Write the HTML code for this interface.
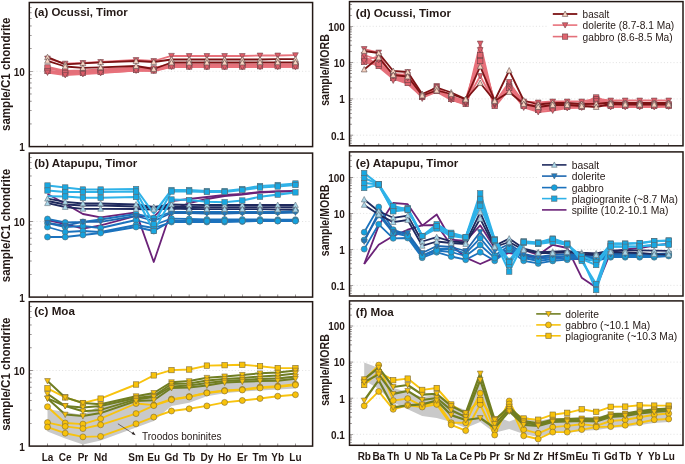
<!DOCTYPE html>
<html><head><meta charset="utf-8"><title>REE and trace element patterns</title>
<style>html,body{margin:0;padding:0;background:#fff;width:685px;height:464px;overflow:hidden}
body{position:relative;font-family:"Liberation Sans",sans-serif} svg text{} .t{will-change:transform}</style></head>
<body>
<svg width="685" height="464" viewBox="0 0 685 464" style="position:absolute;left:0;top:0;will-change:transform">
<rect width="685" height="464" fill="#ffffff"/>
<g font-family="Liberation Sans, sans-serif" fill="#231815">
<line x1="29.70" y1="123.93" x2="31.70" y2="123.93" stroke="#231815" stroke-width="0.6" opacity="0.8"/>
<line x1="29.70" y1="110.67" x2="31.70" y2="110.67" stroke="#231815" stroke-width="0.6" opacity="0.8"/>
<line x1="29.70" y1="101.26" x2="31.70" y2="101.26" stroke="#231815" stroke-width="0.6" opacity="0.8"/>
<line x1="29.70" y1="93.97" x2="31.70" y2="93.97" stroke="#231815" stroke-width="0.6" opacity="0.8"/>
<line x1="29.70" y1="88.01" x2="31.70" y2="88.01" stroke="#231815" stroke-width="0.6" opacity="0.8"/>
<line x1="29.70" y1="82.96" x2="31.70" y2="82.96" stroke="#231815" stroke-width="0.6" opacity="0.8"/>
<line x1="29.70" y1="78.60" x2="31.70" y2="78.60" stroke="#231815" stroke-width="0.6" opacity="0.8"/>
<line x1="29.70" y1="74.75" x2="31.70" y2="74.75" stroke="#231815" stroke-width="0.6" opacity="0.8"/>
<line x1="29.70" y1="71.30" x2="32.90" y2="71.30" stroke="#231815" stroke-width="0.6" opacity="0.8"/>
<line x1="29.70" y1="48.63" x2="31.70" y2="48.63" stroke="#231815" stroke-width="0.6" opacity="0.8"/>
<line x1="29.70" y1="35.37" x2="31.70" y2="35.37" stroke="#231815" stroke-width="0.6" opacity="0.8"/>
<line x1="29.70" y1="25.96" x2="31.70" y2="25.96" stroke="#231815" stroke-width="0.6" opacity="0.8"/>
<line x1="29.70" y1="18.67" x2="31.70" y2="18.67" stroke="#231815" stroke-width="0.6" opacity="0.8"/>
<line x1="29.70" y1="12.71" x2="31.70" y2="12.71" stroke="#231815" stroke-width="0.6" opacity="0.8"/>
<line x1="29.70" y1="7.66" x2="31.70" y2="7.66" stroke="#231815" stroke-width="0.6" opacity="0.8"/>
<line x1="33.30" y1="71.30" x2="310.60" y2="71.30" stroke="#d9d9d9" stroke-width="0.8" stroke-dasharray="1 2.2"/>
<line x1="47.50" y1="146.60" x2="47.50" y2="144.00" stroke="#231815" stroke-width="0.6" opacity="0.8"/>
<line x1="65.21" y1="146.60" x2="65.21" y2="144.00" stroke="#231815" stroke-width="0.6" opacity="0.8"/>
<line x1="82.92" y1="146.60" x2="82.92" y2="144.00" stroke="#231815" stroke-width="0.6" opacity="0.8"/>
<line x1="100.63" y1="146.60" x2="100.63" y2="144.00" stroke="#231815" stroke-width="0.6" opacity="0.8"/>
<line x1="118.34" y1="146.60" x2="118.34" y2="144.00" stroke="#231815" stroke-width="0.6" opacity="0.8"/>
<line x1="136.05" y1="146.60" x2="136.05" y2="144.00" stroke="#231815" stroke-width="0.6" opacity="0.8"/>
<line x1="153.76" y1="146.60" x2="153.76" y2="144.00" stroke="#231815" stroke-width="0.6" opacity="0.8"/>
<line x1="171.47" y1="146.60" x2="171.47" y2="144.00" stroke="#231815" stroke-width="0.6" opacity="0.8"/>
<line x1="189.18" y1="146.60" x2="189.18" y2="144.00" stroke="#231815" stroke-width="0.6" opacity="0.8"/>
<line x1="206.89" y1="146.60" x2="206.89" y2="144.00" stroke="#231815" stroke-width="0.6" opacity="0.8"/>
<line x1="224.60" y1="146.60" x2="224.60" y2="144.00" stroke="#231815" stroke-width="0.6" opacity="0.8"/>
<line x1="242.31" y1="146.60" x2="242.31" y2="144.00" stroke="#231815" stroke-width="0.6" opacity="0.8"/>
<line x1="260.02" y1="146.60" x2="260.02" y2="144.00" stroke="#231815" stroke-width="0.6" opacity="0.8"/>
<line x1="277.73" y1="146.60" x2="277.73" y2="144.00" stroke="#231815" stroke-width="0.6" opacity="0.8"/>
<line x1="295.44" y1="146.60" x2="295.44" y2="144.00" stroke="#231815" stroke-width="0.6" opacity="0.8"/>
<text x="24.90" y="75.70" font-size="10" font-weight="bold" text-anchor="end" >10</text>
<text x="24.90" y="151.00" font-size="10" font-weight="bold" text-anchor="end" >1</text>
<text x="34.20" y="16.10" font-size="10.5" font-weight="bold" text-anchor="start" textLength="93.60000000000001" lengthAdjust="spacingAndGlyphs" >(a) Ocussi, Timor</text>
<text transform="translate(9.7,74.30) rotate(-90)" font-size="12" font-weight="bold" text-anchor="middle" textLength="113.3" lengthAdjust="spacingAndGlyphs">sample/C1 chondrite</text>
<line x1="29.70" y1="274.34" x2="31.70" y2="274.34" stroke="#231815" stroke-width="0.6" opacity="0.8"/>
<line x1="29.70" y1="261.03" x2="31.70" y2="261.03" stroke="#231815" stroke-width="0.6" opacity="0.8"/>
<line x1="29.70" y1="251.58" x2="31.70" y2="251.58" stroke="#231815" stroke-width="0.6" opacity="0.8"/>
<line x1="29.70" y1="244.26" x2="31.70" y2="244.26" stroke="#231815" stroke-width="0.6" opacity="0.8"/>
<line x1="29.70" y1="238.27" x2="31.70" y2="238.27" stroke="#231815" stroke-width="0.6" opacity="0.8"/>
<line x1="29.70" y1="233.21" x2="31.70" y2="233.21" stroke="#231815" stroke-width="0.6" opacity="0.8"/>
<line x1="29.70" y1="228.83" x2="31.70" y2="228.83" stroke="#231815" stroke-width="0.6" opacity="0.8"/>
<line x1="29.70" y1="224.96" x2="31.70" y2="224.96" stroke="#231815" stroke-width="0.6" opacity="0.8"/>
<line x1="29.70" y1="221.50" x2="32.90" y2="221.50" stroke="#231815" stroke-width="0.6" opacity="0.8"/>
<line x1="29.70" y1="198.74" x2="31.70" y2="198.74" stroke="#231815" stroke-width="0.6" opacity="0.8"/>
<line x1="29.70" y1="185.43" x2="31.70" y2="185.43" stroke="#231815" stroke-width="0.6" opacity="0.8"/>
<line x1="29.70" y1="175.98" x2="31.70" y2="175.98" stroke="#231815" stroke-width="0.6" opacity="0.8"/>
<line x1="29.70" y1="168.66" x2="31.70" y2="168.66" stroke="#231815" stroke-width="0.6" opacity="0.8"/>
<line x1="29.70" y1="162.67" x2="31.70" y2="162.67" stroke="#231815" stroke-width="0.6" opacity="0.8"/>
<line x1="29.70" y1="157.61" x2="31.70" y2="157.61" stroke="#231815" stroke-width="0.6" opacity="0.8"/>
<line x1="33.30" y1="221.50" x2="310.60" y2="221.50" stroke="#d9d9d9" stroke-width="0.8" stroke-dasharray="1 2.2"/>
<line x1="47.50" y1="297.10" x2="47.50" y2="294.50" stroke="#231815" stroke-width="0.6" opacity="0.8"/>
<line x1="65.21" y1="297.10" x2="65.21" y2="294.50" stroke="#231815" stroke-width="0.6" opacity="0.8"/>
<line x1="82.92" y1="297.10" x2="82.92" y2="294.50" stroke="#231815" stroke-width="0.6" opacity="0.8"/>
<line x1="100.63" y1="297.10" x2="100.63" y2="294.50" stroke="#231815" stroke-width="0.6" opacity="0.8"/>
<line x1="118.34" y1="297.10" x2="118.34" y2="294.50" stroke="#231815" stroke-width="0.6" opacity="0.8"/>
<line x1="136.05" y1="297.10" x2="136.05" y2="294.50" stroke="#231815" stroke-width="0.6" opacity="0.8"/>
<line x1="153.76" y1="297.10" x2="153.76" y2="294.50" stroke="#231815" stroke-width="0.6" opacity="0.8"/>
<line x1="171.47" y1="297.10" x2="171.47" y2="294.50" stroke="#231815" stroke-width="0.6" opacity="0.8"/>
<line x1="189.18" y1="297.10" x2="189.18" y2="294.50" stroke="#231815" stroke-width="0.6" opacity="0.8"/>
<line x1="206.89" y1="297.10" x2="206.89" y2="294.50" stroke="#231815" stroke-width="0.6" opacity="0.8"/>
<line x1="224.60" y1="297.10" x2="224.60" y2="294.50" stroke="#231815" stroke-width="0.6" opacity="0.8"/>
<line x1="242.31" y1="297.10" x2="242.31" y2="294.50" stroke="#231815" stroke-width="0.6" opacity="0.8"/>
<line x1="260.02" y1="297.10" x2="260.02" y2="294.50" stroke="#231815" stroke-width="0.6" opacity="0.8"/>
<line x1="277.73" y1="297.10" x2="277.73" y2="294.50" stroke="#231815" stroke-width="0.6" opacity="0.8"/>
<line x1="295.44" y1="297.10" x2="295.44" y2="294.50" stroke="#231815" stroke-width="0.6" opacity="0.8"/>
<text x="24.90" y="225.90" font-size="10" font-weight="bold" text-anchor="end" >10</text>
<text x="24.90" y="301.50" font-size="10" font-weight="bold" text-anchor="end" >1</text>
<text x="34.20" y="166.70" font-size="10.5" font-weight="bold" text-anchor="start" textLength="103.10000000000001" lengthAdjust="spacingAndGlyphs" >(b) Atapupu, Timor</text>
<text transform="translate(9.7,225.60) rotate(-90)" font-size="12" font-weight="bold" text-anchor="middle" textLength="113.3" lengthAdjust="spacingAndGlyphs">sample/C1 chondrite</text>
<line x1="29.70" y1="423.34" x2="31.70" y2="423.34" stroke="#231815" stroke-width="0.6" opacity="0.8"/>
<line x1="29.70" y1="410.03" x2="31.70" y2="410.03" stroke="#231815" stroke-width="0.6" opacity="0.8"/>
<line x1="29.70" y1="400.58" x2="31.70" y2="400.58" stroke="#231815" stroke-width="0.6" opacity="0.8"/>
<line x1="29.70" y1="393.26" x2="31.70" y2="393.26" stroke="#231815" stroke-width="0.6" opacity="0.8"/>
<line x1="29.70" y1="387.27" x2="31.70" y2="387.27" stroke="#231815" stroke-width="0.6" opacity="0.8"/>
<line x1="29.70" y1="382.21" x2="31.70" y2="382.21" stroke="#231815" stroke-width="0.6" opacity="0.8"/>
<line x1="29.70" y1="377.83" x2="31.70" y2="377.83" stroke="#231815" stroke-width="0.6" opacity="0.8"/>
<line x1="29.70" y1="373.96" x2="31.70" y2="373.96" stroke="#231815" stroke-width="0.6" opacity="0.8"/>
<line x1="29.70" y1="370.50" x2="32.90" y2="370.50" stroke="#231815" stroke-width="0.6" opacity="0.8"/>
<line x1="29.70" y1="347.74" x2="31.70" y2="347.74" stroke="#231815" stroke-width="0.6" opacity="0.8"/>
<line x1="29.70" y1="334.43" x2="31.70" y2="334.43" stroke="#231815" stroke-width="0.6" opacity="0.8"/>
<line x1="29.70" y1="324.98" x2="31.70" y2="324.98" stroke="#231815" stroke-width="0.6" opacity="0.8"/>
<line x1="29.70" y1="317.66" x2="31.70" y2="317.66" stroke="#231815" stroke-width="0.6" opacity="0.8"/>
<line x1="29.70" y1="311.67" x2="31.70" y2="311.67" stroke="#231815" stroke-width="0.6" opacity="0.8"/>
<line x1="29.70" y1="306.61" x2="31.70" y2="306.61" stroke="#231815" stroke-width="0.6" opacity="0.8"/>
<line x1="33.30" y1="370.50" x2="310.60" y2="370.50" stroke="#d9d9d9" stroke-width="0.8" stroke-dasharray="1 2.2"/>
<line x1="47.50" y1="446.10" x2="47.50" y2="443.50" stroke="#231815" stroke-width="0.6" opacity="0.8"/>
<line x1="65.21" y1="446.10" x2="65.21" y2="443.50" stroke="#231815" stroke-width="0.6" opacity="0.8"/>
<line x1="82.92" y1="446.10" x2="82.92" y2="443.50" stroke="#231815" stroke-width="0.6" opacity="0.8"/>
<line x1="100.63" y1="446.10" x2="100.63" y2="443.50" stroke="#231815" stroke-width="0.6" opacity="0.8"/>
<line x1="118.34" y1="446.10" x2="118.34" y2="443.50" stroke="#231815" stroke-width="0.6" opacity="0.8"/>
<line x1="136.05" y1="446.10" x2="136.05" y2="443.50" stroke="#231815" stroke-width="0.6" opacity="0.8"/>
<line x1="153.76" y1="446.10" x2="153.76" y2="443.50" stroke="#231815" stroke-width="0.6" opacity="0.8"/>
<line x1="171.47" y1="446.10" x2="171.47" y2="443.50" stroke="#231815" stroke-width="0.6" opacity="0.8"/>
<line x1="189.18" y1="446.10" x2="189.18" y2="443.50" stroke="#231815" stroke-width="0.6" opacity="0.8"/>
<line x1="206.89" y1="446.10" x2="206.89" y2="443.50" stroke="#231815" stroke-width="0.6" opacity="0.8"/>
<line x1="224.60" y1="446.10" x2="224.60" y2="443.50" stroke="#231815" stroke-width="0.6" opacity="0.8"/>
<line x1="242.31" y1="446.10" x2="242.31" y2="443.50" stroke="#231815" stroke-width="0.6" opacity="0.8"/>
<line x1="260.02" y1="446.10" x2="260.02" y2="443.50" stroke="#231815" stroke-width="0.6" opacity="0.8"/>
<line x1="277.73" y1="446.10" x2="277.73" y2="443.50" stroke="#231815" stroke-width="0.6" opacity="0.8"/>
<line x1="295.44" y1="446.10" x2="295.44" y2="443.50" stroke="#231815" stroke-width="0.6" opacity="0.8"/>
<text x="24.90" y="374.90" font-size="10" font-weight="bold" text-anchor="end" >10</text>
<text x="24.90" y="450.50" font-size="10" font-weight="bold" text-anchor="end" >1</text>
<text x="34.20" y="315.30" font-size="10.5" font-weight="bold" text-anchor="start" textLength="40.7" lengthAdjust="spacingAndGlyphs" >(c) Moa</text>
<text transform="translate(9.7,374.20) rotate(-90)" font-size="12" font-weight="bold" text-anchor="middle" textLength="113.3" lengthAdjust="spacingAndGlyphs">sample/C1 chondrite</text>
<line x1="349.90" y1="143.25" x2="351.90" y2="143.25" stroke="#231815" stroke-width="0.6" opacity="0.8"/>
<line x1="349.90" y1="140.82" x2="351.90" y2="140.82" stroke="#231815" stroke-width="0.6" opacity="0.8"/>
<line x1="349.90" y1="138.72" x2="351.90" y2="138.72" stroke="#231815" stroke-width="0.6" opacity="0.8"/>
<line x1="349.90" y1="136.86" x2="351.90" y2="136.86" stroke="#231815" stroke-width="0.6" opacity="0.8"/>
<line x1="349.90" y1="135.20" x2="353.10" y2="135.20" stroke="#231815" stroke-width="0.6" opacity="0.8"/>
<line x1="349.90" y1="124.27" x2="351.90" y2="124.27" stroke="#231815" stroke-width="0.6" opacity="0.8"/>
<line x1="349.90" y1="117.88" x2="351.90" y2="117.88" stroke="#231815" stroke-width="0.6" opacity="0.8"/>
<line x1="349.90" y1="113.35" x2="351.90" y2="113.35" stroke="#231815" stroke-width="0.6" opacity="0.8"/>
<line x1="349.90" y1="109.83" x2="351.90" y2="109.83" stroke="#231815" stroke-width="0.6" opacity="0.8"/>
<line x1="349.90" y1="106.95" x2="351.90" y2="106.95" stroke="#231815" stroke-width="0.6" opacity="0.8"/>
<line x1="349.90" y1="104.52" x2="351.90" y2="104.52" stroke="#231815" stroke-width="0.6" opacity="0.8"/>
<line x1="349.90" y1="102.42" x2="351.90" y2="102.42" stroke="#231815" stroke-width="0.6" opacity="0.8"/>
<line x1="349.90" y1="100.56" x2="351.90" y2="100.56" stroke="#231815" stroke-width="0.6" opacity="0.8"/>
<line x1="349.90" y1="98.90" x2="353.10" y2="98.90" stroke="#231815" stroke-width="0.6" opacity="0.8"/>
<line x1="349.90" y1="87.97" x2="351.90" y2="87.97" stroke="#231815" stroke-width="0.6" opacity="0.8"/>
<line x1="349.90" y1="81.58" x2="351.90" y2="81.58" stroke="#231815" stroke-width="0.6" opacity="0.8"/>
<line x1="349.90" y1="77.05" x2="351.90" y2="77.05" stroke="#231815" stroke-width="0.6" opacity="0.8"/>
<line x1="349.90" y1="73.53" x2="351.90" y2="73.53" stroke="#231815" stroke-width="0.6" opacity="0.8"/>
<line x1="349.90" y1="70.65" x2="351.90" y2="70.65" stroke="#231815" stroke-width="0.6" opacity="0.8"/>
<line x1="349.90" y1="68.22" x2="351.90" y2="68.22" stroke="#231815" stroke-width="0.6" opacity="0.8"/>
<line x1="349.90" y1="66.12" x2="351.90" y2="66.12" stroke="#231815" stroke-width="0.6" opacity="0.8"/>
<line x1="349.90" y1="64.26" x2="351.90" y2="64.26" stroke="#231815" stroke-width="0.6" opacity="0.8"/>
<line x1="349.90" y1="62.60" x2="353.10" y2="62.60" stroke="#231815" stroke-width="0.6" opacity="0.8"/>
<line x1="349.90" y1="51.67" x2="351.90" y2="51.67" stroke="#231815" stroke-width="0.6" opacity="0.8"/>
<line x1="349.90" y1="45.28" x2="351.90" y2="45.28" stroke="#231815" stroke-width="0.6" opacity="0.8"/>
<line x1="349.90" y1="40.75" x2="351.90" y2="40.75" stroke="#231815" stroke-width="0.6" opacity="0.8"/>
<line x1="349.90" y1="37.23" x2="351.90" y2="37.23" stroke="#231815" stroke-width="0.6" opacity="0.8"/>
<line x1="349.90" y1="34.35" x2="351.90" y2="34.35" stroke="#231815" stroke-width="0.6" opacity="0.8"/>
<line x1="349.90" y1="31.92" x2="351.90" y2="31.92" stroke="#231815" stroke-width="0.6" opacity="0.8"/>
<line x1="349.90" y1="29.82" x2="351.90" y2="29.82" stroke="#231815" stroke-width="0.6" opacity="0.8"/>
<line x1="349.90" y1="27.96" x2="351.90" y2="27.96" stroke="#231815" stroke-width="0.6" opacity="0.8"/>
<line x1="349.90" y1="26.30" x2="353.10" y2="26.30" stroke="#231815" stroke-width="0.6" opacity="0.8"/>
<line x1="349.90" y1="15.37" x2="351.90" y2="15.37" stroke="#231815" stroke-width="0.6" opacity="0.8"/>
<line x1="349.90" y1="8.98" x2="351.90" y2="8.98" stroke="#231815" stroke-width="0.6" opacity="0.8"/>
<line x1="349.90" y1="4.45" x2="351.90" y2="4.45" stroke="#231815" stroke-width="0.6" opacity="0.8"/>
<line x1="353.50" y1="26.30" x2="681.00" y2="26.30" stroke="#d9d9d9" stroke-width="0.8" stroke-dasharray="1 2.2"/>
<text x="344.90" y="30.60" font-size="10" font-weight="bold" text-anchor="end" >100</text>
<line x1="353.50" y1="62.60" x2="681.00" y2="62.60" stroke="#d9d9d9" stroke-width="0.8" stroke-dasharray="1 2.2"/>
<text x="344.90" y="66.90" font-size="10" font-weight="bold" text-anchor="end" >10</text>
<line x1="353.50" y1="98.90" x2="681.00" y2="98.90" stroke="#d9d9d9" stroke-width="0.8" stroke-dasharray="1 2.2"/>
<text x="344.90" y="103.20" font-size="10" font-weight="bold" text-anchor="end" >1</text>
<line x1="353.50" y1="135.20" x2="681.00" y2="135.20" stroke="#d9d9d9" stroke-width="0.8" stroke-dasharray="1 2.2"/>
<text x="344.90" y="139.50" font-size="10" font-weight="bold" text-anchor="end" >0.1</text>
<line x1="364.20" y1="145.80" x2="364.20" y2="143.20" stroke="#231815" stroke-width="0.6" opacity="0.8"/>
<line x1="378.70" y1="145.80" x2="378.70" y2="143.20" stroke="#231815" stroke-width="0.6" opacity="0.8"/>
<line x1="393.20" y1="145.80" x2="393.20" y2="143.20" stroke="#231815" stroke-width="0.6" opacity="0.8"/>
<line x1="407.70" y1="145.80" x2="407.70" y2="143.20" stroke="#231815" stroke-width="0.6" opacity="0.8"/>
<line x1="422.20" y1="145.80" x2="422.20" y2="143.20" stroke="#231815" stroke-width="0.6" opacity="0.8"/>
<line x1="436.70" y1="145.80" x2="436.70" y2="143.20" stroke="#231815" stroke-width="0.6" opacity="0.8"/>
<line x1="451.20" y1="145.80" x2="451.20" y2="143.20" stroke="#231815" stroke-width="0.6" opacity="0.8"/>
<line x1="465.70" y1="145.80" x2="465.70" y2="143.20" stroke="#231815" stroke-width="0.6" opacity="0.8"/>
<line x1="480.20" y1="145.80" x2="480.20" y2="143.20" stroke="#231815" stroke-width="0.6" opacity="0.8"/>
<line x1="494.70" y1="145.80" x2="494.70" y2="143.20" stroke="#231815" stroke-width="0.6" opacity="0.8"/>
<line x1="509.20" y1="145.80" x2="509.20" y2="143.20" stroke="#231815" stroke-width="0.6" opacity="0.8"/>
<line x1="523.70" y1="145.80" x2="523.70" y2="143.20" stroke="#231815" stroke-width="0.6" opacity="0.8"/>
<line x1="538.20" y1="145.80" x2="538.20" y2="143.20" stroke="#231815" stroke-width="0.6" opacity="0.8"/>
<line x1="552.70" y1="145.80" x2="552.70" y2="143.20" stroke="#231815" stroke-width="0.6" opacity="0.8"/>
<line x1="567.20" y1="145.80" x2="567.20" y2="143.20" stroke="#231815" stroke-width="0.6" opacity="0.8"/>
<line x1="581.70" y1="145.80" x2="581.70" y2="143.20" stroke="#231815" stroke-width="0.6" opacity="0.8"/>
<line x1="596.20" y1="145.80" x2="596.20" y2="143.20" stroke="#231815" stroke-width="0.6" opacity="0.8"/>
<line x1="610.70" y1="145.80" x2="610.70" y2="143.20" stroke="#231815" stroke-width="0.6" opacity="0.8"/>
<line x1="625.20" y1="145.80" x2="625.20" y2="143.20" stroke="#231815" stroke-width="0.6" opacity="0.8"/>
<line x1="639.70" y1="145.80" x2="639.70" y2="143.20" stroke="#231815" stroke-width="0.6" opacity="0.8"/>
<line x1="654.20" y1="145.80" x2="654.20" y2="143.20" stroke="#231815" stroke-width="0.6" opacity="0.8"/>
<line x1="668.70" y1="145.80" x2="668.70" y2="143.20" stroke="#231815" stroke-width="0.6" opacity="0.8"/>
<text x="355.80" y="16.90" font-size="10.5" font-weight="bold" text-anchor="start" textLength="95.2" lengthAdjust="spacingAndGlyphs" >(d) Ocussi, Timor</text>
<text transform="translate(329.0,70.00) rotate(-90)" font-size="12.2" font-weight="bold" text-anchor="middle" textLength="71.6" lengthAdjust="spacingAndGlyphs">sample/MORB</text>
<line x1="349.90" y1="293.33" x2="351.90" y2="293.33" stroke="#231815" stroke-width="0.6" opacity="0.8"/>
<line x1="349.90" y1="290.92" x2="351.90" y2="290.92" stroke="#231815" stroke-width="0.6" opacity="0.8"/>
<line x1="349.90" y1="288.83" x2="351.90" y2="288.83" stroke="#231815" stroke-width="0.6" opacity="0.8"/>
<line x1="349.90" y1="286.99" x2="351.90" y2="286.99" stroke="#231815" stroke-width="0.6" opacity="0.8"/>
<line x1="349.90" y1="285.35" x2="353.10" y2="285.35" stroke="#231815" stroke-width="0.6" opacity="0.8"/>
<line x1="349.90" y1="274.53" x2="351.90" y2="274.53" stroke="#231815" stroke-width="0.6" opacity="0.8"/>
<line x1="349.90" y1="268.20" x2="351.90" y2="268.20" stroke="#231815" stroke-width="0.6" opacity="0.8"/>
<line x1="349.90" y1="263.71" x2="351.90" y2="263.71" stroke="#231815" stroke-width="0.6" opacity="0.8"/>
<line x1="349.90" y1="260.22" x2="351.90" y2="260.22" stroke="#231815" stroke-width="0.6" opacity="0.8"/>
<line x1="349.90" y1="257.38" x2="351.90" y2="257.38" stroke="#231815" stroke-width="0.6" opacity="0.8"/>
<line x1="349.90" y1="254.97" x2="351.90" y2="254.97" stroke="#231815" stroke-width="0.6" opacity="0.8"/>
<line x1="349.90" y1="252.88" x2="351.90" y2="252.88" stroke="#231815" stroke-width="0.6" opacity="0.8"/>
<line x1="349.90" y1="251.04" x2="351.90" y2="251.04" stroke="#231815" stroke-width="0.6" opacity="0.8"/>
<line x1="349.90" y1="249.40" x2="353.10" y2="249.40" stroke="#231815" stroke-width="0.6" opacity="0.8"/>
<line x1="349.90" y1="238.58" x2="351.90" y2="238.58" stroke="#231815" stroke-width="0.6" opacity="0.8"/>
<line x1="349.90" y1="232.25" x2="351.90" y2="232.25" stroke="#231815" stroke-width="0.6" opacity="0.8"/>
<line x1="349.90" y1="227.76" x2="351.90" y2="227.76" stroke="#231815" stroke-width="0.6" opacity="0.8"/>
<line x1="349.90" y1="224.27" x2="351.90" y2="224.27" stroke="#231815" stroke-width="0.6" opacity="0.8"/>
<line x1="349.90" y1="221.43" x2="351.90" y2="221.43" stroke="#231815" stroke-width="0.6" opacity="0.8"/>
<line x1="349.90" y1="219.02" x2="351.90" y2="219.02" stroke="#231815" stroke-width="0.6" opacity="0.8"/>
<line x1="349.90" y1="216.93" x2="351.90" y2="216.93" stroke="#231815" stroke-width="0.6" opacity="0.8"/>
<line x1="349.90" y1="215.09" x2="351.90" y2="215.09" stroke="#231815" stroke-width="0.6" opacity="0.8"/>
<line x1="349.90" y1="213.45" x2="353.10" y2="213.45" stroke="#231815" stroke-width="0.6" opacity="0.8"/>
<line x1="349.90" y1="202.63" x2="351.90" y2="202.63" stroke="#231815" stroke-width="0.6" opacity="0.8"/>
<line x1="349.90" y1="196.30" x2="351.90" y2="196.30" stroke="#231815" stroke-width="0.6" opacity="0.8"/>
<line x1="349.90" y1="191.81" x2="351.90" y2="191.81" stroke="#231815" stroke-width="0.6" opacity="0.8"/>
<line x1="349.90" y1="188.32" x2="351.90" y2="188.32" stroke="#231815" stroke-width="0.6" opacity="0.8"/>
<line x1="349.90" y1="185.48" x2="351.90" y2="185.48" stroke="#231815" stroke-width="0.6" opacity="0.8"/>
<line x1="349.90" y1="183.07" x2="351.90" y2="183.07" stroke="#231815" stroke-width="0.6" opacity="0.8"/>
<line x1="349.90" y1="180.98" x2="351.90" y2="180.98" stroke="#231815" stroke-width="0.6" opacity="0.8"/>
<line x1="349.90" y1="179.14" x2="351.90" y2="179.14" stroke="#231815" stroke-width="0.6" opacity="0.8"/>
<line x1="349.90" y1="177.50" x2="353.10" y2="177.50" stroke="#231815" stroke-width="0.6" opacity="0.8"/>
<line x1="349.90" y1="166.68" x2="351.90" y2="166.68" stroke="#231815" stroke-width="0.6" opacity="0.8"/>
<line x1="349.90" y1="160.35" x2="351.90" y2="160.35" stroke="#231815" stroke-width="0.6" opacity="0.8"/>
<line x1="349.90" y1="155.86" x2="351.90" y2="155.86" stroke="#231815" stroke-width="0.6" opacity="0.8"/>
<line x1="353.50" y1="177.50" x2="681.00" y2="177.50" stroke="#d9d9d9" stroke-width="0.8" stroke-dasharray="1 2.2"/>
<text x="344.90" y="181.80" font-size="10" font-weight="bold" text-anchor="end" >100</text>
<line x1="353.50" y1="213.45" x2="681.00" y2="213.45" stroke="#d9d9d9" stroke-width="0.8" stroke-dasharray="1 2.2"/>
<text x="344.90" y="217.75" font-size="10" font-weight="bold" text-anchor="end" >10</text>
<line x1="353.50" y1="249.40" x2="681.00" y2="249.40" stroke="#d9d9d9" stroke-width="0.8" stroke-dasharray="1 2.2"/>
<text x="344.90" y="253.70" font-size="10" font-weight="bold" text-anchor="end" >1</text>
<line x1="353.50" y1="285.35" x2="681.00" y2="285.35" stroke="#d9d9d9" stroke-width="0.8" stroke-dasharray="1 2.2"/>
<text x="344.90" y="289.65" font-size="10" font-weight="bold" text-anchor="end" >0.1</text>
<line x1="364.20" y1="296.00" x2="364.20" y2="293.40" stroke="#231815" stroke-width="0.6" opacity="0.8"/>
<line x1="378.70" y1="296.00" x2="378.70" y2="293.40" stroke="#231815" stroke-width="0.6" opacity="0.8"/>
<line x1="393.20" y1="296.00" x2="393.20" y2="293.40" stroke="#231815" stroke-width="0.6" opacity="0.8"/>
<line x1="407.70" y1="296.00" x2="407.70" y2="293.40" stroke="#231815" stroke-width="0.6" opacity="0.8"/>
<line x1="422.20" y1="296.00" x2="422.20" y2="293.40" stroke="#231815" stroke-width="0.6" opacity="0.8"/>
<line x1="436.70" y1="296.00" x2="436.70" y2="293.40" stroke="#231815" stroke-width="0.6" opacity="0.8"/>
<line x1="451.20" y1="296.00" x2="451.20" y2="293.40" stroke="#231815" stroke-width="0.6" opacity="0.8"/>
<line x1="465.70" y1="296.00" x2="465.70" y2="293.40" stroke="#231815" stroke-width="0.6" opacity="0.8"/>
<line x1="480.20" y1="296.00" x2="480.20" y2="293.40" stroke="#231815" stroke-width="0.6" opacity="0.8"/>
<line x1="494.70" y1="296.00" x2="494.70" y2="293.40" stroke="#231815" stroke-width="0.6" opacity="0.8"/>
<line x1="509.20" y1="296.00" x2="509.20" y2="293.40" stroke="#231815" stroke-width="0.6" opacity="0.8"/>
<line x1="523.70" y1="296.00" x2="523.70" y2="293.40" stroke="#231815" stroke-width="0.6" opacity="0.8"/>
<line x1="538.20" y1="296.00" x2="538.20" y2="293.40" stroke="#231815" stroke-width="0.6" opacity="0.8"/>
<line x1="552.70" y1="296.00" x2="552.70" y2="293.40" stroke="#231815" stroke-width="0.6" opacity="0.8"/>
<line x1="567.20" y1="296.00" x2="567.20" y2="293.40" stroke="#231815" stroke-width="0.6" opacity="0.8"/>
<line x1="581.70" y1="296.00" x2="581.70" y2="293.40" stroke="#231815" stroke-width="0.6" opacity="0.8"/>
<line x1="596.20" y1="296.00" x2="596.20" y2="293.40" stroke="#231815" stroke-width="0.6" opacity="0.8"/>
<line x1="610.70" y1="296.00" x2="610.70" y2="293.40" stroke="#231815" stroke-width="0.6" opacity="0.8"/>
<line x1="625.20" y1="296.00" x2="625.20" y2="293.40" stroke="#231815" stroke-width="0.6" opacity="0.8"/>
<line x1="639.70" y1="296.00" x2="639.70" y2="293.40" stroke="#231815" stroke-width="0.6" opacity="0.8"/>
<line x1="654.20" y1="296.00" x2="654.20" y2="293.40" stroke="#231815" stroke-width="0.6" opacity="0.8"/>
<line x1="668.70" y1="296.00" x2="668.70" y2="293.40" stroke="#231815" stroke-width="0.6" opacity="0.8"/>
<text x="355.80" y="167.20" font-size="10.5" font-weight="bold" text-anchor="start" textLength="102.6" lengthAdjust="spacingAndGlyphs" >(e) Atapupu, Timor</text>
<text transform="translate(329.0,220.40) rotate(-90)" font-size="12.2" font-weight="bold" text-anchor="middle" textLength="71.6" lengthAdjust="spacingAndGlyphs">sample/MORB</text>
<line x1="349.90" y1="442.31" x2="351.90" y2="442.31" stroke="#231815" stroke-width="0.6" opacity="0.8"/>
<line x1="349.90" y1="439.89" x2="351.90" y2="439.89" stroke="#231815" stroke-width="0.6" opacity="0.8"/>
<line x1="349.90" y1="437.80" x2="351.90" y2="437.80" stroke="#231815" stroke-width="0.6" opacity="0.8"/>
<line x1="349.90" y1="435.95" x2="351.90" y2="435.95" stroke="#231815" stroke-width="0.6" opacity="0.8"/>
<line x1="349.90" y1="434.30" x2="353.10" y2="434.30" stroke="#231815" stroke-width="0.6" opacity="0.8"/>
<line x1="349.90" y1="423.43" x2="351.90" y2="423.43" stroke="#231815" stroke-width="0.6" opacity="0.8"/>
<line x1="349.90" y1="417.08" x2="351.90" y2="417.08" stroke="#231815" stroke-width="0.6" opacity="0.8"/>
<line x1="349.90" y1="412.57" x2="351.90" y2="412.57" stroke="#231815" stroke-width="0.6" opacity="0.8"/>
<line x1="349.90" y1="409.07" x2="351.90" y2="409.07" stroke="#231815" stroke-width="0.6" opacity="0.8"/>
<line x1="349.90" y1="406.21" x2="351.90" y2="406.21" stroke="#231815" stroke-width="0.6" opacity="0.8"/>
<line x1="349.90" y1="403.79" x2="351.90" y2="403.79" stroke="#231815" stroke-width="0.6" opacity="0.8"/>
<line x1="349.90" y1="401.70" x2="351.90" y2="401.70" stroke="#231815" stroke-width="0.6" opacity="0.8"/>
<line x1="349.90" y1="399.85" x2="351.90" y2="399.85" stroke="#231815" stroke-width="0.6" opacity="0.8"/>
<line x1="349.90" y1="398.20" x2="353.10" y2="398.20" stroke="#231815" stroke-width="0.6" opacity="0.8"/>
<line x1="349.90" y1="387.33" x2="351.90" y2="387.33" stroke="#231815" stroke-width="0.6" opacity="0.8"/>
<line x1="349.90" y1="380.98" x2="351.90" y2="380.98" stroke="#231815" stroke-width="0.6" opacity="0.8"/>
<line x1="349.90" y1="376.47" x2="351.90" y2="376.47" stroke="#231815" stroke-width="0.6" opacity="0.8"/>
<line x1="349.90" y1="372.97" x2="351.90" y2="372.97" stroke="#231815" stroke-width="0.6" opacity="0.8"/>
<line x1="349.90" y1="370.11" x2="351.90" y2="370.11" stroke="#231815" stroke-width="0.6" opacity="0.8"/>
<line x1="349.90" y1="367.69" x2="351.90" y2="367.69" stroke="#231815" stroke-width="0.6" opacity="0.8"/>
<line x1="349.90" y1="365.60" x2="351.90" y2="365.60" stroke="#231815" stroke-width="0.6" opacity="0.8"/>
<line x1="349.90" y1="363.75" x2="351.90" y2="363.75" stroke="#231815" stroke-width="0.6" opacity="0.8"/>
<line x1="349.90" y1="362.10" x2="353.10" y2="362.10" stroke="#231815" stroke-width="0.6" opacity="0.8"/>
<line x1="349.90" y1="351.23" x2="351.90" y2="351.23" stroke="#231815" stroke-width="0.6" opacity="0.8"/>
<line x1="349.90" y1="344.88" x2="351.90" y2="344.88" stroke="#231815" stroke-width="0.6" opacity="0.8"/>
<line x1="349.90" y1="340.37" x2="351.90" y2="340.37" stroke="#231815" stroke-width="0.6" opacity="0.8"/>
<line x1="349.90" y1="336.87" x2="351.90" y2="336.87" stroke="#231815" stroke-width="0.6" opacity="0.8"/>
<line x1="349.90" y1="334.01" x2="351.90" y2="334.01" stroke="#231815" stroke-width="0.6" opacity="0.8"/>
<line x1="349.90" y1="331.59" x2="351.90" y2="331.59" stroke="#231815" stroke-width="0.6" opacity="0.8"/>
<line x1="349.90" y1="329.50" x2="351.90" y2="329.50" stroke="#231815" stroke-width="0.6" opacity="0.8"/>
<line x1="349.90" y1="327.65" x2="351.90" y2="327.65" stroke="#231815" stroke-width="0.6" opacity="0.8"/>
<line x1="349.90" y1="326.00" x2="353.10" y2="326.00" stroke="#231815" stroke-width="0.6" opacity="0.8"/>
<line x1="349.90" y1="315.13" x2="351.90" y2="315.13" stroke="#231815" stroke-width="0.6" opacity="0.8"/>
<line x1="349.90" y1="308.78" x2="351.90" y2="308.78" stroke="#231815" stroke-width="0.6" opacity="0.8"/>
<line x1="349.90" y1="304.27" x2="351.90" y2="304.27" stroke="#231815" stroke-width="0.6" opacity="0.8"/>
<line x1="353.50" y1="326.00" x2="681.00" y2="326.00" stroke="#d9d9d9" stroke-width="0.8" stroke-dasharray="1 2.2"/>
<text x="344.90" y="330.30" font-size="10" font-weight="bold" text-anchor="end" >100</text>
<line x1="353.50" y1="362.10" x2="681.00" y2="362.10" stroke="#d9d9d9" stroke-width="0.8" stroke-dasharray="1 2.2"/>
<text x="344.90" y="366.40" font-size="10" font-weight="bold" text-anchor="end" >10</text>
<line x1="353.50" y1="398.20" x2="681.00" y2="398.20" stroke="#d9d9d9" stroke-width="0.8" stroke-dasharray="1 2.2"/>
<text x="344.90" y="402.50" font-size="10" font-weight="bold" text-anchor="end" >1</text>
<line x1="353.50" y1="434.30" x2="681.00" y2="434.30" stroke="#d9d9d9" stroke-width="0.8" stroke-dasharray="1 2.2"/>
<text x="344.90" y="438.60" font-size="10" font-weight="bold" text-anchor="end" >0.1</text>
<line x1="364.20" y1="445.30" x2="364.20" y2="442.70" stroke="#231815" stroke-width="0.6" opacity="0.8"/>
<line x1="378.70" y1="445.30" x2="378.70" y2="442.70" stroke="#231815" stroke-width="0.6" opacity="0.8"/>
<line x1="393.20" y1="445.30" x2="393.20" y2="442.70" stroke="#231815" stroke-width="0.6" opacity="0.8"/>
<line x1="407.70" y1="445.30" x2="407.70" y2="442.70" stroke="#231815" stroke-width="0.6" opacity="0.8"/>
<line x1="422.20" y1="445.30" x2="422.20" y2="442.70" stroke="#231815" stroke-width="0.6" opacity="0.8"/>
<line x1="436.70" y1="445.30" x2="436.70" y2="442.70" stroke="#231815" stroke-width="0.6" opacity="0.8"/>
<line x1="451.20" y1="445.30" x2="451.20" y2="442.70" stroke="#231815" stroke-width="0.6" opacity="0.8"/>
<line x1="465.70" y1="445.30" x2="465.70" y2="442.70" stroke="#231815" stroke-width="0.6" opacity="0.8"/>
<line x1="480.20" y1="445.30" x2="480.20" y2="442.70" stroke="#231815" stroke-width="0.6" opacity="0.8"/>
<line x1="494.70" y1="445.30" x2="494.70" y2="442.70" stroke="#231815" stroke-width="0.6" opacity="0.8"/>
<line x1="509.20" y1="445.30" x2="509.20" y2="442.70" stroke="#231815" stroke-width="0.6" opacity="0.8"/>
<line x1="523.70" y1="445.30" x2="523.70" y2="442.70" stroke="#231815" stroke-width="0.6" opacity="0.8"/>
<line x1="538.20" y1="445.30" x2="538.20" y2="442.70" stroke="#231815" stroke-width="0.6" opacity="0.8"/>
<line x1="552.70" y1="445.30" x2="552.70" y2="442.70" stroke="#231815" stroke-width="0.6" opacity="0.8"/>
<line x1="567.20" y1="445.30" x2="567.20" y2="442.70" stroke="#231815" stroke-width="0.6" opacity="0.8"/>
<line x1="581.70" y1="445.30" x2="581.70" y2="442.70" stroke="#231815" stroke-width="0.6" opacity="0.8"/>
<line x1="596.20" y1="445.30" x2="596.20" y2="442.70" stroke="#231815" stroke-width="0.6" opacity="0.8"/>
<line x1="610.70" y1="445.30" x2="610.70" y2="442.70" stroke="#231815" stroke-width="0.6" opacity="0.8"/>
<line x1="625.20" y1="445.30" x2="625.20" y2="442.70" stroke="#231815" stroke-width="0.6" opacity="0.8"/>
<line x1="639.70" y1="445.30" x2="639.70" y2="442.70" stroke="#231815" stroke-width="0.6" opacity="0.8"/>
<line x1="654.20" y1="445.30" x2="654.20" y2="442.70" stroke="#231815" stroke-width="0.6" opacity="0.8"/>
<line x1="668.70" y1="445.30" x2="668.70" y2="442.70" stroke="#231815" stroke-width="0.6" opacity="0.8"/>
<text x="355.80" y="316.20" font-size="10.5" font-weight="bold" text-anchor="start" textLength="38.0" lengthAdjust="spacingAndGlyphs" >(f) Moa</text>
<text transform="translate(329.0,370.00) rotate(-90)" font-size="12.2" font-weight="bold" text-anchor="middle" textLength="71.6" lengthAdjust="spacingAndGlyphs">sample/MORB</text>
<path d="M47.50,67.50L65.21,71.50L82.92,71.00L100.63,70.00L136.05,68.00L153.76,68.50L171.47,64.80L189.18,65.00L206.89,65.00L224.60,65.00L242.31,65.00L260.02,64.80L277.73,64.80L295.44,64.80" fill="none" stroke="#e4707a" stroke-width="3.2" stroke-linejoin="round"/>
<path d="M47.50,71.00L65.21,73.50L82.92,73.00L100.63,72.00L136.05,70.00L153.76,70.50L171.47,66.20L189.18,66.50L206.89,66.50L224.60,66.50L242.31,66.50L260.02,66.20L277.73,66.20L295.44,66.20" fill="none" stroke="#e4707a" stroke-width="3.2" stroke-linejoin="round"/>
<path d="M47.50,58.50L65.21,63.60L82.92,63.00L100.63,62.00L136.05,60.00L153.76,61.00L171.47,55.80L189.18,56.00L206.89,56.00L224.60,56.00L242.31,56.00L260.02,55.50L277.73,55.50L295.44,55.20" fill="none" stroke="#e8717b" stroke-width="1.8" stroke-linejoin="round"/>
<path d="M47.50,72.50L65.21,75.00L82.92,74.00L100.63,73.00L136.05,70.50L153.76,70.50L171.47,66.60L189.18,67.00L206.89,67.00L224.60,67.00L242.31,67.00L260.02,66.80L277.73,66.80L295.44,66.80" fill="none" stroke="#e8717b" stroke-width="1.8" stroke-linejoin="round"/>
<path d="M47.50,57.20L65.21,64.30L82.92,63.30L100.63,62.30L136.05,61.00L153.76,62.00L171.47,59.50L189.18,59.50L206.89,59.50L224.60,59.50L242.31,59.50L260.02,59.50L277.73,59.20L295.44,59.20" fill="none" stroke="#7c1214" stroke-width="1.8" stroke-linejoin="round"/>
<path d="M47.50,60.80L65.21,66.50L82.92,67.90L100.63,67.40L136.05,66.00L153.76,69.00L171.47,62.50L189.18,62.50L206.89,62.50L224.60,62.50L242.31,62.50L260.02,62.30L277.73,62.30L295.44,62.30" fill="none" stroke="#7c1214" stroke-width="1.8" stroke-linejoin="round"/>
<rect x="44.79" y="64.79" width="5.42" height="5.42" fill="#e0646e" stroke="#6e4046" stroke-width="0.6"/>
<rect x="62.50" y="68.79" width="5.42" height="5.42" fill="#e0646e" stroke="#6e4046" stroke-width="0.6"/>
<rect x="80.21" y="68.29" width="5.42" height="5.42" fill="#e0646e" stroke="#6e4046" stroke-width="0.6"/>
<rect x="97.92" y="67.29" width="5.42" height="5.42" fill="#e0646e" stroke="#6e4046" stroke-width="0.6"/>
<rect x="133.34" y="65.29" width="5.42" height="5.42" fill="#e0646e" stroke="#6e4046" stroke-width="0.6"/>
<rect x="151.05" y="65.79" width="5.42" height="5.42" fill="#e0646e" stroke="#6e4046" stroke-width="0.6"/>
<rect x="168.76" y="62.09" width="5.42" height="5.42" fill="#e0646e" stroke="#6e4046" stroke-width="0.6"/>
<rect x="186.47" y="62.29" width="5.42" height="5.42" fill="#e0646e" stroke="#6e4046" stroke-width="0.6"/>
<rect x="204.18" y="62.29" width="5.42" height="5.42" fill="#e0646e" stroke="#6e4046" stroke-width="0.6"/>
<rect x="221.89" y="62.29" width="5.42" height="5.42" fill="#e0646e" stroke="#6e4046" stroke-width="0.6"/>
<rect x="239.60" y="62.29" width="5.42" height="5.42" fill="#e0646e" stroke="#6e4046" stroke-width="0.6"/>
<rect x="257.31" y="62.09" width="5.42" height="5.42" fill="#e0646e" stroke="#6e4046" stroke-width="0.6"/>
<rect x="275.02" y="62.09" width="5.42" height="5.42" fill="#e0646e" stroke="#6e4046" stroke-width="0.6"/>
<rect x="292.73" y="62.09" width="5.42" height="5.42" fill="#e0646e" stroke="#6e4046" stroke-width="0.6"/>
<rect x="44.79" y="68.29" width="5.42" height="5.42" fill="#e0646e" stroke="#6e4046" stroke-width="0.6"/>
<rect x="62.50" y="70.79" width="5.42" height="5.42" fill="#e0646e" stroke="#6e4046" stroke-width="0.6"/>
<rect x="80.21" y="70.29" width="5.42" height="5.42" fill="#e0646e" stroke="#6e4046" stroke-width="0.6"/>
<rect x="97.92" y="69.29" width="5.42" height="5.42" fill="#e0646e" stroke="#6e4046" stroke-width="0.6"/>
<rect x="133.34" y="67.29" width="5.42" height="5.42" fill="#e0646e" stroke="#6e4046" stroke-width="0.6"/>
<rect x="151.05" y="67.79" width="5.42" height="5.42" fill="#e0646e" stroke="#6e4046" stroke-width="0.6"/>
<rect x="168.76" y="63.49" width="5.42" height="5.42" fill="#e0646e" stroke="#6e4046" stroke-width="0.6"/>
<rect x="186.47" y="63.79" width="5.42" height="5.42" fill="#e0646e" stroke="#6e4046" stroke-width="0.6"/>
<rect x="204.18" y="63.79" width="5.42" height="5.42" fill="#e0646e" stroke="#6e4046" stroke-width="0.6"/>
<rect x="221.89" y="63.79" width="5.42" height="5.42" fill="#e0646e" stroke="#6e4046" stroke-width="0.6"/>
<rect x="239.60" y="63.79" width="5.42" height="5.42" fill="#e0646e" stroke="#6e4046" stroke-width="0.6"/>
<rect x="257.31" y="63.49" width="5.42" height="5.42" fill="#e0646e" stroke="#6e4046" stroke-width="0.6"/>
<rect x="275.02" y="63.49" width="5.42" height="5.42" fill="#e0646e" stroke="#6e4046" stroke-width="0.6"/>
<rect x="292.73" y="63.49" width="5.42" height="5.42" fill="#e0646e" stroke="#6e4046" stroke-width="0.6"/>
<path d="M47.50,61.49L50.35,56.08L44.65,56.08Z" fill="#df5d69" stroke="#6e4046" stroke-width="0.6"/>
<path d="M65.21,66.59L68.06,61.18L62.36,61.18Z" fill="#df5d69" stroke="#6e4046" stroke-width="0.6"/>
<path d="M82.92,65.99L85.77,60.58L80.07,60.58Z" fill="#df5d69" stroke="#6e4046" stroke-width="0.6"/>
<path d="M100.63,64.99L103.48,59.58L97.78,59.58Z" fill="#df5d69" stroke="#6e4046" stroke-width="0.6"/>
<path d="M136.05,62.99L138.90,57.58L133.20,57.58Z" fill="#df5d69" stroke="#6e4046" stroke-width="0.6"/>
<path d="M153.76,63.99L156.61,58.58L150.91,58.58Z" fill="#df5d69" stroke="#6e4046" stroke-width="0.6"/>
<path d="M171.47,58.79L174.32,53.38L168.62,53.38Z" fill="#df5d69" stroke="#6e4046" stroke-width="0.6"/>
<path d="M189.18,58.99L192.03,53.58L186.33,53.58Z" fill="#df5d69" stroke="#6e4046" stroke-width="0.6"/>
<path d="M206.89,58.99L209.74,53.58L204.04,53.58Z" fill="#df5d69" stroke="#6e4046" stroke-width="0.6"/>
<path d="M224.60,58.99L227.45,53.58L221.75,53.58Z" fill="#df5d69" stroke="#6e4046" stroke-width="0.6"/>
<path d="M242.31,58.99L245.16,53.58L239.46,53.58Z" fill="#df5d69" stroke="#6e4046" stroke-width="0.6"/>
<path d="M260.02,58.49L262.87,53.08L257.17,53.08Z" fill="#df5d69" stroke="#6e4046" stroke-width="0.6"/>
<path d="M277.73,58.49L280.58,53.08L274.88,53.08Z" fill="#df5d69" stroke="#6e4046" stroke-width="0.6"/>
<path d="M295.44,58.19L298.29,52.78L292.59,52.78Z" fill="#df5d69" stroke="#6e4046" stroke-width="0.6"/>
<path d="M47.50,75.49L50.35,70.08L44.65,70.08Z" fill="#df5d69" stroke="#6e4046" stroke-width="0.6"/>
<path d="M65.21,77.99L68.06,72.58L62.36,72.58Z" fill="#df5d69" stroke="#6e4046" stroke-width="0.6"/>
<path d="M82.92,76.99L85.77,71.58L80.07,71.58Z" fill="#df5d69" stroke="#6e4046" stroke-width="0.6"/>
<path d="M100.63,75.99L103.48,70.58L97.78,70.58Z" fill="#df5d69" stroke="#6e4046" stroke-width="0.6"/>
<path d="M136.05,73.49L138.90,68.08L133.20,68.08Z" fill="#df5d69" stroke="#6e4046" stroke-width="0.6"/>
<path d="M153.76,73.49L156.61,68.08L150.91,68.08Z" fill="#df5d69" stroke="#6e4046" stroke-width="0.6"/>
<path d="M171.47,69.59L174.32,64.18L168.62,64.18Z" fill="#df5d69" stroke="#6e4046" stroke-width="0.6"/>
<path d="M189.18,69.99L192.03,64.58L186.33,64.58Z" fill="#df5d69" stroke="#6e4046" stroke-width="0.6"/>
<path d="M206.89,69.99L209.74,64.58L204.04,64.58Z" fill="#df5d69" stroke="#6e4046" stroke-width="0.6"/>
<path d="M224.60,69.99L227.45,64.58L221.75,64.58Z" fill="#df5d69" stroke="#6e4046" stroke-width="0.6"/>
<path d="M242.31,69.99L245.16,64.58L239.46,64.58Z" fill="#df5d69" stroke="#6e4046" stroke-width="0.6"/>
<path d="M260.02,69.79L262.87,64.38L257.17,64.38Z" fill="#df5d69" stroke="#6e4046" stroke-width="0.6"/>
<path d="M277.73,69.79L280.58,64.38L274.88,64.38Z" fill="#df5d69" stroke="#6e4046" stroke-width="0.6"/>
<path d="M295.44,69.79L298.29,64.38L292.59,64.38Z" fill="#df5d69" stroke="#6e4046" stroke-width="0.6"/>
<path d="M47.50,54.21L50.35,59.62L44.65,59.62Z" fill="#f8d4c2" stroke="#5e4a4a" stroke-width="0.6"/>
<path d="M65.21,61.31L68.06,66.72L62.36,66.72Z" fill="#f8d4c2" stroke="#5e4a4a" stroke-width="0.6"/>
<path d="M82.92,60.31L85.77,65.72L80.07,65.72Z" fill="#f8d4c2" stroke="#5e4a4a" stroke-width="0.6"/>
<path d="M100.63,59.31L103.48,64.72L97.78,64.72Z" fill="#f8d4c2" stroke="#5e4a4a" stroke-width="0.6"/>
<path d="M136.05,58.01L138.90,63.42L133.20,63.42Z" fill="#f8d4c2" stroke="#5e4a4a" stroke-width="0.6"/>
<path d="M153.76,59.01L156.61,64.42L150.91,64.42Z" fill="#f8d4c2" stroke="#5e4a4a" stroke-width="0.6"/>
<path d="M171.47,56.51L174.32,61.92L168.62,61.92Z" fill="#f8d4c2" stroke="#5e4a4a" stroke-width="0.6"/>
<path d="M189.18,56.51L192.03,61.92L186.33,61.92Z" fill="#f8d4c2" stroke="#5e4a4a" stroke-width="0.6"/>
<path d="M206.89,56.51L209.74,61.92L204.04,61.92Z" fill="#f8d4c2" stroke="#5e4a4a" stroke-width="0.6"/>
<path d="M224.60,56.51L227.45,61.92L221.75,61.92Z" fill="#f8d4c2" stroke="#5e4a4a" stroke-width="0.6"/>
<path d="M242.31,56.51L245.16,61.92L239.46,61.92Z" fill="#f8d4c2" stroke="#5e4a4a" stroke-width="0.6"/>
<path d="M260.02,56.51L262.87,61.92L257.17,61.92Z" fill="#f8d4c2" stroke="#5e4a4a" stroke-width="0.6"/>
<path d="M277.73,56.21L280.58,61.62L274.88,61.62Z" fill="#f8d4c2" stroke="#5e4a4a" stroke-width="0.6"/>
<path d="M295.44,56.21L298.29,61.62L292.59,61.62Z" fill="#f8d4c2" stroke="#5e4a4a" stroke-width="0.6"/>
<path d="M47.50,57.81L50.35,63.22L44.65,63.22Z" fill="#f8d4c2" stroke="#5e4a4a" stroke-width="0.6"/>
<path d="M65.21,63.51L68.06,68.92L62.36,68.92Z" fill="#f8d4c2" stroke="#5e4a4a" stroke-width="0.6"/>
<path d="M82.92,64.91L85.77,70.32L80.07,70.32Z" fill="#f8d4c2" stroke="#5e4a4a" stroke-width="0.6"/>
<path d="M100.63,64.41L103.48,69.82L97.78,69.82Z" fill="#f8d4c2" stroke="#5e4a4a" stroke-width="0.6"/>
<path d="M136.05,63.01L138.90,68.42L133.20,68.42Z" fill="#f8d4c2" stroke="#5e4a4a" stroke-width="0.6"/>
<path d="M153.76,66.01L156.61,71.42L150.91,71.42Z" fill="#f8d4c2" stroke="#5e4a4a" stroke-width="0.6"/>
<path d="M171.47,59.51L174.32,64.92L168.62,64.92Z" fill="#f8d4c2" stroke="#5e4a4a" stroke-width="0.6"/>
<path d="M189.18,59.51L192.03,64.92L186.33,64.92Z" fill="#f8d4c2" stroke="#5e4a4a" stroke-width="0.6"/>
<path d="M206.89,59.51L209.74,64.92L204.04,64.92Z" fill="#f8d4c2" stroke="#5e4a4a" stroke-width="0.6"/>
<path d="M224.60,59.51L227.45,64.92L221.75,64.92Z" fill="#f8d4c2" stroke="#5e4a4a" stroke-width="0.6"/>
<path d="M242.31,59.51L245.16,64.92L239.46,64.92Z" fill="#f8d4c2" stroke="#5e4a4a" stroke-width="0.6"/>
<path d="M260.02,59.31L262.87,64.72L257.17,64.72Z" fill="#f8d4c2" stroke="#5e4a4a" stroke-width="0.6"/>
<path d="M277.73,59.31L280.58,64.72L274.88,64.72Z" fill="#f8d4c2" stroke="#5e4a4a" stroke-width="0.6"/>
<path d="M295.44,59.31L298.29,64.72L292.59,64.72Z" fill="#f8d4c2" stroke="#5e4a4a" stroke-width="0.6"/>
<path d="M47.50,194.00L65.21,203.70L82.92,214.00L100.63,217.30L136.05,212.40L153.76,262.00L171.47,210.00L189.18,203.00L206.89,199.00L224.60,196.00L242.31,194.50L260.02,192.50L277.73,191.50L295.44,191.30" fill="none" stroke="#6b2278" stroke-width="1.8" stroke-linejoin="round"/>
<path d="M47.50,220.00L65.21,224.00L82.92,228.60L100.63,225.40L136.05,216.00L153.76,216.70L171.47,201.00L189.18,199.00L206.89,197.00L224.60,195.00L242.31,194.00L260.02,192.00L277.73,191.30L295.44,191.00" fill="none" stroke="#6b2278" stroke-width="1.8" stroke-linejoin="round"/>
<path d="M47.50,219.00L65.21,222.50L82.92,222.00L100.63,219.50L136.05,214.00L153.76,218.00L171.47,212.00L189.18,212.00L206.89,212.00L224.60,212.00L242.31,212.00L260.02,212.00L277.73,212.00L295.44,211.00" fill="none" stroke="#1b72bd" stroke-width="1.8" stroke-linejoin="round"/>
<path d="M47.50,223.00L65.21,227.00L82.92,226.00L100.63,228.00L136.05,220.00L153.76,225.00L171.47,218.60L189.18,219.00L206.89,219.50L224.60,219.50L242.31,219.50L260.02,219.50L277.73,219.70L295.44,219.70" fill="none" stroke="#1b72bd" stroke-width="1.8" stroke-linejoin="round"/>
<path d="M47.50,227.00L65.21,232.00L82.92,231.00L100.63,232.00L136.05,225.00L153.76,228.00L171.47,222.00L189.18,222.00L206.89,222.00L224.60,222.00L242.31,221.50L260.02,221.00L277.73,221.00L295.44,220.80" fill="none" stroke="#1b72bd" stroke-width="1.8" stroke-linejoin="round"/>
<path d="M47.50,237.00L65.21,237.00L82.92,235.00L100.63,233.00L136.05,227.00L153.76,231.00L171.47,221.00L189.18,221.00L206.89,221.00L224.60,221.00L242.31,221.00L260.02,221.00L277.73,221.00L295.44,221.00" fill="none" stroke="#1b72bd" stroke-width="1.8" stroke-linejoin="round"/>
<path d="M47.50,223.00L65.21,225.60L82.92,221.80L100.63,221.80L136.05,216.00L153.76,221.00L171.47,213.00L189.18,213.00L206.89,213.50L224.60,213.50L242.31,213.00L260.02,213.00L277.73,213.00L295.44,212.50" fill="none" stroke="#1d67b0" stroke-width="1.8" stroke-linejoin="round"/>
<path d="M47.50,198.70L65.21,201.80L82.92,203.50L100.63,203.50L136.05,204.50L153.76,207.00L171.47,204.50L189.18,204.80L206.89,205.00L224.60,205.00L242.31,205.00L260.02,205.00L277.73,205.00L295.44,205.00" fill="none" stroke="#1f2a5e" stroke-width="1.8" stroke-linejoin="round"/>
<path d="M47.50,201.00L65.21,204.50L82.92,205.50L100.63,205.50L136.05,206.50L153.76,208.00L171.47,206.80L189.18,207.00L206.89,207.20L224.60,207.20L242.31,207.20L260.02,207.20L277.73,207.20L295.44,207.20" fill="none" stroke="#1f2a5e" stroke-width="1.8" stroke-linejoin="round"/>
<path d="M47.50,203.20L65.21,207.00L82.92,208.80L100.63,208.80L136.05,209.00L153.76,209.50L171.47,208.70L189.18,209.00L206.89,209.20L224.60,209.20L242.31,209.20L260.02,209.20L277.73,209.50L295.44,209.50" fill="none" stroke="#1f2a5e" stroke-width="1.8" stroke-linejoin="round"/>
<path d="M47.50,185.50L65.21,187.50L82.92,189.50L100.63,189.50L136.05,189.00L153.76,213.50L171.47,190.00L189.18,190.00L206.89,191.00L224.60,191.00L242.31,189.00L260.02,186.00L277.73,185.00L295.44,183.50" fill="none" stroke="#2fb2e8" stroke-width="2.1" stroke-linejoin="round"/>
<path d="M47.50,190.50L65.21,192.00L82.92,192.00L100.63,192.00L136.05,191.50L153.76,224.00L171.47,191.50L189.18,191.50L206.89,192.00L224.60,192.00L242.31,190.00L260.02,187.50L277.73,186.50L295.44,185.00" fill="none" stroke="#2fb2e8" stroke-width="2.1" stroke-linejoin="round"/>
<path d="M47.50,196.30L65.21,196.50L82.92,197.80L100.63,197.80L136.05,197.00L153.76,231.00L171.47,199.50L189.18,200.00L206.89,201.80L224.60,202.20L242.31,200.50L260.02,196.70L277.73,194.60L295.44,192.40" fill="none" stroke="#2fb2e8" stroke-width="2.1" stroke-linejoin="round"/>
<circle cx="47.50" cy="219.00" r="2.99" fill="#14a1de" stroke="#56666f" stroke-width="0.6"/>
<circle cx="65.21" cy="222.50" r="2.99" fill="#14a1de" stroke="#56666f" stroke-width="0.6"/>
<circle cx="82.92" cy="222.00" r="2.99" fill="#14a1de" stroke="#56666f" stroke-width="0.6"/>
<circle cx="100.63" cy="219.50" r="2.99" fill="#14a1de" stroke="#56666f" stroke-width="0.6"/>
<circle cx="136.05" cy="214.00" r="2.99" fill="#14a1de" stroke="#56666f" stroke-width="0.6"/>
<circle cx="153.76" cy="218.00" r="2.99" fill="#14a1de" stroke="#56666f" stroke-width="0.6"/>
<circle cx="171.47" cy="212.00" r="2.99" fill="#14a1de" stroke="#56666f" stroke-width="0.6"/>
<circle cx="189.18" cy="212.00" r="2.99" fill="#14a1de" stroke="#56666f" stroke-width="0.6"/>
<circle cx="206.89" cy="212.00" r="2.99" fill="#14a1de" stroke="#56666f" stroke-width="0.6"/>
<circle cx="224.60" cy="212.00" r="2.99" fill="#14a1de" stroke="#56666f" stroke-width="0.6"/>
<circle cx="242.31" cy="212.00" r="2.99" fill="#14a1de" stroke="#56666f" stroke-width="0.6"/>
<circle cx="260.02" cy="212.00" r="2.99" fill="#14a1de" stroke="#56666f" stroke-width="0.6"/>
<circle cx="277.73" cy="212.00" r="2.99" fill="#14a1de" stroke="#56666f" stroke-width="0.6"/>
<circle cx="295.44" cy="211.00" r="2.99" fill="#14a1de" stroke="#56666f" stroke-width="0.6"/>
<circle cx="47.50" cy="223.00" r="2.99" fill="#14a1de" stroke="#56666f" stroke-width="0.6"/>
<circle cx="65.21" cy="227.00" r="2.99" fill="#14a1de" stroke="#56666f" stroke-width="0.6"/>
<circle cx="82.92" cy="226.00" r="2.99" fill="#14a1de" stroke="#56666f" stroke-width="0.6"/>
<circle cx="100.63" cy="228.00" r="2.99" fill="#14a1de" stroke="#56666f" stroke-width="0.6"/>
<circle cx="136.05" cy="220.00" r="2.99" fill="#14a1de" stroke="#56666f" stroke-width="0.6"/>
<circle cx="153.76" cy="225.00" r="2.99" fill="#14a1de" stroke="#56666f" stroke-width="0.6"/>
<circle cx="171.47" cy="218.60" r="2.99" fill="#14a1de" stroke="#56666f" stroke-width="0.6"/>
<circle cx="189.18" cy="219.00" r="2.99" fill="#14a1de" stroke="#56666f" stroke-width="0.6"/>
<circle cx="206.89" cy="219.50" r="2.99" fill="#14a1de" stroke="#56666f" stroke-width="0.6"/>
<circle cx="224.60" cy="219.50" r="2.99" fill="#14a1de" stroke="#56666f" stroke-width="0.6"/>
<circle cx="242.31" cy="219.50" r="2.99" fill="#14a1de" stroke="#56666f" stroke-width="0.6"/>
<circle cx="260.02" cy="219.50" r="2.99" fill="#14a1de" stroke="#56666f" stroke-width="0.6"/>
<circle cx="277.73" cy="219.70" r="2.99" fill="#14a1de" stroke="#56666f" stroke-width="0.6"/>
<circle cx="295.44" cy="219.70" r="2.99" fill="#14a1de" stroke="#56666f" stroke-width="0.6"/>
<circle cx="47.50" cy="227.00" r="2.99" fill="#14a1de" stroke="#56666f" stroke-width="0.6"/>
<circle cx="65.21" cy="232.00" r="2.99" fill="#14a1de" stroke="#56666f" stroke-width="0.6"/>
<circle cx="82.92" cy="231.00" r="2.99" fill="#14a1de" stroke="#56666f" stroke-width="0.6"/>
<circle cx="100.63" cy="232.00" r="2.99" fill="#14a1de" stroke="#56666f" stroke-width="0.6"/>
<circle cx="136.05" cy="225.00" r="2.99" fill="#14a1de" stroke="#56666f" stroke-width="0.6"/>
<circle cx="153.76" cy="228.00" r="2.99" fill="#14a1de" stroke="#56666f" stroke-width="0.6"/>
<circle cx="171.47" cy="222.00" r="2.99" fill="#14a1de" stroke="#56666f" stroke-width="0.6"/>
<circle cx="189.18" cy="222.00" r="2.99" fill="#14a1de" stroke="#56666f" stroke-width="0.6"/>
<circle cx="206.89" cy="222.00" r="2.99" fill="#14a1de" stroke="#56666f" stroke-width="0.6"/>
<circle cx="224.60" cy="222.00" r="2.99" fill="#14a1de" stroke="#56666f" stroke-width="0.6"/>
<circle cx="242.31" cy="221.50" r="2.99" fill="#14a1de" stroke="#56666f" stroke-width="0.6"/>
<circle cx="260.02" cy="221.00" r="2.99" fill="#14a1de" stroke="#56666f" stroke-width="0.6"/>
<circle cx="277.73" cy="221.00" r="2.99" fill="#14a1de" stroke="#56666f" stroke-width="0.6"/>
<circle cx="295.44" cy="220.80" r="2.99" fill="#14a1de" stroke="#56666f" stroke-width="0.6"/>
<circle cx="47.50" cy="237.00" r="2.99" fill="#14a1de" stroke="#56666f" stroke-width="0.6"/>
<circle cx="65.21" cy="237.00" r="2.99" fill="#14a1de" stroke="#56666f" stroke-width="0.6"/>
<circle cx="82.92" cy="235.00" r="2.99" fill="#14a1de" stroke="#56666f" stroke-width="0.6"/>
<circle cx="100.63" cy="233.00" r="2.99" fill="#14a1de" stroke="#56666f" stroke-width="0.6"/>
<circle cx="136.05" cy="227.00" r="2.99" fill="#14a1de" stroke="#56666f" stroke-width="0.6"/>
<circle cx="153.76" cy="231.00" r="2.99" fill="#14a1de" stroke="#56666f" stroke-width="0.6"/>
<circle cx="171.47" cy="221.00" r="2.99" fill="#14a1de" stroke="#56666f" stroke-width="0.6"/>
<circle cx="189.18" cy="221.00" r="2.99" fill="#14a1de" stroke="#56666f" stroke-width="0.6"/>
<circle cx="206.89" cy="221.00" r="2.99" fill="#14a1de" stroke="#56666f" stroke-width="0.6"/>
<circle cx="224.60" cy="221.00" r="2.99" fill="#14a1de" stroke="#56666f" stroke-width="0.6"/>
<circle cx="242.31" cy="221.00" r="2.99" fill="#14a1de" stroke="#56666f" stroke-width="0.6"/>
<circle cx="260.02" cy="221.00" r="2.99" fill="#14a1de" stroke="#56666f" stroke-width="0.6"/>
<circle cx="277.73" cy="221.00" r="2.99" fill="#14a1de" stroke="#56666f" stroke-width="0.6"/>
<circle cx="295.44" cy="221.00" r="2.99" fill="#14a1de" stroke="#56666f" stroke-width="0.6"/>
<path d="M47.50,225.99L50.35,220.58L44.65,220.58Z" fill="#1c7cc4" stroke="#4d5f70" stroke-width="0.6"/>
<path d="M65.21,228.59L68.06,223.18L62.36,223.18Z" fill="#1c7cc4" stroke="#4d5f70" stroke-width="0.6"/>
<path d="M82.92,224.79L85.77,219.38L80.07,219.38Z" fill="#1c7cc4" stroke="#4d5f70" stroke-width="0.6"/>
<path d="M100.63,224.79L103.48,219.38L97.78,219.38Z" fill="#1c7cc4" stroke="#4d5f70" stroke-width="0.6"/>
<path d="M136.05,218.99L138.90,213.58L133.20,213.58Z" fill="#1c7cc4" stroke="#4d5f70" stroke-width="0.6"/>
<path d="M153.76,223.99L156.61,218.58L150.91,218.58Z" fill="#1c7cc4" stroke="#4d5f70" stroke-width="0.6"/>
<path d="M171.47,215.99L174.32,210.58L168.62,210.58Z" fill="#1c7cc4" stroke="#4d5f70" stroke-width="0.6"/>
<path d="M189.18,215.99L192.03,210.58L186.33,210.58Z" fill="#1c7cc4" stroke="#4d5f70" stroke-width="0.6"/>
<path d="M206.89,216.49L209.74,211.08L204.04,211.08Z" fill="#1c7cc4" stroke="#4d5f70" stroke-width="0.6"/>
<path d="M224.60,216.49L227.45,211.08L221.75,211.08Z" fill="#1c7cc4" stroke="#4d5f70" stroke-width="0.6"/>
<path d="M242.31,215.99L245.16,210.58L239.46,210.58Z" fill="#1c7cc4" stroke="#4d5f70" stroke-width="0.6"/>
<path d="M260.02,215.99L262.87,210.58L257.17,210.58Z" fill="#1c7cc4" stroke="#4d5f70" stroke-width="0.6"/>
<path d="M277.73,215.99L280.58,210.58L274.88,210.58Z" fill="#1c7cc4" stroke="#4d5f70" stroke-width="0.6"/>
<path d="M295.44,215.49L298.29,210.08L292.59,210.08Z" fill="#1c7cc4" stroke="#4d5f70" stroke-width="0.6"/>
<path d="M47.50,195.71L50.35,201.12L44.65,201.12Z" fill="#a9d7ea" stroke="#66727c" stroke-width="0.6"/>
<path d="M65.21,198.81L68.06,204.22L62.36,204.22Z" fill="#a9d7ea" stroke="#66727c" stroke-width="0.6"/>
<path d="M82.92,200.51L85.77,205.92L80.07,205.92Z" fill="#a9d7ea" stroke="#66727c" stroke-width="0.6"/>
<path d="M100.63,200.51L103.48,205.92L97.78,205.92Z" fill="#a9d7ea" stroke="#66727c" stroke-width="0.6"/>
<path d="M136.05,201.51L138.90,206.92L133.20,206.92Z" fill="#a9d7ea" stroke="#66727c" stroke-width="0.6"/>
<path d="M153.76,204.01L156.61,209.42L150.91,209.42Z" fill="#a9d7ea" stroke="#66727c" stroke-width="0.6"/>
<path d="M171.47,201.51L174.32,206.92L168.62,206.92Z" fill="#a9d7ea" stroke="#66727c" stroke-width="0.6"/>
<path d="M189.18,201.81L192.03,207.22L186.33,207.22Z" fill="#a9d7ea" stroke="#66727c" stroke-width="0.6"/>
<path d="M206.89,202.01L209.74,207.42L204.04,207.42Z" fill="#a9d7ea" stroke="#66727c" stroke-width="0.6"/>
<path d="M224.60,202.01L227.45,207.42L221.75,207.42Z" fill="#a9d7ea" stroke="#66727c" stroke-width="0.6"/>
<path d="M242.31,202.01L245.16,207.42L239.46,207.42Z" fill="#a9d7ea" stroke="#66727c" stroke-width="0.6"/>
<path d="M260.02,202.01L262.87,207.42L257.17,207.42Z" fill="#a9d7ea" stroke="#66727c" stroke-width="0.6"/>
<path d="M277.73,202.01L280.58,207.42L274.88,207.42Z" fill="#a9d7ea" stroke="#66727c" stroke-width="0.6"/>
<path d="M295.44,202.01L298.29,207.42L292.59,207.42Z" fill="#a9d7ea" stroke="#66727c" stroke-width="0.6"/>
<path d="M47.50,200.21L50.35,205.62L44.65,205.62Z" fill="#a9d7ea" stroke="#66727c" stroke-width="0.6"/>
<path d="M65.21,204.01L68.06,209.42L62.36,209.42Z" fill="#a9d7ea" stroke="#66727c" stroke-width="0.6"/>
<path d="M82.92,205.81L85.77,211.22L80.07,211.22Z" fill="#a9d7ea" stroke="#66727c" stroke-width="0.6"/>
<path d="M100.63,205.81L103.48,211.22L97.78,211.22Z" fill="#a9d7ea" stroke="#66727c" stroke-width="0.6"/>
<path d="M136.05,206.01L138.90,211.42L133.20,211.42Z" fill="#a9d7ea" stroke="#66727c" stroke-width="0.6"/>
<path d="M153.76,206.51L156.61,211.92L150.91,211.92Z" fill="#a9d7ea" stroke="#66727c" stroke-width="0.6"/>
<path d="M171.47,205.71L174.32,211.12L168.62,211.12Z" fill="#a9d7ea" stroke="#66727c" stroke-width="0.6"/>
<path d="M189.18,206.01L192.03,211.42L186.33,211.42Z" fill="#a9d7ea" stroke="#66727c" stroke-width="0.6"/>
<path d="M206.89,206.21L209.74,211.62L204.04,211.62Z" fill="#a9d7ea" stroke="#66727c" stroke-width="0.6"/>
<path d="M224.60,206.21L227.45,211.62L221.75,211.62Z" fill="#a9d7ea" stroke="#66727c" stroke-width="0.6"/>
<path d="M242.31,206.21L245.16,211.62L239.46,211.62Z" fill="#a9d7ea" stroke="#66727c" stroke-width="0.6"/>
<path d="M260.02,206.21L262.87,211.62L257.17,211.62Z" fill="#a9d7ea" stroke="#66727c" stroke-width="0.6"/>
<path d="M277.73,206.51L280.58,211.92L274.88,211.92Z" fill="#a9d7ea" stroke="#66727c" stroke-width="0.6"/>
<path d="M295.44,206.51L298.29,211.92L292.59,211.92Z" fill="#a9d7ea" stroke="#66727c" stroke-width="0.6"/>
<rect x="44.79" y="182.79" width="5.42" height="5.42" fill="#18a8e2" stroke="#5a6a72" stroke-width="0.6"/>
<rect x="62.50" y="184.79" width="5.42" height="5.42" fill="#18a8e2" stroke="#5a6a72" stroke-width="0.6"/>
<rect x="80.21" y="186.79" width="5.42" height="5.42" fill="#18a8e2" stroke="#5a6a72" stroke-width="0.6"/>
<rect x="97.92" y="186.79" width="5.42" height="5.42" fill="#18a8e2" stroke="#5a6a72" stroke-width="0.6"/>
<rect x="133.34" y="186.29" width="5.42" height="5.42" fill="#18a8e2" stroke="#5a6a72" stroke-width="0.6"/>
<rect x="168.76" y="187.29" width="5.42" height="5.42" fill="#18a8e2" stroke="#5a6a72" stroke-width="0.6"/>
<rect x="186.47" y="187.29" width="5.42" height="5.42" fill="#18a8e2" stroke="#5a6a72" stroke-width="0.6"/>
<rect x="204.18" y="188.29" width="5.42" height="5.42" fill="#18a8e2" stroke="#5a6a72" stroke-width="0.6"/>
<rect x="221.89" y="188.29" width="5.42" height="5.42" fill="#18a8e2" stroke="#5a6a72" stroke-width="0.6"/>
<rect x="239.60" y="186.29" width="5.42" height="5.42" fill="#18a8e2" stroke="#5a6a72" stroke-width="0.6"/>
<rect x="257.31" y="183.29" width="5.42" height="5.42" fill="#18a8e2" stroke="#5a6a72" stroke-width="0.6"/>
<rect x="275.02" y="182.29" width="5.42" height="5.42" fill="#18a8e2" stroke="#5a6a72" stroke-width="0.6"/>
<rect x="292.73" y="180.79" width="5.42" height="5.42" fill="#18a8e2" stroke="#5a6a72" stroke-width="0.6"/>
<rect x="44.79" y="187.79" width="5.42" height="5.42" fill="#18a8e2" stroke="#5a6a72" stroke-width="0.6"/>
<rect x="62.50" y="189.29" width="5.42" height="5.42" fill="#18a8e2" stroke="#5a6a72" stroke-width="0.6"/>
<rect x="80.21" y="189.29" width="5.42" height="5.42" fill="#18a8e2" stroke="#5a6a72" stroke-width="0.6"/>
<rect x="97.92" y="189.29" width="5.42" height="5.42" fill="#18a8e2" stroke="#5a6a72" stroke-width="0.6"/>
<rect x="133.34" y="188.79" width="5.42" height="5.42" fill="#18a8e2" stroke="#5a6a72" stroke-width="0.6"/>
<rect x="151.05" y="221.29" width="5.42" height="5.42" fill="#18a8e2" stroke="#5a6a72" stroke-width="0.6"/>
<rect x="168.76" y="188.79" width="5.42" height="5.42" fill="#18a8e2" stroke="#5a6a72" stroke-width="0.6"/>
<rect x="186.47" y="188.79" width="5.42" height="5.42" fill="#18a8e2" stroke="#5a6a72" stroke-width="0.6"/>
<rect x="204.18" y="189.29" width="5.42" height="5.42" fill="#18a8e2" stroke="#5a6a72" stroke-width="0.6"/>
<rect x="221.89" y="189.29" width="5.42" height="5.42" fill="#18a8e2" stroke="#5a6a72" stroke-width="0.6"/>
<rect x="239.60" y="187.29" width="5.42" height="5.42" fill="#18a8e2" stroke="#5a6a72" stroke-width="0.6"/>
<rect x="257.31" y="184.79" width="5.42" height="5.42" fill="#18a8e2" stroke="#5a6a72" stroke-width="0.6"/>
<rect x="275.02" y="183.79" width="5.42" height="5.42" fill="#18a8e2" stroke="#5a6a72" stroke-width="0.6"/>
<rect x="292.73" y="182.29" width="5.42" height="5.42" fill="#18a8e2" stroke="#5a6a72" stroke-width="0.6"/>
<rect x="62.50" y="193.79" width="5.42" height="5.42" fill="#18a8e2" stroke="#5a6a72" stroke-width="0.6"/>
<rect x="80.21" y="195.09" width="5.42" height="5.42" fill="#18a8e2" stroke="#5a6a72" stroke-width="0.6"/>
<rect x="97.92" y="195.09" width="5.42" height="5.42" fill="#18a8e2" stroke="#5a6a72" stroke-width="0.6"/>
<rect x="133.34" y="194.29" width="5.42" height="5.42" fill="#18a8e2" stroke="#5a6a72" stroke-width="0.6"/>
<rect x="151.05" y="228.29" width="5.42" height="5.42" fill="#18a8e2" stroke="#5a6a72" stroke-width="0.6"/>
<rect x="168.76" y="196.79" width="5.42" height="5.42" fill="#18a8e2" stroke="#5a6a72" stroke-width="0.6"/>
<rect x="186.47" y="197.29" width="5.42" height="5.42" fill="#18a8e2" stroke="#5a6a72" stroke-width="0.6"/>
<rect x="204.18" y="199.09" width="5.42" height="5.42" fill="#18a8e2" stroke="#5a6a72" stroke-width="0.6"/>
<rect x="221.89" y="199.49" width="5.42" height="5.42" fill="#18a8e2" stroke="#5a6a72" stroke-width="0.6"/>
<rect x="239.60" y="197.79" width="5.42" height="5.42" fill="#18a8e2" stroke="#5a6a72" stroke-width="0.6"/>
<rect x="257.31" y="193.99" width="5.42" height="5.42" fill="#18a8e2" stroke="#5a6a72" stroke-width="0.6"/>
<rect x="275.02" y="191.89" width="5.42" height="5.42" fill="#18a8e2" stroke="#5a6a72" stroke-width="0.6"/>
<rect x="292.73" y="189.69" width="5.42" height="5.42" fill="#18a8e2" stroke="#5a6a72" stroke-width="0.6"/>
<path d="M47.50,409.00L65.21,412.00L82.92,415.00L100.63,405.00L136.05,396.00L153.76,393.00L171.47,386.00L189.18,385.00L206.89,382.00L224.60,380.00L242.31,379.00L260.02,378.00L277.73,377.00L295.44,376.00L295.44,388.40L277.73,389.40L260.02,390.40L242.31,391.40L224.60,393.30L206.89,396.20L189.18,402.70L171.47,405.90L153.76,421.10L136.05,427.50L100.63,440.40L82.92,444.50L65.21,438.40L47.50,431.60Z" fill="#c9c9c9" stroke="none"/>
<path d="M47.50,406.70L65.21,423.00L82.92,424.10L100.63,418.70L136.05,403.50L153.76,405.10L171.47,399.10L189.18,396.60L206.89,392.70L224.60,390.40L242.31,389.40L260.02,387.10L277.73,386.10L295.44,384.20" fill="none" stroke="#f8c30e" stroke-width="1.9" stroke-linejoin="round"/>
<path d="M47.50,422.60L65.21,426.40L82.92,428.60L100.63,424.80L136.05,413.60L153.76,405.60L171.47,399.80L189.18,397.00L206.89,393.00L224.60,391.00L242.31,390.00L260.02,388.00L277.73,387.00L295.44,385.00" fill="none" stroke="#f8c30e" stroke-width="1.9" stroke-linejoin="round"/>
<path d="M47.50,427.10L65.21,433.20L82.92,436.90L100.63,436.40L136.05,423.80L153.76,417.10L171.47,411.00L189.18,408.80L206.89,405.90L224.60,402.40L242.31,400.50L260.02,398.50L277.73,396.20L295.44,394.70" fill="none" stroke="#f8c30e" stroke-width="1.9" stroke-linejoin="round"/>
<path d="M47.50,388.30L65.21,397.40L82.92,403.00L100.63,398.60L136.05,384.50L153.76,375.40L171.47,370.10L189.18,369.50L206.89,365.60L224.60,365.20L242.31,364.80L260.02,366.20L277.73,368.10L295.44,368.10" fill="none" stroke="#f8c30e" stroke-width="1.9" stroke-linejoin="round"/>
<path d="M47.50,381.00L65.21,397.40L82.92,403.00L100.63,404.30L136.05,396.20L153.76,393.00L171.47,382.20L189.18,381.10L206.89,377.80L224.60,376.40L242.31,374.90L260.02,373.30L277.73,372.60L295.44,370.60" fill="none" stroke="#707e22" stroke-width="2.0" stroke-linejoin="round"/>
<path d="M47.50,393.90L65.21,406.00L82.92,407.50L100.63,406.00L136.05,398.00L153.76,396.00L171.47,384.00L189.18,383.50L206.89,380.50L224.60,379.00L242.31,378.00L260.02,376.50L277.73,375.50L295.44,373.50" fill="none" stroke="#707e22" stroke-width="2.0" stroke-linejoin="round"/>
<path d="M47.50,398.40L65.21,406.00L82.92,411.30L100.63,409.90L136.05,399.40L153.76,397.00L171.47,386.50L189.18,385.50L206.89,383.00L224.60,381.00L242.31,380.00L260.02,379.00L277.73,378.50L295.44,376.50" fill="none" stroke="#707e22" stroke-width="2.0" stroke-linejoin="round"/>
<path d="M47.50,398.40L65.21,414.60L82.92,416.10L100.63,413.10L136.05,401.00L153.76,400.20L171.47,388.00L189.18,387.50L206.89,385.50L224.60,382.60L242.31,381.70L260.02,381.10L277.73,380.70L295.44,378.80" fill="none" stroke="#707e22" stroke-width="2.0" stroke-linejoin="round"/>
<circle cx="47.50" cy="406.70" r="2.99" fill="#f8c20a" stroke="#7d6a35" stroke-width="0.6"/>
<circle cx="65.21" cy="423.00" r="2.99" fill="#f8c20a" stroke="#7d6a35" stroke-width="0.6"/>
<circle cx="82.92" cy="424.10" r="2.99" fill="#f8c20a" stroke="#7d6a35" stroke-width="0.6"/>
<circle cx="100.63" cy="418.70" r="2.99" fill="#f8c20a" stroke="#7d6a35" stroke-width="0.6"/>
<circle cx="136.05" cy="403.50" r="2.99" fill="#f8c20a" stroke="#7d6a35" stroke-width="0.6"/>
<circle cx="153.76" cy="405.10" r="2.99" fill="#f8c20a" stroke="#7d6a35" stroke-width="0.6"/>
<circle cx="171.47" cy="399.10" r="2.99" fill="#f8c20a" stroke="#7d6a35" stroke-width="0.6"/>
<circle cx="189.18" cy="396.60" r="2.99" fill="#f8c20a" stroke="#7d6a35" stroke-width="0.6"/>
<circle cx="206.89" cy="392.70" r="2.99" fill="#f8c20a" stroke="#7d6a35" stroke-width="0.6"/>
<circle cx="224.60" cy="390.40" r="2.99" fill="#f8c20a" stroke="#7d6a35" stroke-width="0.6"/>
<circle cx="242.31" cy="389.40" r="2.99" fill="#f8c20a" stroke="#7d6a35" stroke-width="0.6"/>
<circle cx="260.02" cy="387.10" r="2.99" fill="#f8c20a" stroke="#7d6a35" stroke-width="0.6"/>
<circle cx="277.73" cy="386.10" r="2.99" fill="#f8c20a" stroke="#7d6a35" stroke-width="0.6"/>
<circle cx="295.44" cy="384.20" r="2.99" fill="#f8c20a" stroke="#7d6a35" stroke-width="0.6"/>
<circle cx="47.50" cy="422.60" r="2.99" fill="#f8c20a" stroke="#7d6a35" stroke-width="0.6"/>
<circle cx="65.21" cy="426.40" r="2.99" fill="#f8c20a" stroke="#7d6a35" stroke-width="0.6"/>
<circle cx="82.92" cy="428.60" r="2.99" fill="#f8c20a" stroke="#7d6a35" stroke-width="0.6"/>
<circle cx="100.63" cy="424.80" r="2.99" fill="#f8c20a" stroke="#7d6a35" stroke-width="0.6"/>
<circle cx="136.05" cy="413.60" r="2.99" fill="#f8c20a" stroke="#7d6a35" stroke-width="0.6"/>
<circle cx="153.76" cy="405.60" r="2.99" fill="#f8c20a" stroke="#7d6a35" stroke-width="0.6"/>
<circle cx="171.47" cy="399.80" r="2.99" fill="#f8c20a" stroke="#7d6a35" stroke-width="0.6"/>
<circle cx="189.18" cy="397.00" r="2.99" fill="#f8c20a" stroke="#7d6a35" stroke-width="0.6"/>
<circle cx="206.89" cy="393.00" r="2.99" fill="#f8c20a" stroke="#7d6a35" stroke-width="0.6"/>
<circle cx="224.60" cy="391.00" r="2.99" fill="#f8c20a" stroke="#7d6a35" stroke-width="0.6"/>
<circle cx="242.31" cy="390.00" r="2.99" fill="#f8c20a" stroke="#7d6a35" stroke-width="0.6"/>
<circle cx="260.02" cy="388.00" r="2.99" fill="#f8c20a" stroke="#7d6a35" stroke-width="0.6"/>
<circle cx="277.73" cy="387.00" r="2.99" fill="#f8c20a" stroke="#7d6a35" stroke-width="0.6"/>
<circle cx="295.44" cy="385.00" r="2.99" fill="#f8c20a" stroke="#7d6a35" stroke-width="0.6"/>
<circle cx="47.50" cy="427.10" r="2.99" fill="#f8c20a" stroke="#7d6a35" stroke-width="0.6"/>
<circle cx="65.21" cy="433.20" r="2.99" fill="#f8c20a" stroke="#7d6a35" stroke-width="0.6"/>
<circle cx="82.92" cy="436.90" r="2.99" fill="#f8c20a" stroke="#7d6a35" stroke-width="0.6"/>
<circle cx="100.63" cy="436.40" r="2.99" fill="#f8c20a" stroke="#7d6a35" stroke-width="0.6"/>
<circle cx="136.05" cy="423.80" r="2.99" fill="#f8c20a" stroke="#7d6a35" stroke-width="0.6"/>
<circle cx="153.76" cy="417.10" r="2.99" fill="#f8c20a" stroke="#7d6a35" stroke-width="0.6"/>
<circle cx="171.47" cy="411.00" r="2.99" fill="#f8c20a" stroke="#7d6a35" stroke-width="0.6"/>
<circle cx="189.18" cy="408.80" r="2.99" fill="#f8c20a" stroke="#7d6a35" stroke-width="0.6"/>
<circle cx="206.89" cy="405.90" r="2.99" fill="#f8c20a" stroke="#7d6a35" stroke-width="0.6"/>
<circle cx="224.60" cy="402.40" r="2.99" fill="#f8c20a" stroke="#7d6a35" stroke-width="0.6"/>
<circle cx="242.31" cy="400.50" r="2.99" fill="#f8c20a" stroke="#7d6a35" stroke-width="0.6"/>
<circle cx="260.02" cy="398.50" r="2.99" fill="#f8c20a" stroke="#7d6a35" stroke-width="0.6"/>
<circle cx="277.73" cy="396.20" r="2.99" fill="#f8c20a" stroke="#7d6a35" stroke-width="0.6"/>
<circle cx="295.44" cy="394.70" r="2.99" fill="#f8c20a" stroke="#7d6a35" stroke-width="0.6"/>
<rect x="44.79" y="385.59" width="5.42" height="5.42" fill="#f8c20a" stroke="#7d6a35" stroke-width="0.6"/>
<rect x="62.50" y="394.69" width="5.42" height="5.42" fill="#f8c20a" stroke="#7d6a35" stroke-width="0.6"/>
<rect x="80.21" y="400.29" width="5.42" height="5.42" fill="#f8c20a" stroke="#7d6a35" stroke-width="0.6"/>
<rect x="97.92" y="395.89" width="5.42" height="5.42" fill="#f8c20a" stroke="#7d6a35" stroke-width="0.6"/>
<rect x="133.34" y="381.79" width="5.42" height="5.42" fill="#f8c20a" stroke="#7d6a35" stroke-width="0.6"/>
<rect x="151.05" y="372.69" width="5.42" height="5.42" fill="#f8c20a" stroke="#7d6a35" stroke-width="0.6"/>
<rect x="168.76" y="367.39" width="5.42" height="5.42" fill="#f8c20a" stroke="#7d6a35" stroke-width="0.6"/>
<rect x="186.47" y="366.79" width="5.42" height="5.42" fill="#f8c20a" stroke="#7d6a35" stroke-width="0.6"/>
<rect x="204.18" y="362.89" width="5.42" height="5.42" fill="#f8c20a" stroke="#7d6a35" stroke-width="0.6"/>
<rect x="221.89" y="362.49" width="5.42" height="5.42" fill="#f8c20a" stroke="#7d6a35" stroke-width="0.6"/>
<rect x="239.60" y="362.09" width="5.42" height="5.42" fill="#f8c20a" stroke="#7d6a35" stroke-width="0.6"/>
<rect x="257.31" y="363.49" width="5.42" height="5.42" fill="#f8c20a" stroke="#7d6a35" stroke-width="0.6"/>
<rect x="275.02" y="365.39" width="5.42" height="5.42" fill="#f8c20a" stroke="#7d6a35" stroke-width="0.6"/>
<rect x="292.73" y="365.39" width="5.42" height="5.42" fill="#f8c20a" stroke="#7d6a35" stroke-width="0.6"/>
<path d="M47.50,383.99L50.35,378.58L44.65,378.58Z" fill="#f8c20a" stroke="#7d6a35" stroke-width="0.6"/>
<path d="M65.21,400.39L68.06,394.98L62.36,394.98Z" fill="#f8c20a" stroke="#7d6a35" stroke-width="0.6"/>
<path d="M82.92,405.99L85.77,400.58L80.07,400.58Z" fill="#f8c20a" stroke="#7d6a35" stroke-width="0.6"/>
<path d="M100.63,407.29L103.48,401.88L97.78,401.88Z" fill="#f8c20a" stroke="#7d6a35" stroke-width="0.6"/>
<path d="M136.05,399.19L138.90,393.78L133.20,393.78Z" fill="#f8c20a" stroke="#7d6a35" stroke-width="0.6"/>
<path d="M153.76,395.99L156.61,390.58L150.91,390.58Z" fill="#f8c20a" stroke="#7d6a35" stroke-width="0.6"/>
<path d="M171.47,385.19L174.32,379.78L168.62,379.78Z" fill="#f8c20a" stroke="#7d6a35" stroke-width="0.6"/>
<path d="M189.18,384.09L192.03,378.68L186.33,378.68Z" fill="#f8c20a" stroke="#7d6a35" stroke-width="0.6"/>
<path d="M206.89,380.79L209.74,375.38L204.04,375.38Z" fill="#f8c20a" stroke="#7d6a35" stroke-width="0.6"/>
<path d="M224.60,379.39L227.45,373.98L221.75,373.98Z" fill="#f8c20a" stroke="#7d6a35" stroke-width="0.6"/>
<path d="M242.31,377.89L245.16,372.48L239.46,372.48Z" fill="#f8c20a" stroke="#7d6a35" stroke-width="0.6"/>
<path d="M260.02,376.29L262.87,370.88L257.17,370.88Z" fill="#f8c20a" stroke="#7d6a35" stroke-width="0.6"/>
<path d="M277.73,375.59L280.58,370.18L274.88,370.18Z" fill="#f8c20a" stroke="#7d6a35" stroke-width="0.6"/>
<path d="M295.44,373.59L298.29,368.18L292.59,368.18Z" fill="#f8c20a" stroke="#7d6a35" stroke-width="0.6"/>
<path d="M47.50,396.89L50.35,391.48L44.65,391.48Z" fill="#f8c20a" stroke="#7d6a35" stroke-width="0.6"/>
<path d="M65.21,408.99L68.06,403.58L62.36,403.58Z" fill="#f8c20a" stroke="#7d6a35" stroke-width="0.6"/>
<path d="M82.92,410.49L85.77,405.08L80.07,405.08Z" fill="#f8c20a" stroke="#7d6a35" stroke-width="0.6"/>
<path d="M100.63,408.99L103.48,403.58L97.78,403.58Z" fill="#f8c20a" stroke="#7d6a35" stroke-width="0.6"/>
<path d="M136.05,400.99L138.90,395.58L133.20,395.58Z" fill="#f8c20a" stroke="#7d6a35" stroke-width="0.6"/>
<path d="M153.76,398.99L156.61,393.58L150.91,393.58Z" fill="#f8c20a" stroke="#7d6a35" stroke-width="0.6"/>
<path d="M171.47,386.99L174.32,381.58L168.62,381.58Z" fill="#f8c20a" stroke="#7d6a35" stroke-width="0.6"/>
<path d="M189.18,386.49L192.03,381.08L186.33,381.08Z" fill="#f8c20a" stroke="#7d6a35" stroke-width="0.6"/>
<path d="M206.89,383.49L209.74,378.08L204.04,378.08Z" fill="#f8c20a" stroke="#7d6a35" stroke-width="0.6"/>
<path d="M224.60,381.99L227.45,376.58L221.75,376.58Z" fill="#f8c20a" stroke="#7d6a35" stroke-width="0.6"/>
<path d="M242.31,380.99L245.16,375.58L239.46,375.58Z" fill="#f8c20a" stroke="#7d6a35" stroke-width="0.6"/>
<path d="M260.02,379.49L262.87,374.08L257.17,374.08Z" fill="#f8c20a" stroke="#7d6a35" stroke-width="0.6"/>
<path d="M277.73,378.49L280.58,373.08L274.88,373.08Z" fill="#f8c20a" stroke="#7d6a35" stroke-width="0.6"/>
<path d="M295.44,376.49L298.29,371.08L292.59,371.08Z" fill="#f8c20a" stroke="#7d6a35" stroke-width="0.6"/>
<path d="M47.50,401.39L50.35,395.98L44.65,395.98Z" fill="#f8c20a" stroke="#7d6a35" stroke-width="0.6"/>
<path d="M65.21,408.99L68.06,403.58L62.36,403.58Z" fill="#f8c20a" stroke="#7d6a35" stroke-width="0.6"/>
<path d="M82.92,414.29L85.77,408.88L80.07,408.88Z" fill="#f8c20a" stroke="#7d6a35" stroke-width="0.6"/>
<path d="M100.63,412.89L103.48,407.48L97.78,407.48Z" fill="#f8c20a" stroke="#7d6a35" stroke-width="0.6"/>
<path d="M136.05,402.39L138.90,396.98L133.20,396.98Z" fill="#f8c20a" stroke="#7d6a35" stroke-width="0.6"/>
<path d="M153.76,399.99L156.61,394.58L150.91,394.58Z" fill="#f8c20a" stroke="#7d6a35" stroke-width="0.6"/>
<path d="M171.47,389.49L174.32,384.08L168.62,384.08Z" fill="#f8c20a" stroke="#7d6a35" stroke-width="0.6"/>
<path d="M189.18,388.49L192.03,383.08L186.33,383.08Z" fill="#f8c20a" stroke="#7d6a35" stroke-width="0.6"/>
<path d="M206.89,385.99L209.74,380.58L204.04,380.58Z" fill="#f8c20a" stroke="#7d6a35" stroke-width="0.6"/>
<path d="M224.60,383.99L227.45,378.58L221.75,378.58Z" fill="#f8c20a" stroke="#7d6a35" stroke-width="0.6"/>
<path d="M242.31,382.99L245.16,377.58L239.46,377.58Z" fill="#f8c20a" stroke="#7d6a35" stroke-width="0.6"/>
<path d="M260.02,381.99L262.87,376.58L257.17,376.58Z" fill="#f8c20a" stroke="#7d6a35" stroke-width="0.6"/>
<path d="M277.73,381.49L280.58,376.08L274.88,376.08Z" fill="#f8c20a" stroke="#7d6a35" stroke-width="0.6"/>
<path d="M295.44,379.49L298.29,374.08L292.59,374.08Z" fill="#f8c20a" stroke="#7d6a35" stroke-width="0.6"/>
<path d="M47.50,401.39L50.35,395.98L44.65,395.98Z" fill="#f8c20a" stroke="#7d6a35" stroke-width="0.6"/>
<path d="M65.21,417.59L68.06,412.18L62.36,412.18Z" fill="#f8c20a" stroke="#7d6a35" stroke-width="0.6"/>
<path d="M82.92,419.09L85.77,413.68L80.07,413.68Z" fill="#f8c20a" stroke="#7d6a35" stroke-width="0.6"/>
<path d="M100.63,416.09L103.48,410.68L97.78,410.68Z" fill="#f8c20a" stroke="#7d6a35" stroke-width="0.6"/>
<path d="M136.05,403.99L138.90,398.58L133.20,398.58Z" fill="#f8c20a" stroke="#7d6a35" stroke-width="0.6"/>
<path d="M153.76,403.19L156.61,397.78L150.91,397.78Z" fill="#f8c20a" stroke="#7d6a35" stroke-width="0.6"/>
<path d="M171.47,390.99L174.32,385.58L168.62,385.58Z" fill="#f8c20a" stroke="#7d6a35" stroke-width="0.6"/>
<path d="M189.18,390.49L192.03,385.08L186.33,385.08Z" fill="#f8c20a" stroke="#7d6a35" stroke-width="0.6"/>
<path d="M206.89,388.49L209.74,383.08L204.04,383.08Z" fill="#f8c20a" stroke="#7d6a35" stroke-width="0.6"/>
<path d="M224.60,385.59L227.45,380.18L221.75,380.18Z" fill="#f8c20a" stroke="#7d6a35" stroke-width="0.6"/>
<path d="M242.31,384.69L245.16,379.28L239.46,379.28Z" fill="#f8c20a" stroke="#7d6a35" stroke-width="0.6"/>
<path d="M260.02,384.09L262.87,378.68L257.17,378.68Z" fill="#f8c20a" stroke="#7d6a35" stroke-width="0.6"/>
<path d="M277.73,383.69L280.58,378.28L274.88,378.28Z" fill="#f8c20a" stroke="#7d6a35" stroke-width="0.6"/>
<path d="M295.44,381.79L298.29,376.38L292.59,376.38Z" fill="#f8c20a" stroke="#7d6a35" stroke-width="0.6"/>
<line x1="117.9" y1="423.8" x2="133.6" y2="433.9" stroke="#2a2222" stroke-width="0.6"/>
<path d="M135.6,435.2L131.6,433.9L133.2,431.6Z" fill="#2a2222"/>
<text x="142.00" y="439.50" font-size="10.4" font-weight="normal" text-anchor="start" textLength="79.5" lengthAdjust="spacingAndGlyphs" >Troodos boninites</text>
<path d="M364.20,57.50L378.70,66.00L393.20,78.00L407.70,83.00L422.20,96.00L436.70,89.00L451.20,97.00L465.70,102.00L480.20,55.00L494.70,104.00L509.20,86.00L523.70,105.00L538.20,108.00L552.70,107.00L567.20,106.00L581.70,106.00L596.20,97.50L610.70,105.00L625.20,105.00L639.70,105.00L654.20,105.00L668.70,105.00" fill="none" stroke="#e4707a" stroke-width="3.2" stroke-linejoin="round"/>
<path d="M364.20,62.00L378.70,64.00L393.20,76.00L407.70,80.00L422.20,97.00L436.70,91.00L451.20,99.00L465.70,104.00L480.20,61.00L494.70,106.00L509.20,88.00L523.70,106.00L538.20,110.00L552.70,108.00L567.20,107.00L581.70,107.00L596.20,99.50L610.70,106.00L625.20,106.00L639.70,106.00L654.20,106.00L668.70,106.00" fill="none" stroke="#e4707a" stroke-width="3.2" stroke-linejoin="round"/>
<path d="M364.20,49.00L378.70,52.50L393.20,80.50L407.70,72.00L422.20,98.50L436.70,86.00L451.20,100.00L465.70,104.00L480.20,43.50L494.70,105.00L509.20,87.00L523.70,107.50L538.20,112.00L552.70,110.50L567.20,108.00L581.70,107.50L596.20,104.00L610.70,107.00L625.20,107.00L639.70,107.00L654.20,107.00L668.70,106.50" fill="none" stroke="#e8717b" stroke-width="1.8" stroke-linejoin="round"/>
<path d="M364.20,61.00L378.70,56.00L393.20,76.00L407.70,78.00L422.20,97.00L436.70,88.00L451.20,98.00L465.70,103.00L480.20,50.00L494.70,104.00L509.20,84.00L523.70,101.50L538.20,102.50L552.70,101.50L567.20,101.50L581.70,101.50L596.20,99.00L610.70,100.50L625.20,100.50L639.70,100.50L654.20,100.50L668.70,100.50" fill="none" stroke="#e8717b" stroke-width="1.8" stroke-linejoin="round"/>
<path d="M364.20,55.00L378.70,60.00L393.20,74.00L407.70,75.00L422.20,96.00L436.70,87.00L451.20,97.00L465.70,102.00L480.20,76.00L494.70,103.00L509.20,82.00L523.70,103.50L538.20,106.00L552.70,105.00L567.20,105.00L581.70,105.00L596.20,101.00L610.70,104.00L625.20,104.00L639.70,104.00L654.20,104.00L668.70,104.00" fill="none" stroke="#e8717b" stroke-width="1.8" stroke-linejoin="round"/>
<path d="M364.20,51.00L378.70,53.00L393.20,71.00L407.70,72.00L422.20,94.00L436.70,87.50L451.20,92.50L465.70,99.00L480.20,66.50L494.70,100.50L509.20,70.50L523.70,100.50L538.20,104.50L552.70,103.00L567.20,103.00L581.70,104.00L596.20,103.80L610.70,102.50L625.20,103.00L639.70,103.00L654.20,103.00L668.70,103.00" fill="none" stroke="#7c1214" stroke-width="1.8" stroke-linejoin="round"/>
<path d="M364.20,69.50L378.70,57.50L393.20,75.00L407.70,76.50L422.20,95.50L436.70,90.50L451.20,94.00L465.70,99.50L480.20,83.00L494.70,101.00L509.20,92.00L523.70,104.00L538.20,107.00L552.70,105.00L567.20,105.00L581.70,106.00L596.20,107.00L610.70,104.00L625.20,104.50L639.70,104.50L654.20,104.50L668.70,104.50" fill="none" stroke="#7c1214" stroke-width="1.8" stroke-linejoin="round"/>
<rect x="361.49" y="54.79" width="5.42" height="5.42" fill="#e0646e" stroke="#6e4046" stroke-width="0.6"/>
<rect x="375.99" y="63.29" width="5.42" height="5.42" fill="#e0646e" stroke="#6e4046" stroke-width="0.6"/>
<rect x="390.49" y="75.29" width="5.42" height="5.42" fill="#e0646e" stroke="#6e4046" stroke-width="0.6"/>
<rect x="404.99" y="80.29" width="5.42" height="5.42" fill="#e0646e" stroke="#6e4046" stroke-width="0.6"/>
<rect x="419.49" y="93.29" width="5.42" height="5.42" fill="#e0646e" stroke="#6e4046" stroke-width="0.6"/>
<rect x="433.99" y="86.29" width="5.42" height="5.42" fill="#e0646e" stroke="#6e4046" stroke-width="0.6"/>
<rect x="448.49" y="94.29" width="5.42" height="5.42" fill="#e0646e" stroke="#6e4046" stroke-width="0.6"/>
<rect x="462.99" y="99.29" width="5.42" height="5.42" fill="#e0646e" stroke="#6e4046" stroke-width="0.6"/>
<rect x="477.49" y="52.29" width="5.42" height="5.42" fill="#e0646e" stroke="#6e4046" stroke-width="0.6"/>
<rect x="491.99" y="101.29" width="5.42" height="5.42" fill="#e0646e" stroke="#6e4046" stroke-width="0.6"/>
<rect x="506.49" y="83.29" width="5.42" height="5.42" fill="#e0646e" stroke="#6e4046" stroke-width="0.6"/>
<rect x="520.99" y="102.29" width="5.42" height="5.42" fill="#e0646e" stroke="#6e4046" stroke-width="0.6"/>
<rect x="535.49" y="105.29" width="5.42" height="5.42" fill="#e0646e" stroke="#6e4046" stroke-width="0.6"/>
<rect x="549.99" y="104.29" width="5.42" height="5.42" fill="#e0646e" stroke="#6e4046" stroke-width="0.6"/>
<rect x="564.49" y="103.29" width="5.42" height="5.42" fill="#e0646e" stroke="#6e4046" stroke-width="0.6"/>
<rect x="578.99" y="103.29" width="5.42" height="5.42" fill="#e0646e" stroke="#6e4046" stroke-width="0.6"/>
<rect x="593.49" y="94.79" width="5.42" height="5.42" fill="#e0646e" stroke="#6e4046" stroke-width="0.6"/>
<rect x="607.99" y="102.29" width="5.42" height="5.42" fill="#e0646e" stroke="#6e4046" stroke-width="0.6"/>
<rect x="622.49" y="102.29" width="5.42" height="5.42" fill="#e0646e" stroke="#6e4046" stroke-width="0.6"/>
<rect x="636.99" y="102.29" width="5.42" height="5.42" fill="#e0646e" stroke="#6e4046" stroke-width="0.6"/>
<rect x="651.49" y="102.29" width="5.42" height="5.42" fill="#e0646e" stroke="#6e4046" stroke-width="0.6"/>
<rect x="665.99" y="102.29" width="5.42" height="5.42" fill="#e0646e" stroke="#6e4046" stroke-width="0.6"/>
<rect x="361.49" y="59.29" width="5.42" height="5.42" fill="#e0646e" stroke="#6e4046" stroke-width="0.6"/>
<rect x="375.99" y="61.29" width="5.42" height="5.42" fill="#e0646e" stroke="#6e4046" stroke-width="0.6"/>
<rect x="390.49" y="73.29" width="5.42" height="5.42" fill="#e0646e" stroke="#6e4046" stroke-width="0.6"/>
<rect x="404.99" y="77.29" width="5.42" height="5.42" fill="#e0646e" stroke="#6e4046" stroke-width="0.6"/>
<rect x="419.49" y="94.29" width="5.42" height="5.42" fill="#e0646e" stroke="#6e4046" stroke-width="0.6"/>
<rect x="433.99" y="88.29" width="5.42" height="5.42" fill="#e0646e" stroke="#6e4046" stroke-width="0.6"/>
<rect x="448.49" y="96.29" width="5.42" height="5.42" fill="#e0646e" stroke="#6e4046" stroke-width="0.6"/>
<rect x="462.99" y="101.29" width="5.42" height="5.42" fill="#e0646e" stroke="#6e4046" stroke-width="0.6"/>
<rect x="477.49" y="58.29" width="5.42" height="5.42" fill="#e0646e" stroke="#6e4046" stroke-width="0.6"/>
<rect x="491.99" y="103.29" width="5.42" height="5.42" fill="#e0646e" stroke="#6e4046" stroke-width="0.6"/>
<rect x="506.49" y="85.29" width="5.42" height="5.42" fill="#e0646e" stroke="#6e4046" stroke-width="0.6"/>
<rect x="520.99" y="103.29" width="5.42" height="5.42" fill="#e0646e" stroke="#6e4046" stroke-width="0.6"/>
<rect x="535.49" y="107.29" width="5.42" height="5.42" fill="#e0646e" stroke="#6e4046" stroke-width="0.6"/>
<rect x="549.99" y="105.29" width="5.42" height="5.42" fill="#e0646e" stroke="#6e4046" stroke-width="0.6"/>
<rect x="564.49" y="104.29" width="5.42" height="5.42" fill="#e0646e" stroke="#6e4046" stroke-width="0.6"/>
<rect x="578.99" y="104.29" width="5.42" height="5.42" fill="#e0646e" stroke="#6e4046" stroke-width="0.6"/>
<rect x="593.49" y="96.79" width="5.42" height="5.42" fill="#e0646e" stroke="#6e4046" stroke-width="0.6"/>
<rect x="607.99" y="103.29" width="5.42" height="5.42" fill="#e0646e" stroke="#6e4046" stroke-width="0.6"/>
<rect x="622.49" y="103.29" width="5.42" height="5.42" fill="#e0646e" stroke="#6e4046" stroke-width="0.6"/>
<rect x="636.99" y="103.29" width="5.42" height="5.42" fill="#e0646e" stroke="#6e4046" stroke-width="0.6"/>
<rect x="651.49" y="103.29" width="5.42" height="5.42" fill="#e0646e" stroke="#6e4046" stroke-width="0.6"/>
<rect x="665.99" y="103.29" width="5.42" height="5.42" fill="#e0646e" stroke="#6e4046" stroke-width="0.6"/>
<path d="M364.20,51.99L367.05,46.58L361.35,46.58Z" fill="#df5d69" stroke="#6e4046" stroke-width="0.6"/>
<path d="M378.70,55.49L381.55,50.08L375.85,50.08Z" fill="#df5d69" stroke="#6e4046" stroke-width="0.6"/>
<path d="M393.20,83.49L396.05,78.08L390.35,78.08Z" fill="#df5d69" stroke="#6e4046" stroke-width="0.6"/>
<path d="M407.70,74.99L410.55,69.58L404.85,69.58Z" fill="#df5d69" stroke="#6e4046" stroke-width="0.6"/>
<path d="M422.20,101.49L425.05,96.08L419.35,96.08Z" fill="#df5d69" stroke="#6e4046" stroke-width="0.6"/>
<path d="M436.70,88.99L439.55,83.58L433.85,83.58Z" fill="#df5d69" stroke="#6e4046" stroke-width="0.6"/>
<path d="M451.20,102.99L454.05,97.58L448.35,97.58Z" fill="#df5d69" stroke="#6e4046" stroke-width="0.6"/>
<path d="M465.70,106.99L468.55,101.58L462.85,101.58Z" fill="#df5d69" stroke="#6e4046" stroke-width="0.6"/>
<path d="M480.20,46.49L483.05,41.08L477.35,41.08Z" fill="#df5d69" stroke="#6e4046" stroke-width="0.6"/>
<path d="M494.70,107.99L497.55,102.58L491.85,102.58Z" fill="#df5d69" stroke="#6e4046" stroke-width="0.6"/>
<path d="M509.20,89.99L512.05,84.58L506.35,84.58Z" fill="#df5d69" stroke="#6e4046" stroke-width="0.6"/>
<path d="M523.70,110.49L526.55,105.08L520.85,105.08Z" fill="#df5d69" stroke="#6e4046" stroke-width="0.6"/>
<path d="M538.20,114.99L541.05,109.58L535.35,109.58Z" fill="#df5d69" stroke="#6e4046" stroke-width="0.6"/>
<path d="M552.70,113.49L555.55,108.08L549.85,108.08Z" fill="#df5d69" stroke="#6e4046" stroke-width="0.6"/>
<path d="M567.20,110.99L570.05,105.58L564.35,105.58Z" fill="#df5d69" stroke="#6e4046" stroke-width="0.6"/>
<path d="M581.70,110.49L584.55,105.08L578.85,105.08Z" fill="#df5d69" stroke="#6e4046" stroke-width="0.6"/>
<path d="M596.20,106.99L599.05,101.58L593.35,101.58Z" fill="#df5d69" stroke="#6e4046" stroke-width="0.6"/>
<path d="M610.70,109.99L613.55,104.58L607.85,104.58Z" fill="#df5d69" stroke="#6e4046" stroke-width="0.6"/>
<path d="M625.20,109.99L628.05,104.58L622.35,104.58Z" fill="#df5d69" stroke="#6e4046" stroke-width="0.6"/>
<path d="M639.70,109.99L642.55,104.58L636.85,104.58Z" fill="#df5d69" stroke="#6e4046" stroke-width="0.6"/>
<path d="M654.20,109.99L657.05,104.58L651.35,104.58Z" fill="#df5d69" stroke="#6e4046" stroke-width="0.6"/>
<path d="M668.70,109.49L671.55,104.08L665.85,104.08Z" fill="#df5d69" stroke="#6e4046" stroke-width="0.6"/>
<path d="M364.20,63.99L367.05,58.58L361.35,58.58Z" fill="#df5d69" stroke="#6e4046" stroke-width="0.6"/>
<path d="M378.70,58.99L381.55,53.58L375.85,53.58Z" fill="#df5d69" stroke="#6e4046" stroke-width="0.6"/>
<path d="M393.20,78.99L396.05,73.58L390.35,73.58Z" fill="#df5d69" stroke="#6e4046" stroke-width="0.6"/>
<path d="M407.70,80.99L410.55,75.58L404.85,75.58Z" fill="#df5d69" stroke="#6e4046" stroke-width="0.6"/>
<path d="M422.20,99.99L425.05,94.58L419.35,94.58Z" fill="#df5d69" stroke="#6e4046" stroke-width="0.6"/>
<path d="M436.70,90.99L439.55,85.58L433.85,85.58Z" fill="#df5d69" stroke="#6e4046" stroke-width="0.6"/>
<path d="M451.20,100.99L454.05,95.58L448.35,95.58Z" fill="#df5d69" stroke="#6e4046" stroke-width="0.6"/>
<path d="M465.70,105.99L468.55,100.58L462.85,100.58Z" fill="#df5d69" stroke="#6e4046" stroke-width="0.6"/>
<path d="M480.20,52.99L483.05,47.58L477.35,47.58Z" fill="#df5d69" stroke="#6e4046" stroke-width="0.6"/>
<path d="M494.70,106.99L497.55,101.58L491.85,101.58Z" fill="#df5d69" stroke="#6e4046" stroke-width="0.6"/>
<path d="M509.20,86.99L512.05,81.58L506.35,81.58Z" fill="#df5d69" stroke="#6e4046" stroke-width="0.6"/>
<path d="M523.70,104.49L526.55,99.08L520.85,99.08Z" fill="#df5d69" stroke="#6e4046" stroke-width="0.6"/>
<path d="M538.20,105.49L541.05,100.08L535.35,100.08Z" fill="#df5d69" stroke="#6e4046" stroke-width="0.6"/>
<path d="M552.70,104.49L555.55,99.08L549.85,99.08Z" fill="#df5d69" stroke="#6e4046" stroke-width="0.6"/>
<path d="M567.20,104.49L570.05,99.08L564.35,99.08Z" fill="#df5d69" stroke="#6e4046" stroke-width="0.6"/>
<path d="M581.70,104.49L584.55,99.08L578.85,99.08Z" fill="#df5d69" stroke="#6e4046" stroke-width="0.6"/>
<path d="M596.20,101.99L599.05,96.58L593.35,96.58Z" fill="#df5d69" stroke="#6e4046" stroke-width="0.6"/>
<path d="M610.70,103.49L613.55,98.08L607.85,98.08Z" fill="#df5d69" stroke="#6e4046" stroke-width="0.6"/>
<path d="M625.20,103.49L628.05,98.08L622.35,98.08Z" fill="#df5d69" stroke="#6e4046" stroke-width="0.6"/>
<path d="M639.70,103.49L642.55,98.08L636.85,98.08Z" fill="#df5d69" stroke="#6e4046" stroke-width="0.6"/>
<path d="M654.20,103.49L657.05,98.08L651.35,98.08Z" fill="#df5d69" stroke="#6e4046" stroke-width="0.6"/>
<path d="M668.70,103.49L671.55,98.08L665.85,98.08Z" fill="#df5d69" stroke="#6e4046" stroke-width="0.6"/>
<path d="M364.20,57.99L367.05,52.58L361.35,52.58Z" fill="#df5d69" stroke="#6e4046" stroke-width="0.6"/>
<path d="M378.70,62.99L381.55,57.58L375.85,57.58Z" fill="#df5d69" stroke="#6e4046" stroke-width="0.6"/>
<path d="M393.20,76.99L396.05,71.58L390.35,71.58Z" fill="#df5d69" stroke="#6e4046" stroke-width="0.6"/>
<path d="M407.70,77.99L410.55,72.58L404.85,72.58Z" fill="#df5d69" stroke="#6e4046" stroke-width="0.6"/>
<path d="M422.20,98.99L425.05,93.58L419.35,93.58Z" fill="#df5d69" stroke="#6e4046" stroke-width="0.6"/>
<path d="M436.70,89.99L439.55,84.58L433.85,84.58Z" fill="#df5d69" stroke="#6e4046" stroke-width="0.6"/>
<path d="M451.20,99.99L454.05,94.58L448.35,94.58Z" fill="#df5d69" stroke="#6e4046" stroke-width="0.6"/>
<path d="M465.70,104.99L468.55,99.58L462.85,99.58Z" fill="#df5d69" stroke="#6e4046" stroke-width="0.6"/>
<path d="M480.20,78.99L483.05,73.58L477.35,73.58Z" fill="#df5d69" stroke="#6e4046" stroke-width="0.6"/>
<path d="M494.70,105.99L497.55,100.58L491.85,100.58Z" fill="#df5d69" stroke="#6e4046" stroke-width="0.6"/>
<path d="M509.20,84.99L512.05,79.58L506.35,79.58Z" fill="#df5d69" stroke="#6e4046" stroke-width="0.6"/>
<path d="M523.70,106.49L526.55,101.08L520.85,101.08Z" fill="#df5d69" stroke="#6e4046" stroke-width="0.6"/>
<path d="M538.20,108.99L541.05,103.58L535.35,103.58Z" fill="#df5d69" stroke="#6e4046" stroke-width="0.6"/>
<path d="M552.70,107.99L555.55,102.58L549.85,102.58Z" fill="#df5d69" stroke="#6e4046" stroke-width="0.6"/>
<path d="M567.20,107.99L570.05,102.58L564.35,102.58Z" fill="#df5d69" stroke="#6e4046" stroke-width="0.6"/>
<path d="M581.70,107.99L584.55,102.58L578.85,102.58Z" fill="#df5d69" stroke="#6e4046" stroke-width="0.6"/>
<path d="M596.20,103.99L599.05,98.58L593.35,98.58Z" fill="#df5d69" stroke="#6e4046" stroke-width="0.6"/>
<path d="M610.70,106.99L613.55,101.58L607.85,101.58Z" fill="#df5d69" stroke="#6e4046" stroke-width="0.6"/>
<path d="M625.20,106.99L628.05,101.58L622.35,101.58Z" fill="#df5d69" stroke="#6e4046" stroke-width="0.6"/>
<path d="M639.70,106.99L642.55,101.58L636.85,101.58Z" fill="#df5d69" stroke="#6e4046" stroke-width="0.6"/>
<path d="M654.20,106.99L657.05,101.58L651.35,101.58Z" fill="#df5d69" stroke="#6e4046" stroke-width="0.6"/>
<path d="M668.70,106.99L671.55,101.58L665.85,101.58Z" fill="#df5d69" stroke="#6e4046" stroke-width="0.6"/>
<path d="M364.20,48.01L367.05,53.42L361.35,53.42Z" fill="#f8d4c2" stroke="#5e4a4a" stroke-width="0.6"/>
<path d="M378.70,50.01L381.55,55.42L375.85,55.42Z" fill="#f8d4c2" stroke="#5e4a4a" stroke-width="0.6"/>
<path d="M393.20,68.01L396.05,73.42L390.35,73.42Z" fill="#f8d4c2" stroke="#5e4a4a" stroke-width="0.6"/>
<path d="M407.70,69.01L410.55,74.42L404.85,74.42Z" fill="#f8d4c2" stroke="#5e4a4a" stroke-width="0.6"/>
<path d="M422.20,91.01L425.05,96.42L419.35,96.42Z" fill="#f8d4c2" stroke="#5e4a4a" stroke-width="0.6"/>
<path d="M436.70,84.51L439.55,89.92L433.85,89.92Z" fill="#f8d4c2" stroke="#5e4a4a" stroke-width="0.6"/>
<path d="M451.20,89.51L454.05,94.92L448.35,94.92Z" fill="#f8d4c2" stroke="#5e4a4a" stroke-width="0.6"/>
<path d="M465.70,96.01L468.55,101.42L462.85,101.42Z" fill="#f8d4c2" stroke="#5e4a4a" stroke-width="0.6"/>
<path d="M480.20,63.51L483.05,68.92L477.35,68.92Z" fill="#f8d4c2" stroke="#5e4a4a" stroke-width="0.6"/>
<path d="M494.70,97.51L497.55,102.92L491.85,102.92Z" fill="#f8d4c2" stroke="#5e4a4a" stroke-width="0.6"/>
<path d="M509.20,67.51L512.05,72.92L506.35,72.92Z" fill="#f8d4c2" stroke="#5e4a4a" stroke-width="0.6"/>
<path d="M523.70,97.51L526.55,102.92L520.85,102.92Z" fill="#f8d4c2" stroke="#5e4a4a" stroke-width="0.6"/>
<path d="M538.20,101.51L541.05,106.92L535.35,106.92Z" fill="#f8d4c2" stroke="#5e4a4a" stroke-width="0.6"/>
<path d="M552.70,100.01L555.55,105.42L549.85,105.42Z" fill="#f8d4c2" stroke="#5e4a4a" stroke-width="0.6"/>
<path d="M567.20,100.01L570.05,105.42L564.35,105.42Z" fill="#f8d4c2" stroke="#5e4a4a" stroke-width="0.6"/>
<path d="M581.70,101.01L584.55,106.42L578.85,106.42Z" fill="#f8d4c2" stroke="#5e4a4a" stroke-width="0.6"/>
<path d="M596.20,100.81L599.05,106.22L593.35,106.22Z" fill="#f8d4c2" stroke="#5e4a4a" stroke-width="0.6"/>
<path d="M610.70,99.51L613.55,104.92L607.85,104.92Z" fill="#f8d4c2" stroke="#5e4a4a" stroke-width="0.6"/>
<path d="M625.20,100.01L628.05,105.42L622.35,105.42Z" fill="#f8d4c2" stroke="#5e4a4a" stroke-width="0.6"/>
<path d="M639.70,100.01L642.55,105.42L636.85,105.42Z" fill="#f8d4c2" stroke="#5e4a4a" stroke-width="0.6"/>
<path d="M654.20,100.01L657.05,105.42L651.35,105.42Z" fill="#f8d4c2" stroke="#5e4a4a" stroke-width="0.6"/>
<path d="M668.70,100.01L671.55,105.42L665.85,105.42Z" fill="#f8d4c2" stroke="#5e4a4a" stroke-width="0.6"/>
<path d="M364.20,66.51L367.05,71.92L361.35,71.92Z" fill="#f8d4c2" stroke="#5e4a4a" stroke-width="0.6"/>
<path d="M378.70,54.51L381.55,59.92L375.85,59.92Z" fill="#f8d4c2" stroke="#5e4a4a" stroke-width="0.6"/>
<path d="M393.20,72.01L396.05,77.42L390.35,77.42Z" fill="#f8d4c2" stroke="#5e4a4a" stroke-width="0.6"/>
<path d="M407.70,73.51L410.55,78.92L404.85,78.92Z" fill="#f8d4c2" stroke="#5e4a4a" stroke-width="0.6"/>
<path d="M422.20,92.51L425.05,97.92L419.35,97.92Z" fill="#f8d4c2" stroke="#5e4a4a" stroke-width="0.6"/>
<path d="M436.70,87.51L439.55,92.92L433.85,92.92Z" fill="#f8d4c2" stroke="#5e4a4a" stroke-width="0.6"/>
<path d="M451.20,91.01L454.05,96.42L448.35,96.42Z" fill="#f8d4c2" stroke="#5e4a4a" stroke-width="0.6"/>
<path d="M465.70,96.51L468.55,101.92L462.85,101.92Z" fill="#f8d4c2" stroke="#5e4a4a" stroke-width="0.6"/>
<path d="M480.20,80.01L483.05,85.42L477.35,85.42Z" fill="#f8d4c2" stroke="#5e4a4a" stroke-width="0.6"/>
<path d="M494.70,98.01L497.55,103.42L491.85,103.42Z" fill="#f8d4c2" stroke="#5e4a4a" stroke-width="0.6"/>
<path d="M509.20,89.01L512.05,94.42L506.35,94.42Z" fill="#f8d4c2" stroke="#5e4a4a" stroke-width="0.6"/>
<path d="M523.70,101.01L526.55,106.42L520.85,106.42Z" fill="#f8d4c2" stroke="#5e4a4a" stroke-width="0.6"/>
<path d="M538.20,104.01L541.05,109.42L535.35,109.42Z" fill="#f8d4c2" stroke="#5e4a4a" stroke-width="0.6"/>
<path d="M552.70,102.01L555.55,107.42L549.85,107.42Z" fill="#f8d4c2" stroke="#5e4a4a" stroke-width="0.6"/>
<path d="M567.20,102.01L570.05,107.42L564.35,107.42Z" fill="#f8d4c2" stroke="#5e4a4a" stroke-width="0.6"/>
<path d="M581.70,103.01L584.55,108.42L578.85,108.42Z" fill="#f8d4c2" stroke="#5e4a4a" stroke-width="0.6"/>
<path d="M596.20,104.01L599.05,109.42L593.35,109.42Z" fill="#f8d4c2" stroke="#5e4a4a" stroke-width="0.6"/>
<path d="M610.70,101.01L613.55,106.42L607.85,106.42Z" fill="#f8d4c2" stroke="#5e4a4a" stroke-width="0.6"/>
<path d="M625.20,101.51L628.05,106.92L622.35,106.92Z" fill="#f8d4c2" stroke="#5e4a4a" stroke-width="0.6"/>
<path d="M639.70,101.51L642.55,106.92L636.85,106.92Z" fill="#f8d4c2" stroke="#5e4a4a" stroke-width="0.6"/>
<path d="M654.20,101.51L657.05,106.92L651.35,106.92Z" fill="#f8d4c2" stroke="#5e4a4a" stroke-width="0.6"/>
<path d="M668.70,101.51L671.55,106.92L665.85,106.92Z" fill="#f8d4c2" stroke="#5e4a4a" stroke-width="0.6"/>
<path d="M364.20,264.00L378.70,225.60L393.20,203.00L407.70,204.20L422.20,225.60L436.70,214.50L451.20,239.70L465.70,241.00L480.20,225.30L494.70,247.90L509.20,252.00L523.70,250.00L538.20,255.00L552.70,244.80L567.20,248.00L581.70,277.70L596.20,287.50L610.70,252.00L625.20,249.50L639.70,248.00L654.20,245.50L668.70,243.60" fill="none" stroke="#6b2278" stroke-width="1.8" stroke-linejoin="round"/>
<path d="M364.20,264.00L378.70,244.70L393.20,236.10L407.70,229.70L422.20,225.30L436.70,225.00L451.20,245.00L465.70,257.60L480.20,264.00L494.70,257.60L509.20,253.00L523.70,255.00L538.20,258.00L552.70,257.00L567.20,259.00L581.70,259.00L596.20,260.00L610.70,256.00L625.20,255.00L639.70,255.00L654.20,254.00L668.70,254.00" fill="none" stroke="#6b2278" stroke-width="1.8" stroke-linejoin="round"/>
<path d="M364.20,232.20L378.70,207.00L393.20,229.70L407.70,235.00L422.20,255.50L436.70,249.00L451.20,249.00L465.70,253.30L480.20,238.20L494.70,255.40L509.20,245.70L523.70,256.50L538.20,259.00L552.70,257.00L567.20,256.00L581.70,256.00L596.20,258.00L610.70,255.00L625.20,255.00L639.70,255.00L654.20,255.00L668.70,254.00" fill="none" stroke="#1b72bd" stroke-width="1.8" stroke-linejoin="round"/>
<path d="M364.20,249.10L378.70,224.30L393.20,238.30L407.70,238.00L422.20,257.70L436.70,252.20L451.20,256.50L465.70,259.70L480.20,252.20L494.70,260.80L509.20,250.00L523.70,260.80L538.20,263.40L552.70,260.90L567.20,259.70L581.70,258.40L596.20,260.90L610.70,257.20L625.20,257.20L639.70,257.20L654.20,257.20L668.70,256.00" fill="none" stroke="#1b72bd" stroke-width="1.8" stroke-linejoin="round"/>
<path d="M364.20,240.00L378.70,215.00L393.20,233.00L407.70,236.00L422.20,256.00L436.70,250.50L451.20,252.00L465.70,256.00L480.20,245.00L494.70,258.00L509.20,248.00L523.70,258.00L538.20,261.00L552.70,259.00L567.20,258.00L581.70,257.00L596.20,259.00L610.70,256.00L625.20,256.00L639.70,256.00L654.20,256.00L668.70,255.00" fill="none" stroke="#1b72bd" stroke-width="1.8" stroke-linejoin="round"/>
<path d="M364.20,241.50L378.70,212.40L393.20,231.80L407.70,233.00L422.20,253.00L436.70,246.00L451.20,247.00L465.70,251.00L480.20,232.00L494.70,251.00L509.20,244.00L523.70,254.00L538.20,257.00L552.70,255.00L567.20,254.00L581.70,255.00L596.20,256.00L610.70,254.00L625.20,254.00L639.70,254.00L654.20,254.00L668.70,253.50" fill="none" stroke="#1d67b0" stroke-width="1.8" stroke-linejoin="round"/>
<path d="M364.20,199.50L378.70,211.30L393.20,217.80L407.70,215.60L422.20,241.50L436.70,237.20L451.20,241.40L465.70,242.50L480.20,212.30L494.70,245.70L509.20,238.60L523.70,248.50L538.20,252.20L552.70,251.70L567.20,251.00L581.70,252.70L596.20,253.50L610.70,250.40L625.20,250.40L639.70,250.40L654.20,250.60L668.70,250.80" fill="none" stroke="#1f2a5e" stroke-width="1.8" stroke-linejoin="round"/>
<path d="M364.20,204.90L378.70,214.60L393.20,222.10L407.70,220.00L422.20,245.80L436.70,241.50L451.20,243.00L465.70,244.00L480.20,218.80L494.70,247.00L509.20,242.00L523.70,250.00L538.20,253.00L552.70,253.00L567.20,252.00L581.70,254.00L596.20,255.00L610.70,252.00L625.20,252.50L639.70,253.00L654.20,254.20L668.70,254.50" fill="none" stroke="#1f2a5e" stroke-width="1.8" stroke-linejoin="round"/>
<path d="M364.20,173.00L378.70,184.40L393.20,209.00L407.70,208.00L422.20,236.00L436.70,224.20L451.20,232.80L465.70,237.10L480.20,193.40L494.70,239.30L509.20,260.80L523.70,241.40L538.20,242.50L552.70,238.60L567.20,243.50L581.70,260.90L596.20,284.00L610.70,243.60L625.20,243.60L639.70,243.00L654.20,241.10L668.70,240.50" fill="none" stroke="#2fb2e8" stroke-width="2.1" stroke-linejoin="round"/>
<path d="M364.20,178.00L378.70,184.40L393.20,211.00L407.70,209.00L422.20,236.00L436.70,226.00L451.20,234.00L465.70,237.50L480.20,200.00L494.70,240.00L509.20,265.00L523.70,242.00L538.20,243.50L552.70,240.00L567.20,244.00L581.70,258.00L596.20,290.00L610.70,246.20L625.20,246.50L639.70,246.30L654.20,245.00L668.70,244.50" fill="none" stroke="#2fb2e8" stroke-width="2.1" stroke-linejoin="round"/>
<path d="M364.20,188.00L378.70,185.00L393.20,211.30L407.70,210.00L422.20,236.00L436.70,228.50L451.20,236.00L465.70,238.00L480.20,205.90L494.70,241.00L509.20,271.60L523.70,243.00L538.20,244.00L552.70,242.00L567.20,245.00L581.70,256.00L596.20,262.00L610.70,243.80L625.20,243.80L639.70,243.20L654.20,241.30L668.70,240.70" fill="none" stroke="#2fb2e8" stroke-width="2.1" stroke-linejoin="round"/>
<path d="M364.20,183.00L378.70,184.40L393.20,206.00L407.70,209.50L422.20,236.00L436.70,226.00L451.20,234.00L465.70,237.00L480.20,199.00L494.70,240.00L509.20,262.00L523.70,242.00L538.20,243.00L552.70,239.00L567.20,244.00L581.70,259.00L596.20,265.00L610.70,246.50L625.20,246.80L639.70,246.50L654.20,245.00L668.70,244.50" fill="none" stroke="#2fb2e8" stroke-width="2.1" stroke-linejoin="round"/>
<circle cx="364.20" cy="232.20" r="2.99" fill="#14a1de" stroke="#56666f" stroke-width="0.6"/>
<circle cx="378.70" cy="207.00" r="2.99" fill="#14a1de" stroke="#56666f" stroke-width="0.6"/>
<circle cx="393.20" cy="229.70" r="2.99" fill="#14a1de" stroke="#56666f" stroke-width="0.6"/>
<circle cx="407.70" cy="235.00" r="2.99" fill="#14a1de" stroke="#56666f" stroke-width="0.6"/>
<circle cx="422.20" cy="255.50" r="2.99" fill="#14a1de" stroke="#56666f" stroke-width="0.6"/>
<circle cx="436.70" cy="249.00" r="2.99" fill="#14a1de" stroke="#56666f" stroke-width="0.6"/>
<circle cx="451.20" cy="249.00" r="2.99" fill="#14a1de" stroke="#56666f" stroke-width="0.6"/>
<circle cx="465.70" cy="253.30" r="2.99" fill="#14a1de" stroke="#56666f" stroke-width="0.6"/>
<circle cx="480.20" cy="238.20" r="2.99" fill="#14a1de" stroke="#56666f" stroke-width="0.6"/>
<circle cx="494.70" cy="255.40" r="2.99" fill="#14a1de" stroke="#56666f" stroke-width="0.6"/>
<circle cx="509.20" cy="245.70" r="2.99" fill="#14a1de" stroke="#56666f" stroke-width="0.6"/>
<circle cx="523.70" cy="256.50" r="2.99" fill="#14a1de" stroke="#56666f" stroke-width="0.6"/>
<circle cx="538.20" cy="259.00" r="2.99" fill="#14a1de" stroke="#56666f" stroke-width="0.6"/>
<circle cx="552.70" cy="257.00" r="2.99" fill="#14a1de" stroke="#56666f" stroke-width="0.6"/>
<circle cx="567.20" cy="256.00" r="2.99" fill="#14a1de" stroke="#56666f" stroke-width="0.6"/>
<circle cx="581.70" cy="256.00" r="2.99" fill="#14a1de" stroke="#56666f" stroke-width="0.6"/>
<circle cx="596.20" cy="258.00" r="2.99" fill="#14a1de" stroke="#56666f" stroke-width="0.6"/>
<circle cx="610.70" cy="255.00" r="2.99" fill="#14a1de" stroke="#56666f" stroke-width="0.6"/>
<circle cx="625.20" cy="255.00" r="2.99" fill="#14a1de" stroke="#56666f" stroke-width="0.6"/>
<circle cx="639.70" cy="255.00" r="2.99" fill="#14a1de" stroke="#56666f" stroke-width="0.6"/>
<circle cx="654.20" cy="255.00" r="2.99" fill="#14a1de" stroke="#56666f" stroke-width="0.6"/>
<circle cx="668.70" cy="254.00" r="2.99" fill="#14a1de" stroke="#56666f" stroke-width="0.6"/>
<circle cx="364.20" cy="249.10" r="2.99" fill="#14a1de" stroke="#56666f" stroke-width="0.6"/>
<circle cx="378.70" cy="224.30" r="2.99" fill="#14a1de" stroke="#56666f" stroke-width="0.6"/>
<circle cx="393.20" cy="238.30" r="2.99" fill="#14a1de" stroke="#56666f" stroke-width="0.6"/>
<circle cx="407.70" cy="238.00" r="2.99" fill="#14a1de" stroke="#56666f" stroke-width="0.6"/>
<circle cx="422.20" cy="257.70" r="2.99" fill="#14a1de" stroke="#56666f" stroke-width="0.6"/>
<circle cx="436.70" cy="252.20" r="2.99" fill="#14a1de" stroke="#56666f" stroke-width="0.6"/>
<circle cx="451.20" cy="256.50" r="2.99" fill="#14a1de" stroke="#56666f" stroke-width="0.6"/>
<circle cx="465.70" cy="259.70" r="2.99" fill="#14a1de" stroke="#56666f" stroke-width="0.6"/>
<circle cx="480.20" cy="252.20" r="2.99" fill="#14a1de" stroke="#56666f" stroke-width="0.6"/>
<circle cx="494.70" cy="260.80" r="2.99" fill="#14a1de" stroke="#56666f" stroke-width="0.6"/>
<circle cx="509.20" cy="250.00" r="2.99" fill="#14a1de" stroke="#56666f" stroke-width="0.6"/>
<circle cx="523.70" cy="260.80" r="2.99" fill="#14a1de" stroke="#56666f" stroke-width="0.6"/>
<circle cx="538.20" cy="263.40" r="2.99" fill="#14a1de" stroke="#56666f" stroke-width="0.6"/>
<circle cx="552.70" cy="260.90" r="2.99" fill="#14a1de" stroke="#56666f" stroke-width="0.6"/>
<circle cx="567.20" cy="259.70" r="2.99" fill="#14a1de" stroke="#56666f" stroke-width="0.6"/>
<circle cx="581.70" cy="258.40" r="2.99" fill="#14a1de" stroke="#56666f" stroke-width="0.6"/>
<circle cx="596.20" cy="260.90" r="2.99" fill="#14a1de" stroke="#56666f" stroke-width="0.6"/>
<circle cx="610.70" cy="257.20" r="2.99" fill="#14a1de" stroke="#56666f" stroke-width="0.6"/>
<circle cx="625.20" cy="257.20" r="2.99" fill="#14a1de" stroke="#56666f" stroke-width="0.6"/>
<circle cx="639.70" cy="257.20" r="2.99" fill="#14a1de" stroke="#56666f" stroke-width="0.6"/>
<circle cx="654.20" cy="257.20" r="2.99" fill="#14a1de" stroke="#56666f" stroke-width="0.6"/>
<circle cx="668.70" cy="256.00" r="2.99" fill="#14a1de" stroke="#56666f" stroke-width="0.6"/>
<circle cx="364.20" cy="240.00" r="2.99" fill="#14a1de" stroke="#56666f" stroke-width="0.6"/>
<circle cx="378.70" cy="215.00" r="2.99" fill="#14a1de" stroke="#56666f" stroke-width="0.6"/>
<circle cx="393.20" cy="233.00" r="2.99" fill="#14a1de" stroke="#56666f" stroke-width="0.6"/>
<circle cx="407.70" cy="236.00" r="2.99" fill="#14a1de" stroke="#56666f" stroke-width="0.6"/>
<circle cx="422.20" cy="256.00" r="2.99" fill="#14a1de" stroke="#56666f" stroke-width="0.6"/>
<circle cx="436.70" cy="250.50" r="2.99" fill="#14a1de" stroke="#56666f" stroke-width="0.6"/>
<circle cx="451.20" cy="252.00" r="2.99" fill="#14a1de" stroke="#56666f" stroke-width="0.6"/>
<circle cx="465.70" cy="256.00" r="2.99" fill="#14a1de" stroke="#56666f" stroke-width="0.6"/>
<circle cx="480.20" cy="245.00" r="2.99" fill="#14a1de" stroke="#56666f" stroke-width="0.6"/>
<circle cx="494.70" cy="258.00" r="2.99" fill="#14a1de" stroke="#56666f" stroke-width="0.6"/>
<circle cx="509.20" cy="248.00" r="2.99" fill="#14a1de" stroke="#56666f" stroke-width="0.6"/>
<circle cx="523.70" cy="258.00" r="2.99" fill="#14a1de" stroke="#56666f" stroke-width="0.6"/>
<circle cx="538.20" cy="261.00" r="2.99" fill="#14a1de" stroke="#56666f" stroke-width="0.6"/>
<circle cx="552.70" cy="259.00" r="2.99" fill="#14a1de" stroke="#56666f" stroke-width="0.6"/>
<circle cx="567.20" cy="258.00" r="2.99" fill="#14a1de" stroke="#56666f" stroke-width="0.6"/>
<circle cx="581.70" cy="257.00" r="2.99" fill="#14a1de" stroke="#56666f" stroke-width="0.6"/>
<circle cx="596.20" cy="259.00" r="2.99" fill="#14a1de" stroke="#56666f" stroke-width="0.6"/>
<circle cx="610.70" cy="256.00" r="2.99" fill="#14a1de" stroke="#56666f" stroke-width="0.6"/>
<circle cx="625.20" cy="256.00" r="2.99" fill="#14a1de" stroke="#56666f" stroke-width="0.6"/>
<circle cx="639.70" cy="256.00" r="2.99" fill="#14a1de" stroke="#56666f" stroke-width="0.6"/>
<circle cx="654.20" cy="256.00" r="2.99" fill="#14a1de" stroke="#56666f" stroke-width="0.6"/>
<circle cx="668.70" cy="255.00" r="2.99" fill="#14a1de" stroke="#56666f" stroke-width="0.6"/>
<path d="M364.20,244.49L367.05,239.08L361.35,239.08Z" fill="#1c7cc4" stroke="#4d5f70" stroke-width="0.6"/>
<path d="M378.70,215.39L381.55,209.98L375.85,209.98Z" fill="#1c7cc4" stroke="#4d5f70" stroke-width="0.6"/>
<path d="M393.20,234.79L396.05,229.38L390.35,229.38Z" fill="#1c7cc4" stroke="#4d5f70" stroke-width="0.6"/>
<path d="M407.70,235.99L410.55,230.58L404.85,230.58Z" fill="#1c7cc4" stroke="#4d5f70" stroke-width="0.6"/>
<path d="M422.20,255.99L425.05,250.58L419.35,250.58Z" fill="#1c7cc4" stroke="#4d5f70" stroke-width="0.6"/>
<path d="M436.70,248.99L439.55,243.58L433.85,243.58Z" fill="#1c7cc4" stroke="#4d5f70" stroke-width="0.6"/>
<path d="M451.20,249.99L454.05,244.58L448.35,244.58Z" fill="#1c7cc4" stroke="#4d5f70" stroke-width="0.6"/>
<path d="M465.70,253.99L468.55,248.58L462.85,248.58Z" fill="#1c7cc4" stroke="#4d5f70" stroke-width="0.6"/>
<path d="M480.20,234.99L483.05,229.58L477.35,229.58Z" fill="#1c7cc4" stroke="#4d5f70" stroke-width="0.6"/>
<path d="M494.70,253.99L497.55,248.58L491.85,248.58Z" fill="#1c7cc4" stroke="#4d5f70" stroke-width="0.6"/>
<path d="M509.20,246.99L512.05,241.58L506.35,241.58Z" fill="#1c7cc4" stroke="#4d5f70" stroke-width="0.6"/>
<path d="M523.70,256.99L526.55,251.58L520.85,251.58Z" fill="#1c7cc4" stroke="#4d5f70" stroke-width="0.6"/>
<path d="M538.20,259.99L541.05,254.58L535.35,254.58Z" fill="#1c7cc4" stroke="#4d5f70" stroke-width="0.6"/>
<path d="M552.70,257.99L555.55,252.58L549.85,252.58Z" fill="#1c7cc4" stroke="#4d5f70" stroke-width="0.6"/>
<path d="M567.20,256.99L570.05,251.58L564.35,251.58Z" fill="#1c7cc4" stroke="#4d5f70" stroke-width="0.6"/>
<path d="M581.70,257.99L584.55,252.58L578.85,252.58Z" fill="#1c7cc4" stroke="#4d5f70" stroke-width="0.6"/>
<path d="M596.20,258.99L599.05,253.58L593.35,253.58Z" fill="#1c7cc4" stroke="#4d5f70" stroke-width="0.6"/>
<path d="M610.70,256.99L613.55,251.58L607.85,251.58Z" fill="#1c7cc4" stroke="#4d5f70" stroke-width="0.6"/>
<path d="M625.20,256.99L628.05,251.58L622.35,251.58Z" fill="#1c7cc4" stroke="#4d5f70" stroke-width="0.6"/>
<path d="M639.70,256.99L642.55,251.58L636.85,251.58Z" fill="#1c7cc4" stroke="#4d5f70" stroke-width="0.6"/>
<path d="M654.20,256.99L657.05,251.58L651.35,251.58Z" fill="#1c7cc4" stroke="#4d5f70" stroke-width="0.6"/>
<path d="M668.70,256.49L671.55,251.08L665.85,251.08Z" fill="#1c7cc4" stroke="#4d5f70" stroke-width="0.6"/>
<path d="M364.20,196.51L367.05,201.92L361.35,201.92Z" fill="#a9d7ea" stroke="#66727c" stroke-width="0.6"/>
<path d="M378.70,208.31L381.55,213.72L375.85,213.72Z" fill="#a9d7ea" stroke="#66727c" stroke-width="0.6"/>
<path d="M393.20,214.81L396.05,220.22L390.35,220.22Z" fill="#a9d7ea" stroke="#66727c" stroke-width="0.6"/>
<path d="M407.70,212.61L410.55,218.02L404.85,218.02Z" fill="#a9d7ea" stroke="#66727c" stroke-width="0.6"/>
<path d="M422.20,238.51L425.05,243.92L419.35,243.92Z" fill="#a9d7ea" stroke="#66727c" stroke-width="0.6"/>
<path d="M436.70,234.21L439.55,239.62L433.85,239.62Z" fill="#a9d7ea" stroke="#66727c" stroke-width="0.6"/>
<path d="M451.20,238.41L454.05,243.82L448.35,243.82Z" fill="#a9d7ea" stroke="#66727c" stroke-width="0.6"/>
<path d="M465.70,239.51L468.55,244.92L462.85,244.92Z" fill="#a9d7ea" stroke="#66727c" stroke-width="0.6"/>
<path d="M480.20,209.31L483.05,214.72L477.35,214.72Z" fill="#a9d7ea" stroke="#66727c" stroke-width="0.6"/>
<path d="M494.70,242.71L497.55,248.12L491.85,248.12Z" fill="#a9d7ea" stroke="#66727c" stroke-width="0.6"/>
<path d="M509.20,235.61L512.05,241.02L506.35,241.02Z" fill="#a9d7ea" stroke="#66727c" stroke-width="0.6"/>
<path d="M523.70,245.51L526.55,250.92L520.85,250.92Z" fill="#a9d7ea" stroke="#66727c" stroke-width="0.6"/>
<path d="M538.20,249.21L541.05,254.62L535.35,254.62Z" fill="#a9d7ea" stroke="#66727c" stroke-width="0.6"/>
<path d="M552.70,248.71L555.55,254.12L549.85,254.12Z" fill="#a9d7ea" stroke="#66727c" stroke-width="0.6"/>
<path d="M567.20,248.01L570.05,253.42L564.35,253.42Z" fill="#a9d7ea" stroke="#66727c" stroke-width="0.6"/>
<path d="M581.70,249.71L584.55,255.12L578.85,255.12Z" fill="#a9d7ea" stroke="#66727c" stroke-width="0.6"/>
<path d="M596.20,250.51L599.05,255.92L593.35,255.92Z" fill="#a9d7ea" stroke="#66727c" stroke-width="0.6"/>
<path d="M610.70,247.41L613.55,252.82L607.85,252.82Z" fill="#a9d7ea" stroke="#66727c" stroke-width="0.6"/>
<path d="M625.20,247.41L628.05,252.82L622.35,252.82Z" fill="#a9d7ea" stroke="#66727c" stroke-width="0.6"/>
<path d="M639.70,247.41L642.55,252.82L636.85,252.82Z" fill="#a9d7ea" stroke="#66727c" stroke-width="0.6"/>
<path d="M654.20,247.61L657.05,253.02L651.35,253.02Z" fill="#a9d7ea" stroke="#66727c" stroke-width="0.6"/>
<path d="M668.70,247.81L671.55,253.22L665.85,253.22Z" fill="#a9d7ea" stroke="#66727c" stroke-width="0.6"/>
<path d="M364.20,201.91L367.05,207.32L361.35,207.32Z" fill="#a9d7ea" stroke="#66727c" stroke-width="0.6"/>
<path d="M378.70,211.61L381.55,217.02L375.85,217.02Z" fill="#a9d7ea" stroke="#66727c" stroke-width="0.6"/>
<path d="M393.20,219.11L396.05,224.52L390.35,224.52Z" fill="#a9d7ea" stroke="#66727c" stroke-width="0.6"/>
<path d="M407.70,217.01L410.55,222.42L404.85,222.42Z" fill="#a9d7ea" stroke="#66727c" stroke-width="0.6"/>
<path d="M422.20,242.81L425.05,248.22L419.35,248.22Z" fill="#a9d7ea" stroke="#66727c" stroke-width="0.6"/>
<path d="M436.70,238.51L439.55,243.92L433.85,243.92Z" fill="#a9d7ea" stroke="#66727c" stroke-width="0.6"/>
<path d="M451.20,240.01L454.05,245.42L448.35,245.42Z" fill="#a9d7ea" stroke="#66727c" stroke-width="0.6"/>
<path d="M465.70,241.01L468.55,246.42L462.85,246.42Z" fill="#a9d7ea" stroke="#66727c" stroke-width="0.6"/>
<path d="M480.20,215.81L483.05,221.22L477.35,221.22Z" fill="#a9d7ea" stroke="#66727c" stroke-width="0.6"/>
<path d="M494.70,244.01L497.55,249.42L491.85,249.42Z" fill="#a9d7ea" stroke="#66727c" stroke-width="0.6"/>
<path d="M509.20,239.01L512.05,244.42L506.35,244.42Z" fill="#a9d7ea" stroke="#66727c" stroke-width="0.6"/>
<path d="M523.70,247.01L526.55,252.42L520.85,252.42Z" fill="#a9d7ea" stroke="#66727c" stroke-width="0.6"/>
<path d="M538.20,250.01L541.05,255.42L535.35,255.42Z" fill="#a9d7ea" stroke="#66727c" stroke-width="0.6"/>
<path d="M552.70,250.01L555.55,255.42L549.85,255.42Z" fill="#a9d7ea" stroke="#66727c" stroke-width="0.6"/>
<path d="M567.20,249.01L570.05,254.42L564.35,254.42Z" fill="#a9d7ea" stroke="#66727c" stroke-width="0.6"/>
<path d="M581.70,251.01L584.55,256.42L578.85,256.42Z" fill="#a9d7ea" stroke="#66727c" stroke-width="0.6"/>
<path d="M596.20,252.01L599.05,257.42L593.35,257.42Z" fill="#a9d7ea" stroke="#66727c" stroke-width="0.6"/>
<path d="M610.70,249.01L613.55,254.42L607.85,254.42Z" fill="#a9d7ea" stroke="#66727c" stroke-width="0.6"/>
<path d="M625.20,249.51L628.05,254.92L622.35,254.92Z" fill="#a9d7ea" stroke="#66727c" stroke-width="0.6"/>
<path d="M639.70,250.01L642.55,255.42L636.85,255.42Z" fill="#a9d7ea" stroke="#66727c" stroke-width="0.6"/>
<path d="M654.20,251.21L657.05,256.62L651.35,256.62Z" fill="#a9d7ea" stroke="#66727c" stroke-width="0.6"/>
<path d="M668.70,251.51L671.55,256.92L665.85,256.92Z" fill="#a9d7ea" stroke="#66727c" stroke-width="0.6"/>
<rect x="361.49" y="170.29" width="5.42" height="5.42" fill="#18a8e2" stroke="#5a6a72" stroke-width="0.6"/>
<rect x="375.99" y="181.69" width="5.42" height="5.42" fill="#18a8e2" stroke="#5a6a72" stroke-width="0.6"/>
<rect x="390.49" y="206.29" width="5.42" height="5.42" fill="#18a8e2" stroke="#5a6a72" stroke-width="0.6"/>
<rect x="404.99" y="205.29" width="5.42" height="5.42" fill="#18a8e2" stroke="#5a6a72" stroke-width="0.6"/>
<rect x="419.49" y="233.29" width="5.42" height="5.42" fill="#18a8e2" stroke="#5a6a72" stroke-width="0.6"/>
<rect x="433.99" y="221.49" width="5.42" height="5.42" fill="#18a8e2" stroke="#5a6a72" stroke-width="0.6"/>
<rect x="448.49" y="230.09" width="5.42" height="5.42" fill="#18a8e2" stroke="#5a6a72" stroke-width="0.6"/>
<rect x="462.99" y="234.39" width="5.42" height="5.42" fill="#18a8e2" stroke="#5a6a72" stroke-width="0.6"/>
<rect x="477.49" y="190.69" width="5.42" height="5.42" fill="#18a8e2" stroke="#5a6a72" stroke-width="0.6"/>
<rect x="491.99" y="236.59" width="5.42" height="5.42" fill="#18a8e2" stroke="#5a6a72" stroke-width="0.6"/>
<rect x="506.49" y="258.09" width="5.42" height="5.42" fill="#18a8e2" stroke="#5a6a72" stroke-width="0.6"/>
<rect x="520.99" y="238.69" width="5.42" height="5.42" fill="#18a8e2" stroke="#5a6a72" stroke-width="0.6"/>
<rect x="535.49" y="239.79" width="5.42" height="5.42" fill="#18a8e2" stroke="#5a6a72" stroke-width="0.6"/>
<rect x="549.99" y="235.89" width="5.42" height="5.42" fill="#18a8e2" stroke="#5a6a72" stroke-width="0.6"/>
<rect x="564.49" y="240.79" width="5.42" height="5.42" fill="#18a8e2" stroke="#5a6a72" stroke-width="0.6"/>
<rect x="578.99" y="258.19" width="5.42" height="5.42" fill="#18a8e2" stroke="#5a6a72" stroke-width="0.6"/>
<rect x="593.49" y="281.29" width="5.42" height="5.42" fill="#18a8e2" stroke="#5a6a72" stroke-width="0.6"/>
<rect x="607.99" y="240.89" width="5.42" height="5.42" fill="#18a8e2" stroke="#5a6a72" stroke-width="0.6"/>
<rect x="622.49" y="240.89" width="5.42" height="5.42" fill="#18a8e2" stroke="#5a6a72" stroke-width="0.6"/>
<rect x="636.99" y="240.29" width="5.42" height="5.42" fill="#18a8e2" stroke="#5a6a72" stroke-width="0.6"/>
<rect x="651.49" y="238.39" width="5.42" height="5.42" fill="#18a8e2" stroke="#5a6a72" stroke-width="0.6"/>
<rect x="665.99" y="237.79" width="5.42" height="5.42" fill="#18a8e2" stroke="#5a6a72" stroke-width="0.6"/>
<rect x="361.49" y="175.29" width="5.42" height="5.42" fill="#18a8e2" stroke="#5a6a72" stroke-width="0.6"/>
<rect x="375.99" y="181.69" width="5.42" height="5.42" fill="#18a8e2" stroke="#5a6a72" stroke-width="0.6"/>
<rect x="390.49" y="208.29" width="5.42" height="5.42" fill="#18a8e2" stroke="#5a6a72" stroke-width="0.6"/>
<rect x="404.99" y="206.29" width="5.42" height="5.42" fill="#18a8e2" stroke="#5a6a72" stroke-width="0.6"/>
<rect x="419.49" y="233.29" width="5.42" height="5.42" fill="#18a8e2" stroke="#5a6a72" stroke-width="0.6"/>
<rect x="433.99" y="223.29" width="5.42" height="5.42" fill="#18a8e2" stroke="#5a6a72" stroke-width="0.6"/>
<rect x="448.49" y="231.29" width="5.42" height="5.42" fill="#18a8e2" stroke="#5a6a72" stroke-width="0.6"/>
<rect x="462.99" y="234.79" width="5.42" height="5.42" fill="#18a8e2" stroke="#5a6a72" stroke-width="0.6"/>
<rect x="477.49" y="197.29" width="5.42" height="5.42" fill="#18a8e2" stroke="#5a6a72" stroke-width="0.6"/>
<rect x="491.99" y="237.29" width="5.42" height="5.42" fill="#18a8e2" stroke="#5a6a72" stroke-width="0.6"/>
<rect x="506.49" y="262.29" width="5.42" height="5.42" fill="#18a8e2" stroke="#5a6a72" stroke-width="0.6"/>
<rect x="520.99" y="239.29" width="5.42" height="5.42" fill="#18a8e2" stroke="#5a6a72" stroke-width="0.6"/>
<rect x="535.49" y="240.79" width="5.42" height="5.42" fill="#18a8e2" stroke="#5a6a72" stroke-width="0.6"/>
<rect x="549.99" y="237.29" width="5.42" height="5.42" fill="#18a8e2" stroke="#5a6a72" stroke-width="0.6"/>
<rect x="564.49" y="241.29" width="5.42" height="5.42" fill="#18a8e2" stroke="#5a6a72" stroke-width="0.6"/>
<rect x="578.99" y="255.29" width="5.42" height="5.42" fill="#18a8e2" stroke="#5a6a72" stroke-width="0.6"/>
<rect x="593.49" y="287.29" width="5.42" height="5.42" fill="#18a8e2" stroke="#5a6a72" stroke-width="0.6"/>
<rect x="607.99" y="243.49" width="5.42" height="5.42" fill="#18a8e2" stroke="#5a6a72" stroke-width="0.6"/>
<rect x="622.49" y="243.79" width="5.42" height="5.42" fill="#18a8e2" stroke="#5a6a72" stroke-width="0.6"/>
<rect x="636.99" y="243.59" width="5.42" height="5.42" fill="#18a8e2" stroke="#5a6a72" stroke-width="0.6"/>
<rect x="651.49" y="242.29" width="5.42" height="5.42" fill="#18a8e2" stroke="#5a6a72" stroke-width="0.6"/>
<rect x="665.99" y="241.79" width="5.42" height="5.42" fill="#18a8e2" stroke="#5a6a72" stroke-width="0.6"/>
<rect x="361.49" y="185.29" width="5.42" height="5.42" fill="#18a8e2" stroke="#5a6a72" stroke-width="0.6"/>
<rect x="375.99" y="182.29" width="5.42" height="5.42" fill="#18a8e2" stroke="#5a6a72" stroke-width="0.6"/>
<rect x="390.49" y="208.59" width="5.42" height="5.42" fill="#18a8e2" stroke="#5a6a72" stroke-width="0.6"/>
<rect x="404.99" y="207.29" width="5.42" height="5.42" fill="#18a8e2" stroke="#5a6a72" stroke-width="0.6"/>
<rect x="419.49" y="233.29" width="5.42" height="5.42" fill="#18a8e2" stroke="#5a6a72" stroke-width="0.6"/>
<rect x="433.99" y="225.79" width="5.42" height="5.42" fill="#18a8e2" stroke="#5a6a72" stroke-width="0.6"/>
<rect x="448.49" y="233.29" width="5.42" height="5.42" fill="#18a8e2" stroke="#5a6a72" stroke-width="0.6"/>
<rect x="462.99" y="235.29" width="5.42" height="5.42" fill="#18a8e2" stroke="#5a6a72" stroke-width="0.6"/>
<rect x="477.49" y="203.19" width="5.42" height="5.42" fill="#18a8e2" stroke="#5a6a72" stroke-width="0.6"/>
<rect x="491.99" y="238.29" width="5.42" height="5.42" fill="#18a8e2" stroke="#5a6a72" stroke-width="0.6"/>
<rect x="506.49" y="268.89" width="5.42" height="5.42" fill="#18a8e2" stroke="#5a6a72" stroke-width="0.6"/>
<rect x="520.99" y="240.29" width="5.42" height="5.42" fill="#18a8e2" stroke="#5a6a72" stroke-width="0.6"/>
<rect x="535.49" y="241.29" width="5.42" height="5.42" fill="#18a8e2" stroke="#5a6a72" stroke-width="0.6"/>
<rect x="549.99" y="239.29" width="5.42" height="5.42" fill="#18a8e2" stroke="#5a6a72" stroke-width="0.6"/>
<rect x="564.49" y="242.29" width="5.42" height="5.42" fill="#18a8e2" stroke="#5a6a72" stroke-width="0.6"/>
<rect x="578.99" y="253.29" width="5.42" height="5.42" fill="#18a8e2" stroke="#5a6a72" stroke-width="0.6"/>
<rect x="593.49" y="259.29" width="5.42" height="5.42" fill="#18a8e2" stroke="#5a6a72" stroke-width="0.6"/>
<rect x="607.99" y="241.09" width="5.42" height="5.42" fill="#18a8e2" stroke="#5a6a72" stroke-width="0.6"/>
<rect x="622.49" y="241.09" width="5.42" height="5.42" fill="#18a8e2" stroke="#5a6a72" stroke-width="0.6"/>
<rect x="636.99" y="240.49" width="5.42" height="5.42" fill="#18a8e2" stroke="#5a6a72" stroke-width="0.6"/>
<rect x="651.49" y="238.59" width="5.42" height="5.42" fill="#18a8e2" stroke="#5a6a72" stroke-width="0.6"/>
<rect x="665.99" y="237.99" width="5.42" height="5.42" fill="#18a8e2" stroke="#5a6a72" stroke-width="0.6"/>
<rect x="361.49" y="180.29" width="5.42" height="5.42" fill="#18a8e2" stroke="#5a6a72" stroke-width="0.6"/>
<rect x="375.99" y="181.69" width="5.42" height="5.42" fill="#18a8e2" stroke="#5a6a72" stroke-width="0.6"/>
<rect x="390.49" y="203.29" width="5.42" height="5.42" fill="#18a8e2" stroke="#5a6a72" stroke-width="0.6"/>
<rect x="404.99" y="206.79" width="5.42" height="5.42" fill="#18a8e2" stroke="#5a6a72" stroke-width="0.6"/>
<rect x="419.49" y="233.29" width="5.42" height="5.42" fill="#18a8e2" stroke="#5a6a72" stroke-width="0.6"/>
<rect x="433.99" y="223.29" width="5.42" height="5.42" fill="#18a8e2" stroke="#5a6a72" stroke-width="0.6"/>
<rect x="448.49" y="231.29" width="5.42" height="5.42" fill="#18a8e2" stroke="#5a6a72" stroke-width="0.6"/>
<rect x="462.99" y="234.29" width="5.42" height="5.42" fill="#18a8e2" stroke="#5a6a72" stroke-width="0.6"/>
<rect x="477.49" y="196.29" width="5.42" height="5.42" fill="#18a8e2" stroke="#5a6a72" stroke-width="0.6"/>
<rect x="491.99" y="237.29" width="5.42" height="5.42" fill="#18a8e2" stroke="#5a6a72" stroke-width="0.6"/>
<rect x="506.49" y="259.29" width="5.42" height="5.42" fill="#18a8e2" stroke="#5a6a72" stroke-width="0.6"/>
<rect x="520.99" y="239.29" width="5.42" height="5.42" fill="#18a8e2" stroke="#5a6a72" stroke-width="0.6"/>
<rect x="535.49" y="240.29" width="5.42" height="5.42" fill="#18a8e2" stroke="#5a6a72" stroke-width="0.6"/>
<rect x="549.99" y="236.29" width="5.42" height="5.42" fill="#18a8e2" stroke="#5a6a72" stroke-width="0.6"/>
<rect x="564.49" y="241.29" width="5.42" height="5.42" fill="#18a8e2" stroke="#5a6a72" stroke-width="0.6"/>
<rect x="578.99" y="256.29" width="5.42" height="5.42" fill="#18a8e2" stroke="#5a6a72" stroke-width="0.6"/>
<rect x="593.49" y="262.29" width="5.42" height="5.42" fill="#18a8e2" stroke="#5a6a72" stroke-width="0.6"/>
<rect x="607.99" y="243.79" width="5.42" height="5.42" fill="#18a8e2" stroke="#5a6a72" stroke-width="0.6"/>
<rect x="622.49" y="244.09" width="5.42" height="5.42" fill="#18a8e2" stroke="#5a6a72" stroke-width="0.6"/>
<rect x="636.99" y="243.79" width="5.42" height="5.42" fill="#18a8e2" stroke="#5a6a72" stroke-width="0.6"/>
<rect x="651.49" y="242.29" width="5.42" height="5.42" fill="#18a8e2" stroke="#5a6a72" stroke-width="0.6"/>
<rect x="665.99" y="241.79" width="5.42" height="5.42" fill="#18a8e2" stroke="#5a6a72" stroke-width="0.6"/>
<path d="M364.20,362.40L378.70,368.00L393.20,388.00L407.70,392.00L422.20,397.00L436.70,395.00L451.20,405.00L465.70,410.00L480.20,379.60L494.70,416.00L509.20,421.40L523.70,416.00L538.20,421.00L552.70,418.00L567.20,418.00L581.70,417.00L596.20,417.00L610.70,414.00L625.20,413.00L639.70,411.00L654.20,409.00L668.70,408.00L668.70,422.00L654.20,423.00L639.70,425.00L625.20,427.00L610.70,428.00L596.20,430.00L581.70,431.00L567.20,433.00L552.70,433.00L538.20,437.00L523.70,434.00L509.20,429.00L494.70,432.80L480.20,422.00L465.70,428.00L451.20,421.90L436.70,418.00L422.20,416.00L407.70,409.30L393.20,402.50L378.70,389.00L364.20,380.20Z" fill="#c9c9c9" stroke="none"/>
<path d="M364.20,380.00L378.70,365.10L393.20,400.50L407.70,398.60L422.20,405.80L436.70,402.00L451.20,422.80L465.70,422.80L480.20,393.20L494.70,430.50L509.20,401.00L523.70,429.60L538.20,433.30L552.70,427.10L567.20,425.90L581.70,424.20L596.20,425.90L610.70,421.00L625.20,419.70L639.70,417.20L654.20,414.70L668.70,413.50" fill="none" stroke="#f8c30e" stroke-width="1.9" stroke-linejoin="round"/>
<path d="M364.20,405.80L378.70,391.40L393.20,409.30L407.70,405.40L422.20,407.00L436.70,404.40L451.20,424.80L465.70,430.60L480.20,404.50L494.70,435.00L509.20,404.00L523.70,435.80L538.20,439.00L552.70,432.10L567.20,432.10L581.70,429.60L596.20,427.10L610.70,426.60L625.20,425.20L639.70,422.70L654.20,419.70L668.70,419.00" fill="none" stroke="#f8c30e" stroke-width="1.9" stroke-linejoin="round"/>
<path d="M364.20,385.00L378.70,372.00L393.20,380.20L407.70,378.60L422.20,389.90L436.70,388.00L451.20,404.50L465.70,413.50L480.20,400.00L494.70,419.20L509.20,409.50L523.70,418.50L538.20,419.70L552.70,414.70L567.20,412.80L581.70,409.30L596.20,411.80L610.70,406.80L625.20,406.60L639.70,405.30L654.20,405.60L668.70,405.60" fill="none" stroke="#f8c30e" stroke-width="1.9" stroke-linejoin="round"/>
<path d="M364.20,379.20L378.70,367.60L393.20,387.00L407.70,385.00L422.20,394.70L436.70,393.80L451.20,406.00L465.70,413.10L480.20,373.50L494.70,420.00L509.20,406.70L523.70,421.00L538.20,423.40L552.70,419.70L567.20,419.20L581.70,418.50L596.20,419.20L610.70,414.20L625.20,413.50L639.70,411.00L654.20,409.30L668.70,408.50" fill="none" stroke="#707e22" stroke-width="2.2" stroke-linejoin="round"/>
<path d="M364.20,382.10L378.70,374.40L393.20,393.80L407.70,390.90L422.20,400.00L436.70,398.00L451.20,410.20L465.70,417.00L480.20,380.00L494.70,424.00L509.20,409.00L523.70,422.50L538.20,425.00L552.70,421.00L567.20,420.50L581.70,420.00L596.20,420.50L610.70,415.50L625.20,414.50L639.70,412.00L654.20,410.50L668.70,409.50" fill="none" stroke="#707e22" stroke-width="2.2" stroke-linejoin="round"/>
<path d="M364.20,400.50L378.70,380.20L393.20,407.30L407.70,405.40L422.20,404.40L436.70,400.50L451.20,415.10L465.70,420.00L480.20,418.00L494.70,428.00L509.20,411.30L523.70,424.80L538.20,426.00L552.70,422.00L567.20,421.50L581.70,421.00L596.20,421.50L610.70,417.00L625.20,416.00L639.70,413.50L654.20,412.00L668.70,411.00" fill="none" stroke="#707e22" stroke-width="2.2" stroke-linejoin="round"/>
<circle cx="364.20" cy="380.00" r="2.99" fill="#f8c20a" stroke="#7d6a35" stroke-width="0.6"/>
<circle cx="378.70" cy="365.10" r="2.99" fill="#f8c20a" stroke="#7d6a35" stroke-width="0.6"/>
<circle cx="393.20" cy="400.50" r="2.99" fill="#f8c20a" stroke="#7d6a35" stroke-width="0.6"/>
<circle cx="407.70" cy="398.60" r="2.99" fill="#f8c20a" stroke="#7d6a35" stroke-width="0.6"/>
<circle cx="422.20" cy="405.80" r="2.99" fill="#f8c20a" stroke="#7d6a35" stroke-width="0.6"/>
<circle cx="436.70" cy="402.00" r="2.99" fill="#f8c20a" stroke="#7d6a35" stroke-width="0.6"/>
<circle cx="451.20" cy="422.80" r="2.99" fill="#f8c20a" stroke="#7d6a35" stroke-width="0.6"/>
<circle cx="465.70" cy="422.80" r="2.99" fill="#f8c20a" stroke="#7d6a35" stroke-width="0.6"/>
<circle cx="480.20" cy="393.20" r="2.99" fill="#f8c20a" stroke="#7d6a35" stroke-width="0.6"/>
<circle cx="494.70" cy="430.50" r="2.99" fill="#f8c20a" stroke="#7d6a35" stroke-width="0.6"/>
<circle cx="509.20" cy="401.00" r="2.99" fill="#f8c20a" stroke="#7d6a35" stroke-width="0.6"/>
<circle cx="523.70" cy="429.60" r="2.99" fill="#f8c20a" stroke="#7d6a35" stroke-width="0.6"/>
<circle cx="538.20" cy="433.30" r="2.99" fill="#f8c20a" stroke="#7d6a35" stroke-width="0.6"/>
<circle cx="552.70" cy="427.10" r="2.99" fill="#f8c20a" stroke="#7d6a35" stroke-width="0.6"/>
<circle cx="567.20" cy="425.90" r="2.99" fill="#f8c20a" stroke="#7d6a35" stroke-width="0.6"/>
<circle cx="581.70" cy="424.20" r="2.99" fill="#f8c20a" stroke="#7d6a35" stroke-width="0.6"/>
<circle cx="596.20" cy="425.90" r="2.99" fill="#f8c20a" stroke="#7d6a35" stroke-width="0.6"/>
<circle cx="610.70" cy="421.00" r="2.99" fill="#f8c20a" stroke="#7d6a35" stroke-width="0.6"/>
<circle cx="625.20" cy="419.70" r="2.99" fill="#f8c20a" stroke="#7d6a35" stroke-width="0.6"/>
<circle cx="639.70" cy="417.20" r="2.99" fill="#f8c20a" stroke="#7d6a35" stroke-width="0.6"/>
<circle cx="654.20" cy="414.70" r="2.99" fill="#f8c20a" stroke="#7d6a35" stroke-width="0.6"/>
<circle cx="668.70" cy="413.50" r="2.99" fill="#f8c20a" stroke="#7d6a35" stroke-width="0.6"/>
<circle cx="364.20" cy="405.80" r="2.99" fill="#f8c20a" stroke="#7d6a35" stroke-width="0.6"/>
<circle cx="378.70" cy="391.40" r="2.99" fill="#f8c20a" stroke="#7d6a35" stroke-width="0.6"/>
<circle cx="393.20" cy="409.30" r="2.99" fill="#f8c20a" stroke="#7d6a35" stroke-width="0.6"/>
<circle cx="407.70" cy="405.40" r="2.99" fill="#f8c20a" stroke="#7d6a35" stroke-width="0.6"/>
<circle cx="422.20" cy="407.00" r="2.99" fill="#f8c20a" stroke="#7d6a35" stroke-width="0.6"/>
<circle cx="436.70" cy="404.40" r="2.99" fill="#f8c20a" stroke="#7d6a35" stroke-width="0.6"/>
<circle cx="451.20" cy="424.80" r="2.99" fill="#f8c20a" stroke="#7d6a35" stroke-width="0.6"/>
<circle cx="465.70" cy="430.60" r="2.99" fill="#f8c20a" stroke="#7d6a35" stroke-width="0.6"/>
<circle cx="480.20" cy="404.50" r="2.99" fill="#f8c20a" stroke="#7d6a35" stroke-width="0.6"/>
<circle cx="494.70" cy="435.00" r="2.99" fill="#f8c20a" stroke="#7d6a35" stroke-width="0.6"/>
<circle cx="509.20" cy="404.00" r="2.99" fill="#f8c20a" stroke="#7d6a35" stroke-width="0.6"/>
<circle cx="523.70" cy="435.80" r="2.99" fill="#f8c20a" stroke="#7d6a35" stroke-width="0.6"/>
<circle cx="538.20" cy="439.00" r="2.99" fill="#f8c20a" stroke="#7d6a35" stroke-width="0.6"/>
<circle cx="552.70" cy="432.10" r="2.99" fill="#f8c20a" stroke="#7d6a35" stroke-width="0.6"/>
<circle cx="567.20" cy="432.10" r="2.99" fill="#f8c20a" stroke="#7d6a35" stroke-width="0.6"/>
<circle cx="581.70" cy="429.60" r="2.99" fill="#f8c20a" stroke="#7d6a35" stroke-width="0.6"/>
<circle cx="596.20" cy="427.10" r="2.99" fill="#f8c20a" stroke="#7d6a35" stroke-width="0.6"/>
<circle cx="610.70" cy="426.60" r="2.99" fill="#f8c20a" stroke="#7d6a35" stroke-width="0.6"/>
<circle cx="625.20" cy="425.20" r="2.99" fill="#f8c20a" stroke="#7d6a35" stroke-width="0.6"/>
<circle cx="639.70" cy="422.70" r="2.99" fill="#f8c20a" stroke="#7d6a35" stroke-width="0.6"/>
<circle cx="654.20" cy="419.70" r="2.99" fill="#f8c20a" stroke="#7d6a35" stroke-width="0.6"/>
<circle cx="668.70" cy="419.00" r="2.99" fill="#f8c20a" stroke="#7d6a35" stroke-width="0.6"/>
<rect x="361.49" y="382.29" width="5.42" height="5.42" fill="#f8c20a" stroke="#7d6a35" stroke-width="0.6"/>
<rect x="375.99" y="369.29" width="5.42" height="5.42" fill="#f8c20a" stroke="#7d6a35" stroke-width="0.6"/>
<rect x="390.49" y="377.49" width="5.42" height="5.42" fill="#f8c20a" stroke="#7d6a35" stroke-width="0.6"/>
<rect x="404.99" y="375.89" width="5.42" height="5.42" fill="#f8c20a" stroke="#7d6a35" stroke-width="0.6"/>
<rect x="419.49" y="387.19" width="5.42" height="5.42" fill="#f8c20a" stroke="#7d6a35" stroke-width="0.6"/>
<rect x="433.99" y="385.29" width="5.42" height="5.42" fill="#f8c20a" stroke="#7d6a35" stroke-width="0.6"/>
<rect x="448.49" y="401.79" width="5.42" height="5.42" fill="#f8c20a" stroke="#7d6a35" stroke-width="0.6"/>
<rect x="462.99" y="410.79" width="5.42" height="5.42" fill="#f8c20a" stroke="#7d6a35" stroke-width="0.6"/>
<rect x="477.49" y="397.29" width="5.42" height="5.42" fill="#f8c20a" stroke="#7d6a35" stroke-width="0.6"/>
<rect x="491.99" y="416.49" width="5.42" height="5.42" fill="#f8c20a" stroke="#7d6a35" stroke-width="0.6"/>
<rect x="506.49" y="406.79" width="5.42" height="5.42" fill="#f8c20a" stroke="#7d6a35" stroke-width="0.6"/>
<rect x="520.99" y="415.79" width="5.42" height="5.42" fill="#f8c20a" stroke="#7d6a35" stroke-width="0.6"/>
<rect x="535.49" y="416.99" width="5.42" height="5.42" fill="#f8c20a" stroke="#7d6a35" stroke-width="0.6"/>
<rect x="549.99" y="411.99" width="5.42" height="5.42" fill="#f8c20a" stroke="#7d6a35" stroke-width="0.6"/>
<rect x="564.49" y="410.09" width="5.42" height="5.42" fill="#f8c20a" stroke="#7d6a35" stroke-width="0.6"/>
<rect x="578.99" y="406.59" width="5.42" height="5.42" fill="#f8c20a" stroke="#7d6a35" stroke-width="0.6"/>
<rect x="593.49" y="409.09" width="5.42" height="5.42" fill="#f8c20a" stroke="#7d6a35" stroke-width="0.6"/>
<rect x="607.99" y="404.09" width="5.42" height="5.42" fill="#f8c20a" stroke="#7d6a35" stroke-width="0.6"/>
<rect x="622.49" y="403.89" width="5.42" height="5.42" fill="#f8c20a" stroke="#7d6a35" stroke-width="0.6"/>
<rect x="636.99" y="402.59" width="5.42" height="5.42" fill="#f8c20a" stroke="#7d6a35" stroke-width="0.6"/>
<rect x="651.49" y="402.89" width="5.42" height="5.42" fill="#f8c20a" stroke="#7d6a35" stroke-width="0.6"/>
<rect x="665.99" y="402.89" width="5.42" height="5.42" fill="#f8c20a" stroke="#7d6a35" stroke-width="0.6"/>
<path d="M364.20,382.19L367.05,376.78L361.35,376.78Z" fill="#f8c20a" stroke="#7d6a35" stroke-width="0.6"/>
<path d="M378.70,370.59L381.55,365.18L375.85,365.18Z" fill="#f8c20a" stroke="#7d6a35" stroke-width="0.6"/>
<path d="M393.20,389.99L396.05,384.58L390.35,384.58Z" fill="#f8c20a" stroke="#7d6a35" stroke-width="0.6"/>
<path d="M407.70,387.99L410.55,382.58L404.85,382.58Z" fill="#f8c20a" stroke="#7d6a35" stroke-width="0.6"/>
<path d="M422.20,397.69L425.05,392.28L419.35,392.28Z" fill="#f8c20a" stroke="#7d6a35" stroke-width="0.6"/>
<path d="M436.70,396.79L439.55,391.38L433.85,391.38Z" fill="#f8c20a" stroke="#7d6a35" stroke-width="0.6"/>
<path d="M451.20,408.99L454.05,403.58L448.35,403.58Z" fill="#f8c20a" stroke="#7d6a35" stroke-width="0.6"/>
<path d="M465.70,416.09L468.55,410.68L462.85,410.68Z" fill="#f8c20a" stroke="#7d6a35" stroke-width="0.6"/>
<path d="M480.20,376.49L483.05,371.08L477.35,371.08Z" fill="#f8c20a" stroke="#7d6a35" stroke-width="0.6"/>
<path d="M494.70,422.99L497.55,417.58L491.85,417.58Z" fill="#f8c20a" stroke="#7d6a35" stroke-width="0.6"/>
<path d="M509.20,409.69L512.05,404.28L506.35,404.28Z" fill="#f8c20a" stroke="#7d6a35" stroke-width="0.6"/>
<path d="M523.70,423.99L526.55,418.58L520.85,418.58Z" fill="#f8c20a" stroke="#7d6a35" stroke-width="0.6"/>
<path d="M538.20,426.39L541.05,420.98L535.35,420.98Z" fill="#f8c20a" stroke="#7d6a35" stroke-width="0.6"/>
<path d="M552.70,422.69L555.55,417.28L549.85,417.28Z" fill="#f8c20a" stroke="#7d6a35" stroke-width="0.6"/>
<path d="M567.20,422.19L570.05,416.78L564.35,416.78Z" fill="#f8c20a" stroke="#7d6a35" stroke-width="0.6"/>
<path d="M581.70,421.49L584.55,416.08L578.85,416.08Z" fill="#f8c20a" stroke="#7d6a35" stroke-width="0.6"/>
<path d="M596.20,422.19L599.05,416.78L593.35,416.78Z" fill="#f8c20a" stroke="#7d6a35" stroke-width="0.6"/>
<path d="M610.70,417.19L613.55,411.78L607.85,411.78Z" fill="#f8c20a" stroke="#7d6a35" stroke-width="0.6"/>
<path d="M625.20,416.49L628.05,411.08L622.35,411.08Z" fill="#f8c20a" stroke="#7d6a35" stroke-width="0.6"/>
<path d="M639.70,413.99L642.55,408.58L636.85,408.58Z" fill="#f8c20a" stroke="#7d6a35" stroke-width="0.6"/>
<path d="M654.20,412.29L657.05,406.88L651.35,406.88Z" fill="#f8c20a" stroke="#7d6a35" stroke-width="0.6"/>
<path d="M668.70,411.49L671.55,406.08L665.85,406.08Z" fill="#f8c20a" stroke="#7d6a35" stroke-width="0.6"/>
<path d="M364.20,385.09L367.05,379.68L361.35,379.68Z" fill="#f8c20a" stroke="#7d6a35" stroke-width="0.6"/>
<path d="M378.70,377.39L381.55,371.98L375.85,371.98Z" fill="#f8c20a" stroke="#7d6a35" stroke-width="0.6"/>
<path d="M393.20,396.79L396.05,391.38L390.35,391.38Z" fill="#f8c20a" stroke="#7d6a35" stroke-width="0.6"/>
<path d="M407.70,393.89L410.55,388.48L404.85,388.48Z" fill="#f8c20a" stroke="#7d6a35" stroke-width="0.6"/>
<path d="M422.20,402.99L425.05,397.58L419.35,397.58Z" fill="#f8c20a" stroke="#7d6a35" stroke-width="0.6"/>
<path d="M436.70,400.99L439.55,395.58L433.85,395.58Z" fill="#f8c20a" stroke="#7d6a35" stroke-width="0.6"/>
<path d="M451.20,413.19L454.05,407.78L448.35,407.78Z" fill="#f8c20a" stroke="#7d6a35" stroke-width="0.6"/>
<path d="M465.70,419.99L468.55,414.58L462.85,414.58Z" fill="#f8c20a" stroke="#7d6a35" stroke-width="0.6"/>
<path d="M480.20,382.99L483.05,377.58L477.35,377.58Z" fill="#f8c20a" stroke="#7d6a35" stroke-width="0.6"/>
<path d="M494.70,426.99L497.55,421.58L491.85,421.58Z" fill="#f8c20a" stroke="#7d6a35" stroke-width="0.6"/>
<path d="M509.20,411.99L512.05,406.58L506.35,406.58Z" fill="#f8c20a" stroke="#7d6a35" stroke-width="0.6"/>
<path d="M523.70,425.49L526.55,420.08L520.85,420.08Z" fill="#f8c20a" stroke="#7d6a35" stroke-width="0.6"/>
<path d="M538.20,427.99L541.05,422.58L535.35,422.58Z" fill="#f8c20a" stroke="#7d6a35" stroke-width="0.6"/>
<path d="M552.70,423.99L555.55,418.58L549.85,418.58Z" fill="#f8c20a" stroke="#7d6a35" stroke-width="0.6"/>
<path d="M567.20,423.49L570.05,418.08L564.35,418.08Z" fill="#f8c20a" stroke="#7d6a35" stroke-width="0.6"/>
<path d="M581.70,422.99L584.55,417.58L578.85,417.58Z" fill="#f8c20a" stroke="#7d6a35" stroke-width="0.6"/>
<path d="M596.20,423.49L599.05,418.08L593.35,418.08Z" fill="#f8c20a" stroke="#7d6a35" stroke-width="0.6"/>
<path d="M610.70,418.49L613.55,413.08L607.85,413.08Z" fill="#f8c20a" stroke="#7d6a35" stroke-width="0.6"/>
<path d="M625.20,417.49L628.05,412.08L622.35,412.08Z" fill="#f8c20a" stroke="#7d6a35" stroke-width="0.6"/>
<path d="M639.70,414.99L642.55,409.58L636.85,409.58Z" fill="#f8c20a" stroke="#7d6a35" stroke-width="0.6"/>
<path d="M654.20,413.49L657.05,408.08L651.35,408.08Z" fill="#f8c20a" stroke="#7d6a35" stroke-width="0.6"/>
<path d="M668.70,412.49L671.55,407.08L665.85,407.08Z" fill="#f8c20a" stroke="#7d6a35" stroke-width="0.6"/>
<path d="M364.20,403.49L367.05,398.08L361.35,398.08Z" fill="#f8c20a" stroke="#7d6a35" stroke-width="0.6"/>
<path d="M378.70,383.19L381.55,377.78L375.85,377.78Z" fill="#f8c20a" stroke="#7d6a35" stroke-width="0.6"/>
<path d="M393.20,410.29L396.05,404.88L390.35,404.88Z" fill="#f8c20a" stroke="#7d6a35" stroke-width="0.6"/>
<path d="M407.70,408.39L410.55,402.98L404.85,402.98Z" fill="#f8c20a" stroke="#7d6a35" stroke-width="0.6"/>
<path d="M422.20,407.39L425.05,401.98L419.35,401.98Z" fill="#f8c20a" stroke="#7d6a35" stroke-width="0.6"/>
<path d="M436.70,403.49L439.55,398.08L433.85,398.08Z" fill="#f8c20a" stroke="#7d6a35" stroke-width="0.6"/>
<path d="M451.20,418.09L454.05,412.68L448.35,412.68Z" fill="#f8c20a" stroke="#7d6a35" stroke-width="0.6"/>
<path d="M465.70,422.99L468.55,417.58L462.85,417.58Z" fill="#f8c20a" stroke="#7d6a35" stroke-width="0.6"/>
<path d="M480.20,420.99L483.05,415.58L477.35,415.58Z" fill="#f8c20a" stroke="#7d6a35" stroke-width="0.6"/>
<path d="M494.70,430.99L497.55,425.58L491.85,425.58Z" fill="#f8c20a" stroke="#7d6a35" stroke-width="0.6"/>
<path d="M509.20,414.29L512.05,408.88L506.35,408.88Z" fill="#f8c20a" stroke="#7d6a35" stroke-width="0.6"/>
<path d="M523.70,427.79L526.55,422.38L520.85,422.38Z" fill="#f8c20a" stroke="#7d6a35" stroke-width="0.6"/>
<path d="M538.20,428.99L541.05,423.58L535.35,423.58Z" fill="#f8c20a" stroke="#7d6a35" stroke-width="0.6"/>
<path d="M552.70,424.99L555.55,419.58L549.85,419.58Z" fill="#f8c20a" stroke="#7d6a35" stroke-width="0.6"/>
<path d="M567.20,424.49L570.05,419.08L564.35,419.08Z" fill="#f8c20a" stroke="#7d6a35" stroke-width="0.6"/>
<path d="M581.70,423.99L584.55,418.58L578.85,418.58Z" fill="#f8c20a" stroke="#7d6a35" stroke-width="0.6"/>
<path d="M596.20,424.49L599.05,419.08L593.35,419.08Z" fill="#f8c20a" stroke="#7d6a35" stroke-width="0.6"/>
<path d="M610.70,419.99L613.55,414.58L607.85,414.58Z" fill="#f8c20a" stroke="#7d6a35" stroke-width="0.6"/>
<path d="M625.20,418.99L628.05,413.58L622.35,413.58Z" fill="#f8c20a" stroke="#7d6a35" stroke-width="0.6"/>
<path d="M639.70,416.49L642.55,411.08L636.85,411.08Z" fill="#f8c20a" stroke="#7d6a35" stroke-width="0.6"/>
<path d="M654.20,414.99L657.05,409.58L651.35,409.58Z" fill="#f8c20a" stroke="#7d6a35" stroke-width="0.6"/>
<path d="M668.70,413.99L671.55,408.58L665.85,408.58Z" fill="#f8c20a" stroke="#7d6a35" stroke-width="0.6"/>
<rect x="29.30" y="2.50" width="283.30" height="144.10" fill="none" stroke="#231815" stroke-width="1.5"/>
<rect x="29.30" y="153.10" width="283.30" height="144.00" fill="none" stroke="#231815" stroke-width="1.5"/>
<rect x="29.30" y="301.70" width="283.30" height="144.40" fill="none" stroke="#231815" stroke-width="1.5"/>
<rect x="349.50" y="1.60" width="333.50" height="144.20" fill="none" stroke="#231815" stroke-width="1.5"/>
<rect x="349.50" y="151.90" width="333.50" height="144.10" fill="none" stroke="#231815" stroke-width="1.5"/>
<rect x="349.50" y="300.90" width="333.50" height="144.40" fill="none" stroke="#231815" stroke-width="1.5"/>
<text x="47.50" y="460.50" font-size="10" font-weight="bold" text-anchor="middle" >La</text>
<text x="65.21" y="460.50" font-size="10" font-weight="bold" text-anchor="middle" >Ce</text>
<text x="82.92" y="460.50" font-size="10" font-weight="bold" text-anchor="middle" >Pr</text>
<text x="100.63" y="460.50" font-size="10" font-weight="bold" text-anchor="middle" >Nd</text>
<text x="136.05" y="460.50" font-size="10" font-weight="bold" text-anchor="middle" >Sm</text>
<text x="153.76" y="460.50" font-size="10" font-weight="bold" text-anchor="middle" >Eu</text>
<text x="171.47" y="460.50" font-size="10" font-weight="bold" text-anchor="middle" >Gd</text>
<text x="189.18" y="460.50" font-size="10" font-weight="bold" text-anchor="middle" >Tb</text>
<text x="206.89" y="460.50" font-size="10" font-weight="bold" text-anchor="middle" >Dy</text>
<text x="224.60" y="460.50" font-size="10" font-weight="bold" text-anchor="middle" >Ho</text>
<text x="242.31" y="460.50" font-size="10" font-weight="bold" text-anchor="middle" >Er</text>
<text x="260.02" y="460.50" font-size="10" font-weight="bold" text-anchor="middle" >Tm</text>
<text x="277.73" y="460.50" font-size="10" font-weight="bold" text-anchor="middle" >Yb</text>
<text x="295.44" y="460.50" font-size="10" font-weight="bold" text-anchor="middle" >Lu</text>
<text x="364.20" y="459.60" font-size="10" font-weight="bold" text-anchor="middle" letter-spacing="-0.15">Rb</text>
<text x="378.70" y="459.60" font-size="10" font-weight="bold" text-anchor="middle" letter-spacing="-0.15">Ba</text>
<text x="393.20" y="459.60" font-size="10" font-weight="bold" text-anchor="middle" letter-spacing="-0.15">Th</text>
<text x="407.70" y="459.60" font-size="10" font-weight="bold" text-anchor="middle" letter-spacing="-0.15">U</text>
<text x="422.20" y="459.60" font-size="10" font-weight="bold" text-anchor="middle" letter-spacing="-0.15">Nb</text>
<text x="436.70" y="459.60" font-size="10" font-weight="bold" text-anchor="middle" letter-spacing="-0.15">Ta</text>
<text x="451.20" y="459.60" font-size="10" font-weight="bold" text-anchor="middle" letter-spacing="-0.15">La</text>
<text x="465.70" y="459.60" font-size="10" font-weight="bold" text-anchor="middle" letter-spacing="-0.15">Ce</text>
<text x="480.20" y="459.60" font-size="10" font-weight="bold" text-anchor="middle" letter-spacing="-0.15">Pb</text>
<text x="494.70" y="459.60" font-size="10" font-weight="bold" text-anchor="middle" letter-spacing="-0.15">Pr</text>
<text x="509.20" y="459.60" font-size="10" font-weight="bold" text-anchor="middle" letter-spacing="-0.15">Sr</text>
<text x="523.70" y="459.60" font-size="10" font-weight="bold" text-anchor="middle" letter-spacing="-0.15">Nd</text>
<text x="538.20" y="459.60" font-size="10" font-weight="bold" text-anchor="middle" letter-spacing="-0.15">Zr</text>
<text x="552.70" y="459.60" font-size="10" font-weight="bold" text-anchor="middle" letter-spacing="-0.15">Hf</text>
<text x="567.20" y="459.60" font-size="10" font-weight="bold" text-anchor="middle" letter-spacing="-0.15">Sm</text>
<text x="581.70" y="459.60" font-size="10" font-weight="bold" text-anchor="middle" letter-spacing="-0.15">Eu</text>
<text x="596.20" y="459.60" font-size="10" font-weight="bold" text-anchor="middle" letter-spacing="-0.15">Ti</text>
<text x="610.70" y="459.60" font-size="10" font-weight="bold" text-anchor="middle" letter-spacing="-0.15">Gd</text>
<text x="625.20" y="459.60" font-size="10" font-weight="bold" text-anchor="middle" letter-spacing="-0.15">Tb</text>
<text x="639.70" y="459.60" font-size="10" font-weight="bold" text-anchor="middle" letter-spacing="-0.15">Y</text>
<text x="654.20" y="459.60" font-size="10" font-weight="bold" text-anchor="middle" letter-spacing="-0.15">Yb</text>
<text x="668.70" y="459.60" font-size="10" font-weight="bold" text-anchor="middle" letter-spacing="-0.15">Lu</text>
<rect x="548" y="4" width="134" height="39" fill="#fff"/>
<rect x="539" y="156" width="143" height="61" fill="#fff"/>
<rect x="533" y="305" width="149" height="37" fill="#fff"/>
<line x1="552.80" y1="14.00" x2="577.30" y2="14.00" stroke="#7c1214" stroke-width="1.8"/>
<path d="M565.10,11.06L567.90,16.38L562.30,16.38Z" fill="#f8d4c2" stroke="#5e4a4a" stroke-width="0.6"/>
<text x="582.60" y="17.90" font-size="10.3" font-weight="normal" text-anchor="start" textLength="26.6" lengthAdjust="spacingAndGlyphs" >basalt</text>
<line x1="552.80" y1="25.10" x2="577.30" y2="25.10" stroke="#e8717b" stroke-width="1.6"/>
<path d="M565.10,28.04L567.90,22.72L562.30,22.72Z" fill="#df5d69" stroke="#6e4046" stroke-width="0.6"/>
<text x="582.60" y="29.00" font-size="10.3" font-weight="normal" text-anchor="start" textLength="91.6" lengthAdjust="spacingAndGlyphs" >dolerite (8.7-8.1 Ma)</text>
<line x1="552.80" y1="36.60" x2="577.30" y2="36.60" stroke="#e4707a" stroke-width="1.6"/>
<rect x="562.44" y="33.94" width="5.32" height="5.32" fill="#e0646e" stroke="#6e4046" stroke-width="0.6"/>
<text x="582.60" y="40.50" font-size="10.3" font-weight="normal" text-anchor="start" textLength="90.1" lengthAdjust="spacingAndGlyphs" >gabbro (8.6-8.5 Ma)</text>
<line x1="542.00" y1="164.90" x2="566.50" y2="164.90" stroke="#1f2a5e" stroke-width="1.6"/>
<path d="M554.30,161.96L557.10,167.28L551.50,167.28Z" fill="#a9d7ea" stroke="#66727c" stroke-width="0.6"/>
<text x="571.70" y="168.80" font-size="10.3" font-weight="normal" text-anchor="start" >basalt</text>
<line x1="542.00" y1="176.10" x2="566.50" y2="176.10" stroke="#1d67b0" stroke-width="1.6"/>
<path d="M554.30,179.04L557.10,173.72L551.50,173.72Z" fill="#1c7cc4" stroke="#4d5f70" stroke-width="0.6"/>
<text x="571.70" y="180.00" font-size="10.3" font-weight="normal" text-anchor="start" >dolerite</text>
<line x1="542.00" y1="187.60" x2="566.50" y2="187.60" stroke="#1b72bd" stroke-width="1.6"/>
<circle cx="554.30" cy="187.60" r="2.94" fill="#14a1de" stroke="#56666f" stroke-width="0.6"/>
<text x="571.70" y="191.50" font-size="10.3" font-weight="normal" text-anchor="start" >gabbro</text>
<line x1="542.00" y1="198.60" x2="566.50" y2="198.60" stroke="#2fb2e8" stroke-width="1.6"/>
<rect x="551.64" y="195.94" width="5.32" height="5.32" fill="#18a8e2" stroke="#5a6a72" stroke-width="0.6"/>
<text x="571.70" y="202.50" font-size="10.3" font-weight="normal" text-anchor="start" >plagiogranite (~8.7 Ma)</text>
<line x1="542.00" y1="209.90" x2="566.50" y2="209.90" stroke="#6b2278" stroke-width="1.6"/>
<text x="571.70" y="213.80" font-size="10.3" font-weight="normal" text-anchor="start" >spilite (10.2-10.1 Ma)</text>
<line x1="536.20" y1="313.90" x2="560.70" y2="313.90" stroke="#707e22" stroke-width="1.6"/>
<path d="M548.50,316.84L551.30,311.52L545.70,311.52Z" fill="#f8c20a" stroke="#7d6a35" stroke-width="0.6"/>
<text x="565.20" y="317.80" font-size="10.3" font-weight="normal" text-anchor="start" >dolerite</text>
<line x1="536.20" y1="324.90" x2="560.70" y2="324.90" stroke="#f8c30e" stroke-width="1.6"/>
<circle cx="548.50" cy="324.90" r="2.94" fill="#f8c20a" stroke="#7d6a35" stroke-width="0.6"/>
<text x="565.20" y="328.80" font-size="10.3" font-weight="normal" text-anchor="start" >gabbro (~10.1 Ma)</text>
<line x1="536.20" y1="335.80" x2="560.70" y2="335.80" stroke="#f8c30e" stroke-width="1.6"/>
<rect x="545.84" y="333.14" width="5.32" height="5.32" fill="#f8c20a" stroke="#7d6a35" stroke-width="0.6"/>
<text x="565.20" y="339.70" font-size="10.3" font-weight="normal" text-anchor="start" >plagiogranite (~10.3 Ma)</text>
</g></svg>
</body></html>
